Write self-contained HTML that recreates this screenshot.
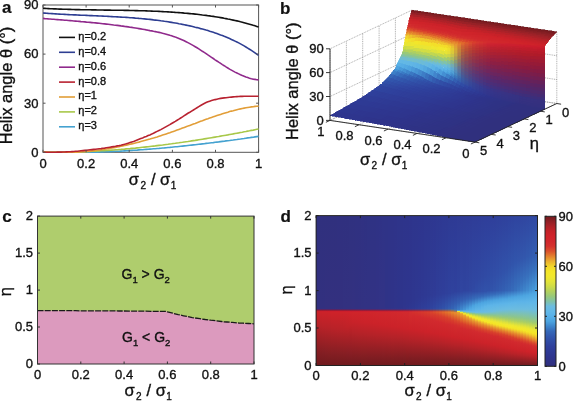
<!DOCTYPE html>
<html><head><meta charset="utf-8"><style>
html,body{margin:0;padding:0;background:#fff;}
svg{display:block;will-change:transform;}
text{font-family:"Liberation Sans", sans-serif;fill:#111;stroke:#111;stroke-width:0.35px;}
.pl{stroke-width:0.2px;}
.t{font-size:13px;}
.lg{font-size:11px;}
.lb{font-size:16.5px;}
.sb{font-size:10px;}
.sb2{font-size:9.5px;}
.g{font-size:14px;}
.pl{font-size:17px;font-weight:bold;}
</style></head><body>
<svg width="573" height="401" viewBox="0 0 573 401">
<defs><linearGradient id="d0" x1="0" y1="0" x2="0" y2="1"><stop offset="0.0000" stop-color="#30307e"/><stop offset="0.6185" stop-color="#32307f"/><stop offset="0.6210" stop-color="#35307f"/><stop offset="0.6260" stop-color="#592362"/><stop offset="0.6310" stop-color="#8c1a3b"/><stop offset="0.6335" stop-color="#a21b2f"/><stop offset="0.6360" stop-color="#b51b2a"/><stop offset="0.6385" stop-color="#c71c2b"/><stop offset="0.6410" stop-color="#cb2229"/><stop offset="0.7312" stop-color="#b82228"/><stop offset="0.9062" stop-color="#841e23"/><stop offset="1.0000" stop-color="#701a1e"/></linearGradient><linearGradient id="d1" x1="0" y1="0" x2="0" y2="1"><stop offset="0.0000" stop-color="#30307e"/><stop offset="0.6186" stop-color="#32307f"/><stop offset="0.6211" stop-color="#35307f"/><stop offset="0.6261" stop-color="#592363"/><stop offset="0.6311" stop-color="#8c1a3b"/><stop offset="0.6336" stop-color="#a21b2f"/><stop offset="0.6361" stop-color="#b61b2a"/><stop offset="0.6386" stop-color="#c81c2b"/><stop offset="0.6411" stop-color="#cc2229"/><stop offset="0.7375" stop-color="#b72228"/><stop offset="0.9187" stop-color="#821d22"/><stop offset="1.0000" stop-color="#701a1e"/></linearGradient><linearGradient id="d2" x1="0" y1="0" x2="0" y2="1"><stop offset="0.0000" stop-color="#30307e"/><stop offset="0.6187" stop-color="#32307f"/><stop offset="0.6212" stop-color="#35307f"/><stop offset="0.6262" stop-color="#592363"/><stop offset="0.6312" stop-color="#8d1a3b"/><stop offset="0.6337" stop-color="#a31b2f"/><stop offset="0.6362" stop-color="#b71b2a"/><stop offset="0.6387" stop-color="#c91c2c"/><stop offset="0.6412" stop-color="#cd2229"/><stop offset="0.7375" stop-color="#b92228"/><stop offset="0.9125" stop-color="#841e23"/><stop offset="1.0000" stop-color="#701a1e"/></linearGradient><linearGradient id="d3" x1="0" y1="0" x2="0" y2="1"><stop offset="0.0000" stop-color="#30307e"/><stop offset="0.6187" stop-color="#33307f"/><stop offset="0.6212" stop-color="#35307f"/><stop offset="0.6262" stop-color="#5a2363"/><stop offset="0.6312" stop-color="#8d1a3b"/><stop offset="0.6337" stop-color="#a31b2f"/><stop offset="0.6362" stop-color="#b71b2a"/><stop offset="0.6387" stop-color="#c91c2c"/><stop offset="0.6412" stop-color="#cd2229"/><stop offset="0.7437" stop-color="#b82228"/><stop offset="0.9187" stop-color="#841e23"/><stop offset="1.0000" stop-color="#701a1e"/></linearGradient><linearGradient id="d4" x1="0" y1="0" x2="0" y2="1"><stop offset="0.0000" stop-color="#30307e"/><stop offset="0.6188" stop-color="#33307f"/><stop offset="0.6213" stop-color="#35307f"/><stop offset="0.6263" stop-color="#5a2363"/><stop offset="0.6313" stop-color="#8e1a3b"/><stop offset="0.6338" stop-color="#a41b2f"/><stop offset="0.6363" stop-color="#b81b2a"/><stop offset="0.6388" stop-color="#ca1c2c"/><stop offset="0.6413" stop-color="#ce2229"/><stop offset="0.7500" stop-color="#b72228"/><stop offset="0.9250" stop-color="#831e22"/><stop offset="1.0000" stop-color="#701a1e"/></linearGradient><linearGradient id="d5" x1="0" y1="0" x2="0" y2="1"><stop offset="0.0000" stop-color="#30307e"/><stop offset="0.6189" stop-color="#33307f"/><stop offset="0.6214" stop-color="#353080"/><stop offset="0.6264" stop-color="#5a2363"/><stop offset="0.6314" stop-color="#8e1a3c"/><stop offset="0.6339" stop-color="#a41b2f"/><stop offset="0.6364" stop-color="#b81b2a"/><stop offset="0.6389" stop-color="#cb1c2c"/><stop offset="0.6414" stop-color="#cf2229"/><stop offset="0.7500" stop-color="#b92228"/><stop offset="0.9187" stop-color="#851e23"/><stop offset="1.0000" stop-color="#701a1e"/></linearGradient><linearGradient id="d6" x1="0" y1="0" x2="0" y2="1"><stop offset="0.0000" stop-color="#30307e"/><stop offset="0.6189" stop-color="#33307f"/><stop offset="0.6214" stop-color="#353180"/><stop offset="0.6264" stop-color="#5a2363"/><stop offset="0.6314" stop-color="#8e1a3c"/><stop offset="0.6339" stop-color="#a41b2f"/><stop offset="0.6364" stop-color="#b91b2a"/><stop offset="0.6389" stop-color="#cb1c2c"/><stop offset="0.6414" stop-color="#cf2229"/><stop offset="0.7500" stop-color="#ba2228"/><stop offset="0.9187" stop-color="#851e23"/><stop offset="1.0000" stop-color="#701a1e"/></linearGradient><linearGradient id="d7" x1="0" y1="0" x2="0" y2="1"><stop offset="0.0000" stop-color="#30307f"/><stop offset="0.6190" stop-color="#33307f"/><stop offset="0.6215" stop-color="#353180"/><stop offset="0.6265" stop-color="#5a2463"/><stop offset="0.6315" stop-color="#8e1b3c"/><stop offset="0.6340" stop-color="#a41b30"/><stop offset="0.6365" stop-color="#b91b2a"/><stop offset="0.6390" stop-color="#cb1c2c"/><stop offset="0.6415" stop-color="#cf2229"/><stop offset="0.7562" stop-color="#b92228"/><stop offset="0.9250" stop-color="#841e23"/><stop offset="1.0000" stop-color="#701a1e"/></linearGradient><linearGradient id="d8" x1="0" y1="0" x2="0" y2="1"><stop offset="0.0000" stop-color="#30307f"/><stop offset="0.6191" stop-color="#33307f"/><stop offset="0.6216" stop-color="#353180"/><stop offset="0.6266" stop-color="#5a2463"/><stop offset="0.6316" stop-color="#8e1b3c"/><stop offset="0.6341" stop-color="#a41b30"/><stop offset="0.6366" stop-color="#b91c2a"/><stop offset="0.6391" stop-color="#cb1c2c"/><stop offset="0.6416" stop-color="#cf2329"/><stop offset="0.7562" stop-color="#ba2228"/><stop offset="0.9187" stop-color="#861e23"/><stop offset="1.0000" stop-color="#701a1e"/></linearGradient><linearGradient id="d9" x1="0" y1="0" x2="0" y2="1"><stop offset="0.0000" stop-color="#30307f"/><stop offset="0.6191" stop-color="#333180"/><stop offset="0.6216" stop-color="#353180"/><stop offset="0.6266" stop-color="#5a2464"/><stop offset="0.6316" stop-color="#8e1b3c"/><stop offset="0.6341" stop-color="#a41b30"/><stop offset="0.6366" stop-color="#b91c2b"/><stop offset="0.6391" stop-color="#cb1c2c"/><stop offset="0.6416" stop-color="#cf232a"/><stop offset="0.7500" stop-color="#bd2228"/><stop offset="0.9187" stop-color="#871e23"/><stop offset="1.0000" stop-color="#701a1e"/></linearGradient><linearGradient id="d10" x1="0" y1="0" x2="0" y2="1"><stop offset="0.0000" stop-color="#30307f"/><stop offset="0.6192" stop-color="#333180"/><stop offset="0.6217" stop-color="#353181"/><stop offset="0.6267" stop-color="#5a2464"/><stop offset="0.6317" stop-color="#8e1b3c"/><stop offset="0.6342" stop-color="#a51c30"/><stop offset="0.6367" stop-color="#b91c2b"/><stop offset="0.6392" stop-color="#cb1d2d"/><stop offset="0.6438" stop-color="#cf232a"/><stop offset="0.7437" stop-color="#c02228"/><stop offset="0.9187" stop-color="#871e24"/><stop offset="1.0000" stop-color="#701a1e"/></linearGradient><linearGradient id="d11" x1="0" y1="0" x2="0" y2="1"><stop offset="0.0000" stop-color="#303180"/><stop offset="0.6193" stop-color="#333180"/><stop offset="0.6218" stop-color="#353181"/><stop offset="0.6268" stop-color="#5a2464"/><stop offset="0.6318" stop-color="#8e1b3d"/><stop offset="0.6343" stop-color="#a51c30"/><stop offset="0.6368" stop-color="#b91c2b"/><stop offset="0.6393" stop-color="#cb1d2d"/><stop offset="0.6438" stop-color="#d0232a"/><stop offset="0.7250" stop-color="#c42228"/><stop offset="0.9187" stop-color="#881e24"/><stop offset="1.0000" stop-color="#701a1e"/></linearGradient><linearGradient id="d12" x1="0" y1="0" x2="0" y2="1"><stop offset="0.0000" stop-color="#303180"/><stop offset="0.6193" stop-color="#333181"/><stop offset="0.6218" stop-color="#353181"/><stop offset="0.6268" stop-color="#5a2465"/><stop offset="0.6318" stop-color="#8f1b3d"/><stop offset="0.6343" stop-color="#a51c31"/><stop offset="0.6368" stop-color="#b91d2b"/><stop offset="0.6393" stop-color="#cb1d2d"/><stop offset="0.6438" stop-color="#d0242a"/><stop offset="0.7063" stop-color="#c92229"/><stop offset="0.7812" stop-color="#b52228"/><stop offset="0.9375" stop-color="#821d22"/><stop offset="1.0000" stop-color="#701a1e"/></linearGradient><linearGradient id="d13" x1="0" y1="0" x2="0" y2="1"><stop offset="0.0000" stop-color="#303181"/><stop offset="0.6194" stop-color="#323181"/><stop offset="0.6219" stop-color="#353182"/><stop offset="0.6269" stop-color="#5a2565"/><stop offset="0.6319" stop-color="#8f1c3d"/><stop offset="0.6344" stop-color="#a51c31"/><stop offset="0.6369" stop-color="#b91d2b"/><stop offset="0.6394" stop-color="#cb1d2d"/><stop offset="0.6438" stop-color="#d0242a"/><stop offset="0.7125" stop-color="#c82229"/><stop offset="0.7875" stop-color="#b42228"/><stop offset="0.9437" stop-color="#801d22"/><stop offset="1.0000" stop-color="#701a1e"/></linearGradient><linearGradient id="d14" x1="0" y1="0" x2="0" y2="1"><stop offset="0.0000" stop-color="#303181"/><stop offset="0.6195" stop-color="#323182"/><stop offset="0.6220" stop-color="#353282"/><stop offset="0.6270" stop-color="#5a2565"/><stop offset="0.6320" stop-color="#8f1c3e"/><stop offset="0.6345" stop-color="#a51d31"/><stop offset="0.6370" stop-color="#b91d2c"/><stop offset="0.6395" stop-color="#cc1e2d"/><stop offset="0.6438" stop-color="#d0242a"/><stop offset="0.7125" stop-color="#c92229"/><stop offset="0.7875" stop-color="#b52228"/><stop offset="0.9437" stop-color="#811d22"/><stop offset="1.0000" stop-color="#701a1e"/></linearGradient><linearGradient id="d15" x1="0" y1="0" x2="0" y2="1"><stop offset="0.0000" stop-color="#303182"/><stop offset="0.6195" stop-color="#323282"/><stop offset="0.6220" stop-color="#353283"/><stop offset="0.6270" stop-color="#5a2566"/><stop offset="0.6320" stop-color="#8f1c3e"/><stop offset="0.6345" stop-color="#a51d31"/><stop offset="0.6370" stop-color="#b91d2c"/><stop offset="0.6395" stop-color="#cc1e2e"/><stop offset="0.6438" stop-color="#d0242b"/><stop offset="0.7125" stop-color="#ca2229"/><stop offset="0.7875" stop-color="#b52228"/><stop offset="0.9375" stop-color="#831e22"/><stop offset="1.0000" stop-color="#701a1e"/></linearGradient><linearGradient id="d16" x1="0" y1="0" x2="0" y2="1"><stop offset="0.0000" stop-color="#2f3182"/><stop offset="0.6196" stop-color="#323283"/><stop offset="0.6221" stop-color="#353283"/><stop offset="0.6271" stop-color="#5a2566"/><stop offset="0.6321" stop-color="#8f1c3e"/><stop offset="0.6346" stop-color="#a51d32"/><stop offset="0.6371" stop-color="#b91e2c"/><stop offset="0.6396" stop-color="#cc1e2e"/><stop offset="0.6438" stop-color="#d0252b"/><stop offset="0.7125" stop-color="#cb2229"/><stop offset="0.7875" stop-color="#b62228"/><stop offset="0.9375" stop-color="#831e22"/><stop offset="1.0000" stop-color="#701a1e"/></linearGradient><linearGradient id="d17" x1="0" y1="0" x2="0" y2="1"><stop offset="0.0000" stop-color="#2f3283"/><stop offset="0.6197" stop-color="#323283"/><stop offset="0.6222" stop-color="#353284"/><stop offset="0.6272" stop-color="#5a2566"/><stop offset="0.6322" stop-color="#8f1d3f"/><stop offset="0.6347" stop-color="#a51d32"/><stop offset="0.6372" stop-color="#b91e2c"/><stop offset="0.6397" stop-color="#cc1f2e"/><stop offset="0.6438" stop-color="#d0252b"/><stop offset="0.7125" stop-color="#cb2229"/><stop offset="0.7937" stop-color="#b52228"/><stop offset="0.9437" stop-color="#811d22"/><stop offset="1.0000" stop-color="#701a1e"/></linearGradient><linearGradient id="d18" x1="0" y1="0" x2="0" y2="1"><stop offset="0.0000" stop-color="#2f3284"/><stop offset="0.6198" stop-color="#323284"/><stop offset="0.6222" stop-color="#353284"/><stop offset="0.6272" stop-color="#5a2667"/><stop offset="0.6322" stop-color="#8f1d3f"/><stop offset="0.6347" stop-color="#a51e32"/><stop offset="0.6372" stop-color="#b91e2d"/><stop offset="0.6398" stop-color="#cc1f2e"/><stop offset="0.6438" stop-color="#d0252b"/><stop offset="0.7188" stop-color="#cb2229"/><stop offset="0.7937" stop-color="#b52228"/><stop offset="0.9437" stop-color="#811d22"/><stop offset="1.0000" stop-color="#701a1e"/></linearGradient><linearGradient id="d19" x1="0" y1="0" x2="0" y2="1"><stop offset="0.0000" stop-color="#2f3284"/><stop offset="0.6198" stop-color="#323284"/><stop offset="0.6223" stop-color="#353385"/><stop offset="0.6273" stop-color="#5b2667"/><stop offset="0.6323" stop-color="#8f1d3f"/><stop offset="0.6348" stop-color="#a51e33"/><stop offset="0.6373" stop-color="#b91e2d"/><stop offset="0.6398" stop-color="#cc1f2e"/><stop offset="0.6438" stop-color="#d0262b"/><stop offset="0.7188" stop-color="#cc2229"/><stop offset="0.7937" stop-color="#b62228"/><stop offset="0.9437" stop-color="#811d22"/><stop offset="1.0000" stop-color="#701a1e"/></linearGradient><linearGradient id="d20" x1="0" y1="0" x2="0" y2="1"><stop offset="0.0000" stop-color="#2f3285"/><stop offset="0.6199" stop-color="#323285"/><stop offset="0.6224" stop-color="#353385"/><stop offset="0.6274" stop-color="#5b2668"/><stop offset="0.6324" stop-color="#8f1d40"/><stop offset="0.6349" stop-color="#a51e33"/><stop offset="0.6374" stop-color="#ba1f2d"/><stop offset="0.6399" stop-color="#cc1f2f"/><stop offset="0.6438" stop-color="#d1262c"/><stop offset="0.7250" stop-color="#cb2229"/><stop offset="0.8000" stop-color="#b52228"/><stop offset="0.9437" stop-color="#811d22"/><stop offset="1.0000" stop-color="#701a1e"/></linearGradient><linearGradient id="d21" x1="0" y1="0" x2="0" y2="1"><stop offset="0.0000" stop-color="#2f3286"/><stop offset="0.6200" stop-color="#323386"/><stop offset="0.6225" stop-color="#353386"/><stop offset="0.6275" stop-color="#5b2668"/><stop offset="0.6325" stop-color="#8f1e40"/><stop offset="0.6350" stop-color="#a51e33"/><stop offset="0.6375" stop-color="#ba1f2e"/><stop offset="0.6400" stop-color="#cc202f"/><stop offset="0.6438" stop-color="#d1262c"/><stop offset="0.7250" stop-color="#cc2229"/><stop offset="0.8000" stop-color="#b52228"/><stop offset="0.9437" stop-color="#811d22"/><stop offset="1.0000" stop-color="#701a1e"/></linearGradient><linearGradient id="d22" x1="0" y1="0" x2="0" y2="1"><stop offset="0.0000" stop-color="#2f3387"/><stop offset="0.6200" stop-color="#323386"/><stop offset="0.6225" stop-color="#353386"/><stop offset="0.6275" stop-color="#5b2769"/><stop offset="0.6325" stop-color="#8f1e40"/><stop offset="0.6350" stop-color="#a51f34"/><stop offset="0.6375" stop-color="#ba1f2e"/><stop offset="0.6400" stop-color="#cc202f"/><stop offset="0.6438" stop-color="#d1272c"/><stop offset="0.7312" stop-color="#cb2229"/><stop offset="0.8000" stop-color="#b62228"/><stop offset="0.9375" stop-color="#841e23"/><stop offset="1.0000" stop-color="#701a1e"/></linearGradient><linearGradient id="d23" x1="0" y1="0" x2="0" y2="1"><stop offset="0.0000" stop-color="#2f3387"/><stop offset="0.6176" stop-color="#2f3387"/><stop offset="0.6226" stop-color="#353487"/><stop offset="0.6276" stop-color="#5b2769"/><stop offset="0.6326" stop-color="#8f1e41"/><stop offset="0.6351" stop-color="#a51f34"/><stop offset="0.6376" stop-color="#ba202e"/><stop offset="0.6401" stop-color="#cc202f"/><stop offset="0.6438" stop-color="#d1272c"/><stop offset="0.7312" stop-color="#cc2229"/><stop offset="0.8063" stop-color="#b42228"/><stop offset="0.9437" stop-color="#821d22"/><stop offset="1.0000" stop-color="#701a1e"/></linearGradient><linearGradient id="d24" x1="0" y1="0" x2="0" y2="1"><stop offset="0.0000" stop-color="#2f3388"/><stop offset="0.6176" stop-color="#2f3388"/><stop offset="0.6226" stop-color="#353488"/><stop offset="0.6276" stop-color="#5a276a"/><stop offset="0.6326" stop-color="#8f1f41"/><stop offset="0.6351" stop-color="#a51f34"/><stop offset="0.6376" stop-color="#ba202f"/><stop offset="0.6401" stop-color="#cd2130"/><stop offset="0.6438" stop-color="#d1272c"/><stop offset="0.7375" stop-color="#cb2229"/><stop offset="0.8063" stop-color="#b52228"/><stop offset="0.9500" stop-color="#801d22"/><stop offset="1.0000" stop-color="#701a1e"/></linearGradient><linearGradient id="d25" x1="0" y1="0" x2="0" y2="1"><stop offset="0.0000" stop-color="#2f3388"/><stop offset="0.6177" stop-color="#2f3389"/><stop offset="0.6227" stop-color="#353489"/><stop offset="0.6277" stop-color="#5a286b"/><stop offset="0.6327" stop-color="#8f1f42"/><stop offset="0.6352" stop-color="#a52035"/><stop offset="0.6377" stop-color="#ba202f"/><stop offset="0.6402" stop-color="#cd2130"/><stop offset="0.6438" stop-color="#d1282d"/><stop offset="0.7375" stop-color="#cc2229"/><stop offset="0.8125" stop-color="#b42228"/><stop offset="0.9563" stop-color="#7e1d21"/><stop offset="1.0000" stop-color="#701a1e"/></linearGradient><linearGradient id="d26" x1="0" y1="0" x2="0" y2="1"><stop offset="0.0000" stop-color="#2f3389"/><stop offset="0.6177" stop-color="#2f348a"/><stop offset="0.6227" stop-color="#353589"/><stop offset="0.6277" stop-color="#5a286b"/><stop offset="0.6327" stop-color="#8f1f42"/><stop offset="0.6352" stop-color="#a62035"/><stop offset="0.6377" stop-color="#ba212f"/><stop offset="0.6402" stop-color="#cd2230"/><stop offset="0.6438" stop-color="#d1282d"/><stop offset="0.7437" stop-color="#cb2229"/><stop offset="0.8125" stop-color="#b42228"/><stop offset="0.9500" stop-color="#801d22"/><stop offset="1.0000" stop-color="#701a1e"/></linearGradient><linearGradient id="d27" x1="0" y1="0" x2="0" y2="1"><stop offset="0.0000" stop-color="#2f348a"/><stop offset="0.6178" stop-color="#2e348b"/><stop offset="0.6228" stop-color="#35358a"/><stop offset="0.6278" stop-color="#5a286c"/><stop offset="0.6328" stop-color="#8f2043"/><stop offset="0.6353" stop-color="#a62136"/><stop offset="0.6378" stop-color="#ba2130"/><stop offset="0.6403" stop-color="#cd2231"/><stop offset="0.6438" stop-color="#d2292d"/><stop offset="0.7437" stop-color="#cc2229"/><stop offset="0.8125" stop-color="#b52228"/><stop offset="0.9437" stop-color="#821d22"/><stop offset="1.0000" stop-color="#701a1e"/></linearGradient><linearGradient id="d28" x1="0" y1="0" x2="0" y2="1"><stop offset="0.0000" stop-color="#2e348a"/><stop offset="0.6178" stop-color="#2e348c"/><stop offset="0.6228" stop-color="#35358b"/><stop offset="0.6278" stop-color="#5a296d"/><stop offset="0.6328" stop-color="#8f2044"/><stop offset="0.6353" stop-color="#a62137"/><stop offset="0.6378" stop-color="#ba2230"/><stop offset="0.6403" stop-color="#cd2231"/><stop offset="0.6438" stop-color="#d2292d"/><stop offset="0.7500" stop-color="#cb2229"/><stop offset="0.8187" stop-color="#b32228"/><stop offset="0.9500" stop-color="#801d22"/><stop offset="1.0000" stop-color="#701a1e"/></linearGradient><linearGradient id="d29" x1="0" y1="0" x2="0" y2="1"><stop offset="0.0000" stop-color="#2e348b"/><stop offset="0.5938" stop-color="#2e358d"/><stop offset="0.6203" stop-color="#31358d"/><stop offset="0.6228" stop-color="#34368d"/><stop offset="0.6278" stop-color="#5a296e"/><stop offset="0.6328" stop-color="#8f2145"/><stop offset="0.6353" stop-color="#a62137"/><stop offset="0.6378" stop-color="#ba2231"/><stop offset="0.6403" stop-color="#cd2332"/><stop offset="0.6438" stop-color="#d22a2e"/><stop offset="0.7500" stop-color="#cc2229"/><stop offset="0.8125" stop-color="#b72228"/><stop offset="0.9437" stop-color="#821e22"/><stop offset="1.0000" stop-color="#701a1e"/></linearGradient><linearGradient id="d30" x1="0" y1="0" x2="0" y2="1"><stop offset="0.0000" stop-color="#2e348b"/><stop offset="0.5750" stop-color="#2e358e"/><stop offset="0.6179" stop-color="#2e368f"/><stop offset="0.6229" stop-color="#35378e"/><stop offset="0.6279" stop-color="#5b2a6f"/><stop offset="0.6329" stop-color="#8f2245"/><stop offset="0.6354" stop-color="#a62238"/><stop offset="0.6379" stop-color="#bb2331"/><stop offset="0.6404" stop-color="#cd2432"/><stop offset="0.6438" stop-color="#d22a2e"/><stop offset="0.7562" stop-color="#cb2229"/><stop offset="0.8250" stop-color="#b32228"/><stop offset="0.9688" stop-color="#7a1c20"/><stop offset="1.0000" stop-color="#701a1e"/></linearGradient><linearGradient id="d31" x1="0" y1="0" x2="0" y2="1"><stop offset="0.0000" stop-color="#2e348c"/><stop offset="0.5625" stop-color="#2e358e"/><stop offset="0.6179" stop-color="#2e3791"/><stop offset="0.6229" stop-color="#35388f"/><stop offset="0.6279" stop-color="#5b2c70"/><stop offset="0.6329" stop-color="#902446"/><stop offset="0.6354" stop-color="#a62538"/><stop offset="0.6379" stop-color="#bb2531"/><stop offset="0.6404" stop-color="#ce2632"/><stop offset="0.6438" stop-color="#d32d2e"/><stop offset="0.7562" stop-color="#cc2229"/><stop offset="0.8187" stop-color="#b72228"/><stop offset="0.9500" stop-color="#801d22"/><stop offset="1.0000" stop-color="#701a1e"/></linearGradient><linearGradient id="d32" x1="0" y1="0" x2="0" y2="1"><stop offset="0.0000" stop-color="#2e358d"/><stop offset="0.5562" stop-color="#2e368f"/><stop offset="0.6179" stop-color="#2e3892"/><stop offset="0.6229" stop-color="#353a90"/><stop offset="0.6279" stop-color="#5b2e71"/><stop offset="0.6329" stop-color="#902646"/><stop offset="0.6354" stop-color="#a72738"/><stop offset="0.6379" stop-color="#bc2832"/><stop offset="0.6404" stop-color="#cf2932"/><stop offset="0.6438" stop-color="#d4302d"/><stop offset="0.6750" stop-color="#d1282d"/><stop offset="0.7625" stop-color="#cb2229"/><stop offset="0.8250" stop-color="#b52228"/><stop offset="0.9500" stop-color="#811d22"/><stop offset="1.0000" stop-color="#701a1e"/></linearGradient><linearGradient id="d33" x1="0" y1="0" x2="0" y2="1"><stop offset="0.0000" stop-color="#2e358d"/><stop offset="0.5500" stop-color="#2e3790"/><stop offset="0.6180" stop-color="#2e3a94"/><stop offset="0.6230" stop-color="#353c92"/><stop offset="0.6280" stop-color="#5c3072"/><stop offset="0.6330" stop-color="#912847"/><stop offset="0.6355" stop-color="#a82939"/><stop offset="0.6380" stop-color="#bc2a32"/><stop offset="0.6405" stop-color="#cf2c32"/><stop offset="0.6438" stop-color="#d4322d"/><stop offset="0.6750" stop-color="#d2292d"/><stop offset="0.7625" stop-color="#cc2229"/><stop offset="0.8250" stop-color="#b62228"/><stop offset="0.9500" stop-color="#811d22"/><stop offset="1.0000" stop-color="#701a1e"/></linearGradient><linearGradient id="d34" x1="0" y1="0" x2="0" y2="1"><stop offset="0.0000" stop-color="#2e358e"/><stop offset="0.5437" stop-color="#2e3791"/><stop offset="0.6180" stop-color="#2f3b96"/><stop offset="0.6230" stop-color="#363d93"/><stop offset="0.6280" stop-color="#5c3273"/><stop offset="0.6330" stop-color="#912a47"/><stop offset="0.6355" stop-color="#a82c39"/><stop offset="0.6380" stop-color="#bd2d32"/><stop offset="0.6405" stop-color="#d02e32"/><stop offset="0.6438" stop-color="#d5352d"/><stop offset="0.6750" stop-color="#d2292e"/><stop offset="0.7688" stop-color="#cb2229"/><stop offset="0.8250" stop-color="#b72228"/><stop offset="0.9500" stop-color="#811d22"/><stop offset="1.0000" stop-color="#701a1e"/></linearGradient><linearGradient id="d35" x1="0" y1="0" x2="0" y2="1"><stop offset="0.0000" stop-color="#2e358e"/><stop offset="0.5375" stop-color="#2e3892"/><stop offset="0.6181" stop-color="#2f3d98"/><stop offset="0.6231" stop-color="#363f95"/><stop offset="0.6281" stop-color="#5c3474"/><stop offset="0.6331" stop-color="#922d48"/><stop offset="0.6356" stop-color="#a92e39"/><stop offset="0.6381" stop-color="#be3032"/><stop offset="0.6406" stop-color="#d13132"/><stop offset="0.6438" stop-color="#d6382d"/><stop offset="0.6812" stop-color="#d2292e"/><stop offset="0.7688" stop-color="#cc2229"/><stop offset="0.8313" stop-color="#b52228"/><stop offset="0.9563" stop-color="#7f1d22"/><stop offset="1.0000" stop-color="#701a1e"/></linearGradient><linearGradient id="d36" x1="0" y1="0" x2="0" y2="1"><stop offset="0.0000" stop-color="#2e368f"/><stop offset="0.5375" stop-color="#2e3993"/><stop offset="0.6181" stop-color="#2f3e9a"/><stop offset="0.6231" stop-color="#364196"/><stop offset="0.6281" stop-color="#5d3675"/><stop offset="0.6331" stop-color="#922f48"/><stop offset="0.6356" stop-color="#a9313a"/><stop offset="0.6381" stop-color="#be3232"/><stop offset="0.6406" stop-color="#d23432"/><stop offset="0.6438" stop-color="#d73b2c"/><stop offset="0.6875" stop-color="#d2292d"/><stop offset="0.7750" stop-color="#cc2229"/><stop offset="0.8313" stop-color="#b72228"/><stop offset="0.9500" stop-color="#821d22"/><stop offset="1.0000" stop-color="#701a1e"/></linearGradient><linearGradient id="d37" x1="0" y1="0" x2="0" y2="1"><stop offset="0.0000" stop-color="#2e368f"/><stop offset="0.5312" stop-color="#2e3a94"/><stop offset="0.6182" stop-color="#2f409c"/><stop offset="0.6232" stop-color="#364397"/><stop offset="0.6282" stop-color="#5d3876"/><stop offset="0.6332" stop-color="#933249"/><stop offset="0.6357" stop-color="#aa333a"/><stop offset="0.6382" stop-color="#bf3532"/><stop offset="0.6407" stop-color="#d23731"/><stop offset="0.6438" stop-color="#d83e2c"/><stop offset="0.6875" stop-color="#d22a2e"/><stop offset="0.7750" stop-color="#cd2229"/><stop offset="0.8375" stop-color="#b52228"/><stop offset="0.9500" stop-color="#821d22"/><stop offset="1.0000" stop-color="#701a1e"/></linearGradient><linearGradient id="d38" x1="0" y1="0" x2="0" y2="1"><stop offset="0.0000" stop-color="#2e3790"/><stop offset="0.5312" stop-color="#2f3b95"/><stop offset="0.6183" stop-color="#2f439e"/><stop offset="0.6233" stop-color="#374699"/><stop offset="0.6283" stop-color="#5e3c77"/><stop offset="0.6333" stop-color="#94364a"/><stop offset="0.6358" stop-color="#ab383b"/><stop offset="0.6383" stop-color="#c03a32"/><stop offset="0.6408" stop-color="#d43c31"/><stop offset="0.6438" stop-color="#d9442c"/><stop offset="0.6937" stop-color="#d22a2e"/><stop offset="0.7812" stop-color="#cc2229"/><stop offset="0.8375" stop-color="#b62228"/><stop offset="0.9563" stop-color="#801d22"/><stop offset="1.0000" stop-color="#701a1e"/></linearGradient><linearGradient id="d39" x1="0" y1="0" x2="0" y2="1"><stop offset="0.0000" stop-color="#2e3791"/><stop offset="0.5250" stop-color="#2f3b96"/><stop offset="0.6183" stop-color="#3046a1"/><stop offset="0.6233" stop-color="#374a9b"/><stop offset="0.6283" stop-color="#5f4178"/><stop offset="0.6333" stop-color="#953c4b"/><stop offset="0.6358" stop-color="#ac3f3b"/><stop offset="0.6383" stop-color="#c14133"/><stop offset="0.6408" stop-color="#d54431"/><stop offset="0.6438" stop-color="#da4c2b"/><stop offset="0.6625" stop-color="#d73b2c"/><stop offset="0.7000" stop-color="#d22a2e"/><stop offset="0.7875" stop-color="#cb2229"/><stop offset="0.8438" stop-color="#b52228"/><stop offset="0.9625" stop-color="#7d1d21"/><stop offset="1.0000" stop-color="#701a1e"/></linearGradient><linearGradient id="d40" x1="0" y1="0" x2="0" y2="1"><stop offset="0.0000" stop-color="#2e3891"/><stop offset="0.5250" stop-color="#2f3d98"/><stop offset="0.6185" stop-color="#304aa3"/><stop offset="0.6235" stop-color="#384f9e"/><stop offset="0.6285" stop-color="#60477a"/><stop offset="0.6335" stop-color="#96434c"/><stop offset="0.6360" stop-color="#ad463c"/><stop offset="0.6385" stop-color="#c34933"/><stop offset="0.6410" stop-color="#d64c31"/><stop offset="0.6438" stop-color="#dc542b"/><stop offset="0.6625" stop-color="#d83f2c"/><stop offset="0.7063" stop-color="#d2292e"/><stop offset="0.7875" stop-color="#cc2229"/><stop offset="0.8438" stop-color="#b62228"/><stop offset="0.9500" stop-color="#831e22"/><stop offset="1.0000" stop-color="#701a1e"/></linearGradient><linearGradient id="d41" x1="0" y1="0" x2="0" y2="1"><stop offset="0.0000" stop-color="#2e3892"/><stop offset="0.5250" stop-color="#2f3e99"/><stop offset="0.6186" stop-color="#304da6"/><stop offset="0.6236" stop-color="#3954a0"/><stop offset="0.6286" stop-color="#614d7b"/><stop offset="0.6336" stop-color="#974a4d"/><stop offset="0.6361" stop-color="#af4d3c"/><stop offset="0.6386" stop-color="#c45133"/><stop offset="0.6411" stop-color="#d85431"/><stop offset="0.6438" stop-color="#de5d2b"/><stop offset="0.6687" stop-color="#d83f2c"/><stop offset="0.7125" stop-color="#d2292e"/><stop offset="0.7937" stop-color="#cc2229"/><stop offset="0.8500" stop-color="#b42228"/><stop offset="0.9625" stop-color="#7e1d21"/><stop offset="1.0000" stop-color="#701a1e"/></linearGradient><linearGradient id="d42" x1="0" y1="0" x2="0" y2="1"><stop offset="0.0000" stop-color="#2e3993"/><stop offset="0.5188" stop-color="#2f3e9a"/><stop offset="0.6187" stop-color="#3151a9"/><stop offset="0.6237" stop-color="#3959a2"/><stop offset="0.6287" stop-color="#62537d"/><stop offset="0.6337" stop-color="#99514d"/><stop offset="0.6362" stop-color="#b0553d"/><stop offset="0.6387" stop-color="#c65933"/><stop offset="0.6412" stop-color="#da5d31"/><stop offset="0.6438" stop-color="#e0672a"/><stop offset="0.6750" stop-color="#d83f2c"/><stop offset="0.7188" stop-color="#d2292d"/><stop offset="0.7937" stop-color="#cd2229"/><stop offset="0.8500" stop-color="#b62228"/><stop offset="0.9625" stop-color="#7e1d21"/><stop offset="1.0000" stop-color="#701a1e"/></linearGradient><linearGradient id="d43" x1="0" y1="0" x2="0" y2="1"><stop offset="0.0000" stop-color="#2e3993"/><stop offset="0.5188" stop-color="#2f409b"/><stop offset="0.6189" stop-color="#3257ad"/><stop offset="0.6239" stop-color="#3b5fa5"/><stop offset="0.6289" stop-color="#635a80"/><stop offset="0.6339" stop-color="#9a594f"/><stop offset="0.6364" stop-color="#b25e3e"/><stop offset="0.6389" stop-color="#c76335"/><stop offset="0.6414" stop-color="#db6732"/><stop offset="0.6439" stop-color="#e1722b"/><stop offset="0.6812" stop-color="#d8402c"/><stop offset="0.7250" stop-color="#d2292d"/><stop offset="0.8000" stop-color="#cc2229"/><stop offset="0.8500" stop-color="#b82228"/><stop offset="0.9500" stop-color="#841e23"/><stop offset="1.0000" stop-color="#701a1e"/></linearGradient><linearGradient id="d44" x1="0" y1="0" x2="0" y2="1"><stop offset="0.0000" stop-color="#2e3a94"/><stop offset="0.5188" stop-color="#2f419d"/><stop offset="0.6190" stop-color="#335db1"/><stop offset="0.6240" stop-color="#3c66a8"/><stop offset="0.6290" stop-color="#646282"/><stop offset="0.6340" stop-color="#9b6252"/><stop offset="0.6365" stop-color="#b36740"/><stop offset="0.6390" stop-color="#c96c36"/><stop offset="0.6415" stop-color="#dd7134"/><stop offset="0.6440" stop-color="#e37c2c"/><stop offset="0.6875" stop-color="#d8412c"/><stop offset="0.7250" stop-color="#d22a2e"/><stop offset="0.8063" stop-color="#cb2229"/><stop offset="0.8562" stop-color="#b62228"/><stop offset="0.9563" stop-color="#821d22"/><stop offset="1.0000" stop-color="#701a1e"/></linearGradient><linearGradient id="d45" x1="0" y1="0" x2="0" y2="1"><stop offset="0.0000" stop-color="#2e3a94"/><stop offset="0.5125" stop-color="#2f429d"/><stop offset="0.6205" stop-color="#3463b5"/><stop offset="0.6255" stop-color="#3d6eac"/><stop offset="0.6305" stop-color="#656a85"/><stop offset="0.6355" stop-color="#9d6b54"/><stop offset="0.6380" stop-color="#b47043"/><stop offset="0.6405" stop-color="#ca7638"/><stop offset="0.6430" stop-color="#de7b35"/><stop offset="0.6455" stop-color="#e4872d"/><stop offset="0.7000" stop-color="#d73d2c"/><stop offset="0.7312" stop-color="#d22a2e"/><stop offset="0.8063" stop-color="#cd2229"/><stop offset="0.8562" stop-color="#b82228"/><stop offset="0.9625" stop-color="#7f1d22"/><stop offset="1.0000" stop-color="#701a1e"/></linearGradient><linearGradient id="d46" x1="0" y1="0" x2="0" y2="1"><stop offset="0.0000" stop-color="#2e3a95"/><stop offset="0.5062" stop-color="#2f419d"/><stop offset="0.5875" stop-color="#335db1"/><stop offset="0.6234" stop-color="#376dbc"/><stop offset="0.6284" stop-color="#3f77b2"/><stop offset="0.6334" stop-color="#67748a"/><stop offset="0.6384" stop-color="#9e7557"/><stop offset="0.6409" stop-color="#b67a45"/><stop offset="0.6434" stop-color="#cc7f3a"/><stop offset="0.6459" stop-color="#e08537"/><stop offset="0.6484" stop-color="#e6902e"/><stop offset="0.7000" stop-color="#d9462c"/><stop offset="0.7312" stop-color="#d32c2e"/><stop offset="0.8125" stop-color="#cc2229"/><stop offset="0.8625" stop-color="#b62228"/><stop offset="0.9563" stop-color="#831e22"/><stop offset="1.0000" stop-color="#701a1e"/></linearGradient><linearGradient id="d47" x1="0" y1="0" x2="0" y2="1"><stop offset="0.0000" stop-color="#2f3b95"/><stop offset="0.5062" stop-color="#2f439e"/><stop offset="0.5813" stop-color="#3460b3"/><stop offset="0.6302" stop-color="#3c7ec7"/><stop offset="0.6312" stop-color="#3e86cc"/><stop offset="0.6336" stop-color="#56aee7"/><stop offset="0.6352" stop-color="#6cbce0"/><stop offset="0.6369" stop-color="#a3cc6b"/><stop offset="0.6375" stop-color="#bdd454"/><stop offset="0.6386" stop-color="#e2e339"/><stop offset="0.6402" stop-color="#f4e628"/><stop offset="0.6419" stop-color="#eec02c"/><stop offset="0.6438" stop-color="#e9a52f"/><stop offset="0.7063" stop-color="#d9472c"/><stop offset="0.7312" stop-color="#d4302d"/><stop offset="0.7562" stop-color="#d1282d"/><stop offset="0.8187" stop-color="#cb2229"/><stop offset="0.8625" stop-color="#b72228"/><stop offset="0.9563" stop-color="#831e23"/><stop offset="1.0000" stop-color="#701a1e"/></linearGradient><linearGradient id="d48" x1="0" y1="0" x2="0" y2="1"><stop offset="0.0000" stop-color="#2f3b96"/><stop offset="0.5062" stop-color="#3045a0"/><stop offset="0.5687" stop-color="#335fb2"/><stop offset="0.6291" stop-color="#408bcf"/><stop offset="0.6312" stop-color="#4493d5"/><stop offset="0.6355" stop-color="#5ab2e8"/><stop offset="0.6375" stop-color="#67bae4"/><stop offset="0.6386" stop-color="#72bed0"/><stop offset="0.6418" stop-color="#a8ce66"/><stop offset="0.6438" stop-color="#d2dd45"/><stop offset="0.6450" stop-color="#e4e438"/><stop offset="0.6481" stop-color="#f4e628"/><stop offset="0.6513" stop-color="#eec12b"/><stop offset="0.6545" stop-color="#e9a52f"/><stop offset="0.7063" stop-color="#dc542b"/><stop offset="0.7188" stop-color="#d83f2c"/><stop offset="0.7500" stop-color="#d2292e"/><stop offset="0.8187" stop-color="#cd2229"/><stop offset="0.8688" stop-color="#b52228"/><stop offset="0.9625" stop-color="#811d22"/><stop offset="1.0000" stop-color="#701a1e"/></linearGradient><linearGradient id="d49" x1="0" y1="0" x2="0" y2="1"><stop offset="0.0000" stop-color="#2f3c96"/><stop offset="0.5000" stop-color="#2f449f"/><stop offset="0.5625" stop-color="#3460b3"/><stop offset="0.5875" stop-color="#3974c0"/><stop offset="0.6278" stop-color="#4697d7"/><stop offset="0.6326" stop-color="#4ea6e1"/><stop offset="0.6375" stop-color="#5eb5e8"/><stop offset="0.6423" stop-color="#78bfbf"/><stop offset="0.6438" stop-color="#86c397"/><stop offset="0.6471" stop-color="#aecf61"/><stop offset="0.6500" stop-color="#d4de43"/><stop offset="0.6519" stop-color="#e6e537"/><stop offset="0.6568" stop-color="#f4e627"/><stop offset="0.6625" stop-color="#ecb82d"/><stop offset="0.6664" stop-color="#e9a330"/><stop offset="0.7063" stop-color="#de622a"/><stop offset="0.7250" stop-color="#d83f2c"/><stop offset="0.7562" stop-color="#d2292e"/><stop offset="0.8250" stop-color="#cc2229"/><stop offset="0.8688" stop-color="#b82228"/><stop offset="0.9563" stop-color="#851e23"/><stop offset="1.0000" stop-color="#701a1e"/></linearGradient><linearGradient id="d50" x1="0" y1="0" x2="0" y2="1"><stop offset="0.0000" stop-color="#2f3c97"/><stop offset="0.5000" stop-color="#3045a0"/><stop offset="0.5562" stop-color="#3461b4"/><stop offset="0.5813" stop-color="#3a77c2"/><stop offset="0.6187" stop-color="#489cda"/><stop offset="0.6324" stop-color="#52aae4"/><stop offset="0.6390" stop-color="#61b7e8"/><stop offset="0.6438" stop-color="#72bed0"/><stop offset="0.6456" stop-color="#7dc1b0"/><stop offset="0.6500" stop-color="#9fcb70"/><stop offset="0.6562" stop-color="#d9e03f"/><stop offset="0.6587" stop-color="#e7e536"/><stop offset="0.6625" stop-color="#f2e72c"/><stop offset="0.6653" stop-color="#f4e627"/><stop offset="0.6719" stop-color="#eec02c"/><stop offset="0.6750" stop-color="#eaac2e"/><stop offset="0.6812" stop-color="#e79c30"/><stop offset="0.7188" stop-color="#dc572b"/><stop offset="0.7312" stop-color="#d83f2c"/><stop offset="0.7625" stop-color="#d2292e"/><stop offset="0.8250" stop-color="#cd2229"/><stop offset="0.8750" stop-color="#b62228"/><stop offset="0.9625" stop-color="#821d22"/><stop offset="1.0000" stop-color="#701a1e"/></linearGradient><linearGradient id="d51" x1="0" y1="0" x2="0" y2="1"><stop offset="0.0000" stop-color="#2f3c97"/><stop offset="0.5000" stop-color="#3047a1"/><stop offset="0.5562" stop-color="#3565b6"/><stop offset="0.6125" stop-color="#4ba2df"/><stop offset="0.6331" stop-color="#57afe7"/><stop offset="0.6412" stop-color="#65b9e6"/><stop offset="0.6438" stop-color="#6abbe1"/><stop offset="0.6500" stop-color="#87c495"/><stop offset="0.6573" stop-color="#b7d358"/><stop offset="0.6625" stop-color="#dce13d"/><stop offset="0.6653" stop-color="#e9e635"/><stop offset="0.6687" stop-color="#f1e72d"/><stop offset="0.6734" stop-color="#f5e627"/><stop offset="0.6750" stop-color="#f4e127"/><stop offset="0.6875" stop-color="#e9a330"/><stop offset="0.7312" stop-color="#da4c2b"/><stop offset="0.7375" stop-color="#d8402c"/><stop offset="0.7625" stop-color="#d22a2e"/><stop offset="0.8313" stop-color="#cc2229"/><stop offset="0.8750" stop-color="#b82228"/><stop offset="0.9625" stop-color="#831e22"/><stop offset="1.0000" stop-color="#701a1e"/></linearGradient><linearGradient id="d52" x1="0" y1="0" x2="0" y2="1"><stop offset="0.0000" stop-color="#2f3d98"/><stop offset="0.4812" stop-color="#3048a2"/><stop offset="0.5062" stop-color="#304ba5"/><stop offset="0.5562" stop-color="#366cba"/><stop offset="0.6000" stop-color="#4ba2df"/><stop offset="0.6341" stop-color="#5bb3e8"/><stop offset="0.6438" stop-color="#69bbe3"/><stop offset="0.6500" stop-color="#7dc1b1"/><stop offset="0.6529" stop-color="#89c490"/><stop offset="0.6562" stop-color="#9ac978"/><stop offset="0.6625" stop-color="#bed553"/><stop offset="0.6687" stop-color="#dfe23b"/><stop offset="0.6750" stop-color="#f1e82e"/><stop offset="0.6812" stop-color="#f5e627"/><stop offset="0.6905" stop-color="#eebf2c"/><stop offset="0.6937" stop-color="#ebaf2e"/><stop offset="0.7063" stop-color="#e58f2e"/><stop offset="0.7437" stop-color="#d83f2c"/><stop offset="0.7688" stop-color="#d22a2e"/><stop offset="0.8375" stop-color="#cb2229"/><stop offset="0.8812" stop-color="#b62228"/><stop offset="0.9625" stop-color="#831e23"/><stop offset="1.0000" stop-color="#701a1e"/></linearGradient><linearGradient id="d53" x1="0" y1="0" x2="0" y2="1"><stop offset="0.0000" stop-color="#2f3d98"/><stop offset="0.4313" stop-color="#3047a2"/><stop offset="0.5062" stop-color="#304da6"/><stop offset="0.5500" stop-color="#366cba"/><stop offset="0.5938" stop-color="#4da5e0"/><stop offset="0.6375" stop-color="#62b8e8"/><stop offset="0.6463" stop-color="#6cbcdf"/><stop offset="0.6568" stop-color="#90c686"/><stop offset="0.6625" stop-color="#aace65"/><stop offset="0.6687" stop-color="#cada4a"/><stop offset="0.6777" stop-color="#ece732"/><stop offset="0.6882" stop-color="#f5e627"/><stop offset="0.6987" stop-color="#eebf2c"/><stop offset="0.7092" stop-color="#e7982f"/><stop offset="0.7437" stop-color="#da4b2b"/><stop offset="0.7500" stop-color="#d83f2c"/><stop offset="0.7750" stop-color="#d22a2e"/><stop offset="0.8375" stop-color="#cd2229"/><stop offset="0.8812" stop-color="#b82228"/><stop offset="0.9625" stop-color="#841e23"/><stop offset="1.0000" stop-color="#701a1e"/></linearGradient><linearGradient id="d54" x1="0" y1="0" x2="0" y2="1"><stop offset="0.0000" stop-color="#2f3d99"/><stop offset="0.4187" stop-color="#3048a2"/><stop offset="0.5062" stop-color="#314fa7"/><stop offset="0.5437" stop-color="#366aba"/><stop offset="0.5875" stop-color="#4da5e1"/><stop offset="0.6270" stop-color="#5eb4e8"/><stop offset="0.6438" stop-color="#69bbe2"/><stop offset="0.6500" stop-color="#76bfc5"/><stop offset="0.6562" stop-color="#87c495"/><stop offset="0.6625" stop-color="#9dca73"/><stop offset="0.6750" stop-color="#d4de43"/><stop offset="0.6835" stop-color="#eee731"/><stop offset="0.6948" stop-color="#f5e627"/><stop offset="0.7000" stop-color="#f2d728"/><stop offset="0.7125" stop-color="#e9a42f"/><stop offset="0.7500" stop-color="#da4a2c"/><stop offset="0.7625" stop-color="#d6382d"/><stop offset="0.7812" stop-color="#d22a2e"/><stop offset="0.8438" stop-color="#cc2229"/><stop offset="0.8875" stop-color="#b62228"/><stop offset="0.9688" stop-color="#811d22"/><stop offset="1.0000" stop-color="#701a1e"/></linearGradient><linearGradient id="d55" x1="0" y1="0" x2="0" y2="1"><stop offset="0.0000" stop-color="#2f3e99"/><stop offset="0.4125" stop-color="#3049a3"/><stop offset="0.5062" stop-color="#3150a9"/><stop offset="0.5375" stop-color="#3568b8"/><stop offset="0.5813" stop-color="#4da5e1"/><stop offset="0.6125" stop-color="#5cb3e8"/><stop offset="0.6411" stop-color="#68bbe3"/><stop offset="0.6438" stop-color="#6abbe1"/><stop offset="0.6500" stop-color="#75bfc7"/><stop offset="0.6562" stop-color="#83c39f"/><stop offset="0.6652" stop-color="#9dca72"/><stop offset="0.6772" stop-color="#ccdb49"/><stop offset="0.6892" stop-color="#efe830"/><stop offset="0.7012" stop-color="#f5e626"/><stop offset="0.7132" stop-color="#edbc2c"/><stop offset="0.7252" stop-color="#e6922e"/><stop offset="0.7562" stop-color="#da492c"/><stop offset="0.7688" stop-color="#d6372d"/><stop offset="0.7875" stop-color="#d2292e"/><stop offset="0.8500" stop-color="#cb2229"/><stop offset="0.8938" stop-color="#b42228"/><stop offset="0.9688" stop-color="#821d22"/><stop offset="1.0000" stop-color="#701a1e"/></linearGradient><linearGradient id="d56" x1="0" y1="0" x2="0" y2="1"><stop offset="0.0000" stop-color="#2f3e9a"/><stop offset="0.4062" stop-color="#304aa4"/><stop offset="0.5062" stop-color="#3152aa"/><stop offset="0.5375" stop-color="#376ebc"/><stop offset="0.5750" stop-color="#4ca4e0"/><stop offset="0.6062" stop-color="#5db4e8"/><stop offset="0.6438" stop-color="#6cbce0"/><stop offset="0.6500" stop-color="#76bfc5"/><stop offset="0.6625" stop-color="#90c686"/><stop offset="0.6750" stop-color="#b7d259"/><stop offset="0.6875" stop-color="#dfe23b"/><stop offset="0.6946" stop-color="#f0e830"/><stop offset="0.7073" stop-color="#f5e626"/><stop offset="0.7199" stop-color="#edba2c"/><stop offset="0.7325" stop-color="#e58f2e"/><stop offset="0.7625" stop-color="#d9462c"/><stop offset="0.7875" stop-color="#d22a2e"/><stop offset="0.8500" stop-color="#cd2229"/><stop offset="0.8938" stop-color="#b62228"/><stop offset="0.9688" stop-color="#831e22"/><stop offset="1.0000" stop-color="#701a1e"/></linearGradient><linearGradient id="d57" x1="0" y1="0" x2="0" y2="1"><stop offset="0.0000" stop-color="#2f3e9a"/><stop offset="0.4000" stop-color="#304ba5"/><stop offset="0.5000" stop-color="#3151a9"/><stop offset="0.5312" stop-color="#366aba"/><stop offset="0.5687" stop-color="#4ba2df"/><stop offset="0.6000" stop-color="#5db4e8"/><stop offset="0.6375" stop-color="#6abbe2"/><stop offset="0.6438" stop-color="#6ebcdb"/><stop offset="0.6562" stop-color="#80c2a8"/><stop offset="0.6625" stop-color="#8cc58c"/><stop offset="0.6812" stop-color="#c0d651"/><stop offset="0.6937" stop-color="#e3e438"/><stop offset="0.7000" stop-color="#f0e830"/><stop offset="0.7130" stop-color="#f5e626"/><stop offset="0.7262" stop-color="#edb92d"/><stop offset="0.7394" stop-color="#e58c2e"/><stop offset="0.7688" stop-color="#d9432c"/><stop offset="0.7937" stop-color="#d22a2e"/><stop offset="0.8562" stop-color="#cc2229"/><stop offset="0.9000" stop-color="#b42228"/><stop offset="0.9688" stop-color="#831e23"/><stop offset="1.0000" stop-color="#701a1e"/></linearGradient><linearGradient id="d58" x1="0" y1="0" x2="0" y2="1"><stop offset="0.0000" stop-color="#2f3f9b"/><stop offset="0.4000" stop-color="#304da6"/><stop offset="0.5000" stop-color="#3153aa"/><stop offset="0.5312" stop-color="#3770bd"/><stop offset="0.5687" stop-color="#4da5e1"/><stop offset="0.6000" stop-color="#5eb5e8"/><stop offset="0.6375" stop-color="#6bbce1"/><stop offset="0.6438" stop-color="#70bdd6"/><stop offset="0.6562" stop-color="#7fc2aa"/><stop offset="0.6637" stop-color="#8cc58d"/><stop offset="0.6812" stop-color="#b6d25a"/><stop offset="0.6937" stop-color="#dae13e"/><stop offset="0.7063" stop-color="#f1e82e"/><stop offset="0.7188" stop-color="#f5e426"/><stop offset="0.7322" stop-color="#ecb82d"/><stop offset="0.7459" stop-color="#e5892d"/><stop offset="0.7750" stop-color="#d8402c"/><stop offset="0.8000" stop-color="#d22a2e"/><stop offset="0.8625" stop-color="#cb2229"/><stop offset="0.9000" stop-color="#b72228"/><stop offset="0.9688" stop-color="#841e23"/><stop offset="1.0000" stop-color="#701a1e"/></linearGradient><linearGradient id="d59" x1="0" y1="0" x2="0" y2="1"><stop offset="0.0000" stop-color="#2f3f9b"/><stop offset="0.3937" stop-color="#314ea7"/><stop offset="0.5000" stop-color="#3256ac"/><stop offset="0.5250" stop-color="#366bba"/><stop offset="0.5625" stop-color="#4ba3df"/><stop offset="0.5938" stop-color="#5db4e8"/><stop offset="0.6312" stop-color="#6abbe1"/><stop offset="0.6385" stop-color="#6ebddb"/><stop offset="0.6527" stop-color="#7bc0b7"/><stop offset="0.6669" stop-color="#8fc687"/><stop offset="0.6812" stop-color="#aecf61"/><stop offset="0.7000" stop-color="#dfe23c"/><stop offset="0.7094" stop-color="#f0e82f"/><stop offset="0.7236" stop-color="#f5e526"/><stop offset="0.7312" stop-color="#f1d029"/><stop offset="0.7437" stop-color="#e8a130"/><stop offset="0.7625" stop-color="#e06d2a"/><stop offset="0.7812" stop-color="#d83f2c"/><stop offset="0.8063" stop-color="#d2292e"/><stop offset="0.8625" stop-color="#cd2229"/><stop offset="0.9062" stop-color="#b42228"/><stop offset="0.9750" stop-color="#811d22"/><stop offset="1.0000" stop-color="#701a1e"/></linearGradient><linearGradient id="d60" x1="0" y1="0" x2="0" y2="1"><stop offset="0.0000" stop-color="#2f409b"/><stop offset="0.3875" stop-color="#314fa8"/><stop offset="0.5000" stop-color="#3259ae"/><stop offset="0.5250" stop-color="#3871be"/><stop offset="0.5625" stop-color="#4da5e1"/><stop offset="0.5938" stop-color="#5eb5e8"/><stop offset="0.6312" stop-color="#6bbce0"/><stop offset="0.6500" stop-color="#79c0bc"/><stop offset="0.6700" stop-color="#92c783"/><stop offset="0.6875" stop-color="#b6d259"/><stop offset="0.7063" stop-color="#e3e439"/><stop offset="0.7138" stop-color="#f0e82f"/><stop offset="0.7285" stop-color="#f5e526"/><stop offset="0.7375" stop-color="#f0cd2a"/><stop offset="0.7500" stop-color="#e89d30"/><stop offset="0.7750" stop-color="#dd592b"/><stop offset="0.7875" stop-color="#d73d2c"/><stop offset="0.8063" stop-color="#d22b2e"/><stop offset="0.8688" stop-color="#cc2229"/><stop offset="0.9062" stop-color="#b72228"/><stop offset="0.9688" stop-color="#861e23"/><stop offset="1.0000" stop-color="#701a1e"/></linearGradient><linearGradient id="d61" x1="0" y1="0" x2="0" y2="1"><stop offset="0.0000" stop-color="#2f409c"/><stop offset="0.3875" stop-color="#3151a9"/><stop offset="0.5000" stop-color="#335cb0"/><stop offset="0.5188" stop-color="#366dbb"/><stop offset="0.5562" stop-color="#4ba2df"/><stop offset="0.5875" stop-color="#5cb3e8"/><stop offset="0.6312" stop-color="#6dbcdf"/><stop offset="0.6562" stop-color="#7fc1ab"/><stop offset="0.6812" stop-color="#a1cb6d"/><stop offset="0.7063" stop-color="#dce13e"/><stop offset="0.7188" stop-color="#f0e82f"/><stop offset="0.7332" stop-color="#f5e526"/><stop offset="0.7437" stop-color="#efc82b"/><stop offset="0.7625" stop-color="#e4862d"/><stop offset="0.7875" stop-color="#d9462c"/><stop offset="0.8063" stop-color="#d4302d"/><stop offset="0.8187" stop-color="#d2292d"/><stop offset="0.8750" stop-color="#cb2229"/><stop offset="0.9062" stop-color="#ba2228"/><stop offset="0.9688" stop-color="#871e23"/><stop offset="1.0000" stop-color="#701a1e"/></linearGradient><linearGradient id="d62" x1="0" y1="0" x2="0" y2="1"><stop offset="0.0000" stop-color="#2f419c"/><stop offset="0.3750" stop-color="#3152aa"/><stop offset="0.5000" stop-color="#335fb2"/><stop offset="0.5188" stop-color="#3872bf"/><stop offset="0.5562" stop-color="#4da5e1"/><stop offset="0.5875" stop-color="#5db4e8"/><stop offset="0.6250" stop-color="#6bbbe1"/><stop offset="0.6312" stop-color="#6dbcdc"/><stop offset="0.6605" stop-color="#82c2a2"/><stop offset="0.6812" stop-color="#9cca73"/><stop offset="0.7125" stop-color="#dfe23b"/><stop offset="0.7250" stop-color="#f1e82e"/><stop offset="0.7378" stop-color="#f5e526"/><stop offset="0.7533" stop-color="#ecb62d"/><stop offset="0.7688" stop-color="#e4832d"/><stop offset="0.7937" stop-color="#d9442c"/><stop offset="0.8187" stop-color="#d22a2e"/><stop offset="0.8750" stop-color="#cd2229"/><stop offset="0.9125" stop-color="#b72228"/><stop offset="0.9750" stop-color="#831e22"/><stop offset="1.0000" stop-color="#701a1e"/></linearGradient><linearGradient id="d63" x1="0" y1="0" x2="0" y2="1"><stop offset="0.0000" stop-color="#2f419d"/><stop offset="0.3562" stop-color="#3152aa"/><stop offset="0.5000" stop-color="#3463b5"/><stop offset="0.5312" stop-color="#3f88ce"/><stop offset="0.5562" stop-color="#4ea6e2"/><stop offset="0.5875" stop-color="#5eb5e8"/><stop offset="0.6250" stop-color="#6bbce1"/><stop offset="0.6438" stop-color="#76bfc4"/><stop offset="0.6750" stop-color="#90c685"/><stop offset="0.6947" stop-color="#b0d060"/><stop offset="0.7125" stop-color="#d9e040"/><stop offset="0.7263" stop-color="#f0e830"/><stop offset="0.7422" stop-color="#f5e626"/><stop offset="0.7562" stop-color="#edbd2c"/><stop offset="0.7750" stop-color="#e3802c"/><stop offset="0.8000" stop-color="#d8412c"/><stop offset="0.8250" stop-color="#d22a2e"/><stop offset="0.8812" stop-color="#cc2229"/><stop offset="0.9125" stop-color="#ba2228"/><stop offset="0.9688" stop-color="#891f24"/><stop offset="1.0000" stop-color="#701a1e"/></linearGradient><linearGradient id="d64" x1="0" y1="0" x2="0" y2="1"><stop offset="0.0000" stop-color="#2f429e"/><stop offset="0.3375" stop-color="#3153aa"/><stop offset="0.5000" stop-color="#3566b7"/><stop offset="0.5500" stop-color="#4da5e0"/><stop offset="0.5875" stop-color="#5fb6e8"/><stop offset="0.6250" stop-color="#6cbce0"/><stop offset="0.6625" stop-color="#83c2a1"/><stop offset="0.6875" stop-color="#9eca72"/><stop offset="0.7063" stop-color="#c1d650"/><stop offset="0.7250" stop-color="#e7e536"/><stop offset="0.7312" stop-color="#f0e82f"/><stop offset="0.7463" stop-color="#f5e626"/><stop offset="0.7562" stop-color="#f0ce2a"/><stop offset="0.7688" stop-color="#e8a230"/><stop offset="0.7875" stop-color="#e16e2a"/><stop offset="0.8063" stop-color="#d8402c"/><stop offset="0.8313" stop-color="#d2292e"/><stop offset="0.8875" stop-color="#cb2229"/><stop offset="0.9187" stop-color="#b72228"/><stop offset="0.9750" stop-color="#851e23"/><stop offset="1.0000" stop-color="#701a1e"/></linearGradient><linearGradient id="d65" x1="0" y1="0" x2="0" y2="1"><stop offset="0.0000" stop-color="#2f439e"/><stop offset="0.3250" stop-color="#3154ab"/><stop offset="0.5000" stop-color="#366bba"/><stop offset="0.5437" stop-color="#4ba2df"/><stop offset="0.5813" stop-color="#5db4e8"/><stop offset="0.6250" stop-color="#6cbce0"/><stop offset="0.6750" stop-color="#8cc58c"/><stop offset="0.7004" stop-color="#aed061"/><stop offset="0.7250" stop-color="#e1e33a"/><stop offset="0.7335" stop-color="#efe831"/><stop offset="0.7500" stop-color="#f5e627"/><stop offset="0.7625" stop-color="#f0ca2a"/><stop offset="0.7750" stop-color="#e89e30"/><stop offset="0.8063" stop-color="#da4d2b"/><stop offset="0.8125" stop-color="#d83f2c"/><stop offset="0.8375" stop-color="#d2292e"/><stop offset="0.8875" stop-color="#cd2229"/><stop offset="0.9187" stop-color="#ba2228"/><stop offset="0.9750" stop-color="#851e23"/><stop offset="1.0000" stop-color="#701a1e"/></linearGradient><linearGradient id="d66" x1="0" y1="0" x2="0" y2="1"><stop offset="0.0000" stop-color="#2f449f"/><stop offset="0.3125" stop-color="#3155ac"/><stop offset="0.4938" stop-color="#3770bd"/><stop offset="0.5000" stop-color="#3871be"/><stop offset="0.5437" stop-color="#4da5e1"/><stop offset="0.5813" stop-color="#5eb5e8"/><stop offset="0.6250" stop-color="#6cbcdf"/><stop offset="0.6812" stop-color="#90c685"/><stop offset="0.7029" stop-color="#adcf62"/><stop offset="0.7312" stop-color="#e5e437"/><stop offset="0.7375" stop-color="#efe830"/><stop offset="0.7562" stop-color="#f5e426"/><stop offset="0.7703" stop-color="#eebf2c"/><stop offset="0.7875" stop-color="#e58a2e"/><stop offset="0.8187" stop-color="#d83f2c"/><stop offset="0.8438" stop-color="#d2292e"/><stop offset="0.8938" stop-color="#cc2229"/><stop offset="0.9250" stop-color="#b72228"/><stop offset="0.9750" stop-color="#861e23"/><stop offset="1.0000" stop-color="#701a1e"/></linearGradient><linearGradient id="d67" x1="0" y1="0" x2="0" y2="1"><stop offset="0.0000" stop-color="#2f449f"/><stop offset="0.3000" stop-color="#3255ac"/><stop offset="0.4688" stop-color="#3770bd"/><stop offset="0.5000" stop-color="#3a78c3"/><stop offset="0.5375" stop-color="#4ca3df"/><stop offset="0.5750" stop-color="#5cb3e8"/><stop offset="0.6250" stop-color="#6cbcdf"/><stop offset="0.6812" stop-color="#8ec689"/><stop offset="0.7063" stop-color="#aecf61"/><stop offset="0.7312" stop-color="#dfe23b"/><stop offset="0.7437" stop-color="#f0e82f"/><stop offset="0.7566" stop-color="#f4e628"/><stop offset="0.7625" stop-color="#f4e027"/><stop offset="0.7750" stop-color="#eec02c"/><stop offset="0.7937" stop-color="#e5892d"/><stop offset="0.8250" stop-color="#d73e2c"/><stop offset="0.8438" stop-color="#d22b2e"/><stop offset="0.9000" stop-color="#cb2229"/><stop offset="0.9250" stop-color="#ba2228"/><stop offset="0.9750" stop-color="#871e24"/><stop offset="1.0000" stop-color="#701a1e"/></linearGradient><linearGradient id="d68" x1="0" y1="0" x2="0" y2="1"><stop offset="0.0000" stop-color="#3045a0"/><stop offset="0.2875" stop-color="#3256ac"/><stop offset="0.4437" stop-color="#3770bd"/><stop offset="0.5000" stop-color="#3c7ec7"/><stop offset="0.5375" stop-color="#4da5e1"/><stop offset="0.5750" stop-color="#5db4e8"/><stop offset="0.6250" stop-color="#6cbcdf"/><stop offset="0.6812" stop-color="#8cc58c"/><stop offset="0.7073" stop-color="#aace65"/><stop offset="0.7375" stop-color="#e3e439"/><stop offset="0.7500" stop-color="#f1e82e"/><stop offset="0.7625" stop-color="#f4e627"/><stop offset="0.7770" stop-color="#f0cb2a"/><stop offset="0.7944" stop-color="#e7962f"/><stop offset="0.8250" stop-color="#da4a2c"/><stop offset="0.8375" stop-color="#d6372d"/><stop offset="0.8500" stop-color="#d22a2e"/><stop offset="0.9000" stop-color="#cd2229"/><stop offset="0.9313" stop-color="#b62228"/><stop offset="0.9812" stop-color="#821d22"/><stop offset="1.0000" stop-color="#701a1e"/></linearGradient><linearGradient id="d69" x1="0" y1="0" x2="0" y2="1"><stop offset="0.0000" stop-color="#3046a0"/><stop offset="0.2812" stop-color="#3257ad"/><stop offset="0.4250" stop-color="#3871be"/><stop offset="0.5000" stop-color="#3e85cb"/><stop offset="0.5312" stop-color="#4ca4e0"/><stop offset="0.5750" stop-color="#5db4e8"/><stop offset="0.6250" stop-color="#6cbce0"/><stop offset="0.6875" stop-color="#8ec688"/><stop offset="0.7125" stop-color="#adcf62"/><stop offset="0.7375" stop-color="#dde23d"/><stop offset="0.7500" stop-color="#efe830"/><stop offset="0.7688" stop-color="#f5e626"/><stop offset="0.7812" stop-color="#f0cd2a"/><stop offset="0.8000" stop-color="#e7982f"/><stop offset="0.8313" stop-color="#da4a2c"/><stop offset="0.8438" stop-color="#d5372d"/><stop offset="0.8562" stop-color="#d22a2e"/><stop offset="0.9062" stop-color="#cb2229"/><stop offset="0.9313" stop-color="#b92228"/><stop offset="0.9812" stop-color="#831e23"/><stop offset="1.0000" stop-color="#701a1e"/></linearGradient><linearGradient id="d70" x1="0" y1="0" x2="0" y2="1"><stop offset="0.0000" stop-color="#3046a1"/><stop offset="0.2750" stop-color="#3259ae"/><stop offset="0.4062" stop-color="#3871be"/><stop offset="0.5000" stop-color="#418cd0"/><stop offset="0.5312" stop-color="#4ea6e2"/><stop offset="0.5750" stop-color="#5eb5e8"/><stop offset="0.6250" stop-color="#6cbce0"/><stop offset="0.6875" stop-color="#8cc58c"/><stop offset="0.7125" stop-color="#a8cd67"/><stop offset="0.7437" stop-color="#e0e33b"/><stop offset="0.7562" stop-color="#f0e82f"/><stop offset="0.7750" stop-color="#f5e526"/><stop offset="0.7875" stop-color="#f0cc2a"/><stop offset="0.8063" stop-color="#e7992f"/><stop offset="0.8375" stop-color="#da492c"/><stop offset="0.8500" stop-color="#d5362d"/><stop offset="0.8625" stop-color="#d22a2e"/><stop offset="0.9062" stop-color="#ce2229"/><stop offset="0.9313" stop-color="#bc2228"/><stop offset="0.9750" stop-color="#8b1f24"/><stop offset="1.0000" stop-color="#701a1e"/></linearGradient><linearGradient id="d71" x1="0" y1="0" x2="0" y2="1"><stop offset="0.0000" stop-color="#3047a2"/><stop offset="0.2687" stop-color="#325aaf"/><stop offset="0.3875" stop-color="#3872be"/><stop offset="0.5000" stop-color="#4493d4"/><stop offset="0.5250" stop-color="#4ea6e1"/><stop offset="0.5813" stop-color="#60b7e8"/><stop offset="0.6250" stop-color="#6bbce0"/><stop offset="0.6764" stop-color="#83c2a1"/><stop offset="0.7063" stop-color="#9bca76"/><stop offset="0.7312" stop-color="#c2d750"/><stop offset="0.7500" stop-color="#e3e439"/><stop offset="0.7625" stop-color="#f1e82e"/><stop offset="0.7812" stop-color="#f4e326"/><stop offset="0.7937" stop-color="#f0cb2a"/><stop offset="0.8187" stop-color="#e58a2e"/><stop offset="0.8438" stop-color="#da492c"/><stop offset="0.8562" stop-color="#d5352d"/><stop offset="0.8688" stop-color="#d2292e"/><stop offset="0.9125" stop-color="#cc2229"/><stop offset="0.9375" stop-color="#b82228"/><stop offset="0.9812" stop-color="#851e23"/><stop offset="1.0000" stop-color="#701a1e"/></linearGradient><linearGradient id="d72" x1="0" y1="0" x2="0" y2="1"><stop offset="0.0000" stop-color="#3048a2"/><stop offset="0.2687" stop-color="#335db1"/><stop offset="0.3687" stop-color="#3872be"/><stop offset="0.5000" stop-color="#4799d9"/><stop offset="0.5188" stop-color="#4ea6e1"/><stop offset="0.5750" stop-color="#5fb6e8"/><stop offset="0.6312" stop-color="#6dbcdd"/><stop offset="0.6812" stop-color="#84c39e"/><stop offset="0.7144" stop-color="#a1cb6d"/><stop offset="0.7512" stop-color="#dfe23c"/><stop offset="0.7625" stop-color="#eee731"/><stop offset="0.7812" stop-color="#f4e628"/><stop offset="0.7881" stop-color="#f4e127"/><stop offset="0.8000" stop-color="#f0cc2a"/><stop offset="0.8250" stop-color="#e58c2e"/><stop offset="0.8500" stop-color="#d9482c"/><stop offset="0.8688" stop-color="#d32d2e"/><stop offset="0.9125" stop-color="#ce2229"/><stop offset="0.9375" stop-color="#bb2228"/><stop offset="0.9812" stop-color="#861e23"/><stop offset="1.0000" stop-color="#701a1e"/></linearGradient><linearGradient id="d73" x1="0" y1="0" x2="0" y2="1"><stop offset="0.0000" stop-color="#3049a3"/><stop offset="0.2687" stop-color="#335fb2"/><stop offset="0.3562" stop-color="#3873bf"/><stop offset="0.5125" stop-color="#4ea6e2"/><stop offset="0.5687" stop-color="#5eb5e8"/><stop offset="0.6312" stop-color="#6dbcde"/><stop offset="0.6812" stop-color="#83c2a1"/><stop offset="0.7157" stop-color="#9fcb6f"/><stop offset="0.7562" stop-color="#dfe23b"/><stop offset="0.7716" stop-color="#f1e82f"/><stop offset="0.7903" stop-color="#f5e627"/><stop offset="0.8089" stop-color="#efc72b"/><stop offset="0.8313" stop-color="#e58d2e"/><stop offset="0.8562" stop-color="#d9462c"/><stop offset="0.8750" stop-color="#d22b2e"/><stop offset="0.9187" stop-color="#cc2229"/><stop offset="0.9437" stop-color="#b62228"/><stop offset="0.9875" stop-color="#7f1d22"/><stop offset="1.0000" stop-color="#701a1e"/></linearGradient><linearGradient id="cb" x1="0" y1="0" x2="0" y2="1"><stop offset="0.0000" stop-color="#701a1e"/><stop offset="0.0333" stop-color="#902026"/><stop offset="0.0667" stop-color="#ad2228"/><stop offset="0.1000" stop-color="#c52228"/><stop offset="0.1333" stop-color="#d0232a"/><stop offset="0.1667" stop-color="#d1272c"/><stop offset="0.2000" stop-color="#d4312d"/><stop offset="0.2333" stop-color="#db512b"/><stop offset="0.2667" stop-color="#e3812d"/><stop offset="0.3000" stop-color="#ebaf2e"/><stop offset="0.3333" stop-color="#f2d529"/><stop offset="0.3667" stop-color="#f4e628"/><stop offset="0.4000" stop-color="#f1e82e"/><stop offset="0.4333" stop-color="#e4e438"/><stop offset="0.4667" stop-color="#cfdc47"/><stop offset="0.5000" stop-color="#b3d15d"/><stop offset="0.5333" stop-color="#98c97a"/><stop offset="0.5667" stop-color="#81c2a6"/><stop offset="0.6000" stop-color="#6cbce0"/><stop offset="0.6333" stop-color="#62b8e8"/><stop offset="0.6667" stop-color="#58b0e8"/><stop offset="0.7000" stop-color="#4ca4e0"/><stop offset="0.7333" stop-color="#3e86cc"/><stop offset="0.7667" stop-color="#3568b8"/><stop offset="0.8000" stop-color="#3258ae"/><stop offset="0.8333" stop-color="#304ba4"/><stop offset="0.8667" stop-color="#2f409c"/><stop offset="0.9000" stop-color="#2e3a95"/><stop offset="0.9333" stop-color="#2e358e"/><stop offset="0.9667" stop-color="#2f3286"/><stop offset="1.0000" stop-color="#30307e"/></linearGradient></defs><rect x="43.0" y="5.0" width="215.60000000000002" height="147.3" fill="#fff" stroke="#555" stroke-width="1"/>
<polyline points="43.0,152.1 44.8,152.2 46.6,152.2 48.4,152.3 50.2,152.3 52.1,152.3 53.9,152.3 55.7,152.3 57.5,152.3 59.3,152.3 61.1,152.3 62.9,152.3 64.7,152.3 66.6,152.3 68.4,152.3 70.2,152.3 72.0,152.3 73.8,152.3 75.6,152.3 77.4,152.3 79.2,152.3 81.0,152.3 82.9,152.3 84.7,152.3 86.5,152.3 88.3,152.3 90.1,152.3 91.9,152.2 93.7,152.2 95.5,152.1 97.4,152.1 99.2,152.0 101.0,151.9 102.8,151.9 104.6,151.8 106.4,151.7 108.2,151.7 110.0,151.6 111.8,151.5 113.7,151.4 115.5,151.3 117.3,151.3 119.1,151.2 120.9,151.1 122.7,151.0 124.5,150.9 126.3,150.8 128.2,150.6 130.0,150.5 131.8,150.4 133.6,150.3 135.4,150.2 137.2,150.1 139.0,149.9 140.8,149.8 142.6,149.7 144.5,149.5 146.3,149.4 148.1,149.3 149.9,149.1 151.7,149.0 153.5,148.8 155.3,148.7 157.1,148.5 159.0,148.4 160.8,148.2 162.6,148.0 164.4,147.9 166.2,147.7 168.0,147.5 169.8,147.4 171.6,147.2 173.4,147.0 175.3,146.8 177.1,146.7 178.9,146.5 180.7,146.3 182.5,146.1 184.3,145.9 186.1,145.7 187.9,145.5 189.8,145.3 191.6,145.1 193.4,144.9 195.2,144.7 197.0,144.5 198.8,144.3 200.6,144.1 202.4,143.9 204.2,143.7 206.1,143.4 207.9,143.2 209.7,143.0 211.5,142.8 213.3,142.6 215.1,142.3 216.9,142.1 218.7,141.9 220.6,141.6 222.4,141.4 224.2,141.2 226.0,140.9 227.8,140.7 229.6,140.5 231.4,140.2 233.2,140.0 235.0,139.7 236.9,139.5 238.7,139.2 240.5,139.0 242.3,138.7 244.1,138.5 245.9,138.2 247.7,137.9 249.5,137.7 251.4,137.4 253.2,137.2 255.0,136.9 256.8,136.6 258.6,136.4" fill="none" stroke="#45a2d0" stroke-width="1.6"/>
<polyline points="43.0,152.3 44.8,152.3 46.6,152.3 48.4,152.3 50.2,152.3 52.1,152.3 53.9,152.3 55.7,152.3 57.5,152.3 59.3,152.3 61.1,152.3 62.9,152.3 64.7,152.2 66.6,152.2 68.4,152.2 70.2,152.1 72.0,152.1 73.8,152.0 75.6,152.0 77.4,151.9 79.2,151.9 81.0,151.8 82.9,151.7 84.7,151.7 86.5,151.6 88.3,151.5 90.1,151.4 91.9,151.3 93.7,151.2 95.5,151.1 97.4,151.0 99.2,150.9 101.0,150.8 102.8,150.7 104.6,150.6 106.4,150.5 108.2,150.4 110.0,150.2 111.8,150.1 113.7,150.0 115.5,149.8 117.3,149.7 119.1,149.5 120.9,149.4 122.7,149.2 124.5,149.1 126.3,148.9 128.2,148.7 130.0,148.6 131.8,148.4 133.6,148.2 135.4,148.1 137.2,147.9 139.0,147.7 140.8,147.5 142.6,147.3 144.5,147.1 146.3,146.9 148.1,146.7 149.9,146.5 151.7,146.3 153.5,146.1 155.3,145.9 157.1,145.6 159.0,145.4 160.8,145.2 162.6,145.0 164.4,144.7 166.2,144.5 168.0,144.3 169.8,144.0 171.6,143.8 173.4,143.5 175.3,143.3 177.1,143.0 178.9,142.8 180.7,142.5 182.5,142.3 184.3,142.0 186.1,141.7 187.9,141.5 189.8,141.2 191.6,140.9 193.4,140.6 195.2,140.4 197.0,140.1 198.8,139.8 200.6,139.5 202.4,139.2 204.2,138.9 206.1,138.6 207.9,138.3 209.7,138.0 211.5,137.7 213.3,137.4 215.1,137.1 216.9,136.8 218.7,136.5 220.6,136.1 222.4,135.8 224.2,135.5 226.0,135.2 227.8,134.9 229.6,134.5 231.4,134.2 233.2,133.9 235.0,133.5 236.9,133.2 238.7,132.9 240.5,132.5 242.3,132.2 244.1,131.8 245.9,131.5 247.7,131.1 249.5,130.8 251.4,130.4 253.2,130.1 255.0,129.7 256.8,129.3 258.6,129.0" fill="none" stroke="#a8c84a" stroke-width="1.6"/>
<polyline points="43.0,151.9 44.8,152.0 46.6,152.1 48.4,152.2 50.2,152.3 52.1,152.3 53.9,152.3 55.7,152.3 57.5,152.3 59.3,152.3 61.1,152.3 62.9,152.3 64.7,152.3 66.6,152.3 68.4,152.3 70.2,152.3 72.0,152.3 73.8,152.3 75.6,152.2 77.4,152.1 79.2,152.0 81.0,151.9 82.9,151.7 84.7,151.6 86.5,151.4 88.3,151.3 90.1,151.1 91.9,150.9 93.7,150.7 95.5,150.5 97.4,150.3 99.2,150.0 101.0,149.8 102.8,149.5 104.6,149.2 106.4,149.0 108.2,148.7 110.0,148.4 111.8,148.0 113.7,147.7 115.5,147.4 117.3,147.0 119.1,146.7 120.9,146.3 122.7,145.9 124.5,145.5 126.3,145.1 128.2,144.7 130.0,144.3 131.8,143.9 133.6,143.5 135.4,143.0 137.2,142.5 139.0,142.1 140.8,141.6 142.6,141.1 144.5,140.6 146.3,140.1 148.1,139.6 149.9,139.1 151.7,138.5 153.5,138.0 155.3,137.4 157.1,136.9 159.0,136.3 160.8,135.7 162.6,135.1 164.4,134.5 166.2,133.9 168.0,133.3 169.8,132.7 171.6,132.0 173.4,131.4 175.3,130.8 177.1,130.1 178.9,129.4 180.7,128.8 182.5,128.1 184.3,127.4 186.1,126.7 187.9,126.1 189.8,125.4 191.6,124.7 193.4,124.0 195.2,123.4 197.0,122.7 198.8,122.0 200.6,121.3 202.4,120.7 204.2,120.0 206.1,119.3 207.9,118.7 209.7,118.0 211.5,117.4 213.3,116.8 215.1,116.2 216.9,115.6 218.7,115.0 220.6,114.4 222.4,113.8 224.2,113.2 226.0,112.7 227.8,112.2 229.6,111.6 231.4,111.1 233.2,110.7 235.0,110.2 236.9,109.7 238.7,109.3 240.5,108.9 242.3,108.5 244.1,108.1 245.9,107.8 247.7,107.5 249.5,107.2 251.4,106.9 253.2,106.7 255.0,106.4 256.8,106.2 258.6,106.1" fill="none" stroke="#e29e38" stroke-width="1.6"/>
<polyline points="43.0,152.3 44.8,152.3 46.6,152.3 48.4,152.3 50.2,152.3 52.1,152.2 53.9,152.2 55.7,152.2 57.5,152.1 59.3,152.1 61.1,152.1 62.9,152.0 64.7,152.0 66.6,151.9 68.4,151.8 70.2,151.7 72.0,151.6 73.8,151.5 75.6,151.3 77.4,151.2 79.2,151.0 81.0,150.8 82.9,150.6 84.7,150.4 86.5,150.2 88.3,150.0 90.1,149.8 91.9,149.6 93.7,149.4 95.5,149.2 97.4,149.0 99.2,148.8 101.0,148.6 102.8,148.3 104.6,148.1 106.4,147.8 108.2,147.5 110.0,147.2 111.8,146.9 113.7,146.6 115.5,146.3 117.3,145.9 119.1,145.6 120.9,145.2 122.7,144.7 124.5,144.3 126.3,143.8 128.2,143.2 130.0,142.6 131.8,142.0 133.6,141.4 135.4,140.7 137.2,140.0 139.0,139.3 140.8,138.6 142.6,137.9 144.5,137.1 146.3,136.4 148.1,135.6 149.9,134.9 151.7,134.1 153.5,133.2 155.3,132.3 157.1,131.4 159.0,130.5 160.8,129.6 162.6,128.6 164.4,127.6 166.2,126.6 168.0,125.6 169.8,124.6 171.6,123.5 173.4,122.5 175.3,121.4 177.1,120.3 178.9,119.2 180.7,118.0 182.5,116.9 184.3,115.7 186.1,114.5 187.9,113.3 189.8,112.2 191.6,111.1 193.4,110.0 195.2,108.8 197.0,107.7 198.8,106.6 200.6,105.5 202.4,104.5 204.2,103.5 206.1,102.6 207.9,101.8 209.7,101.2 211.5,100.6 213.3,100.1 215.1,99.6 216.9,99.2 218.7,98.8 220.6,98.4 222.4,98.1 224.2,97.9 226.0,97.7 227.8,97.5 229.6,97.3 231.4,97.1 233.2,96.9 235.0,96.8 236.9,96.6 238.7,96.5 240.5,96.4 242.3,96.4 244.1,96.3 245.9,96.3 247.7,96.3 249.5,96.3 251.4,96.3 253.2,96.3 255.0,96.3 256.8,96.3 258.6,96.3" fill="none" stroke="#b82230" stroke-width="1.6"/>
<polyline points="43.0,18.4 44.8,18.6 46.6,18.7 48.4,18.9 50.2,19.0 52.1,19.2 53.9,19.3 55.7,19.5 57.5,19.6 59.3,19.8 61.1,19.9 62.9,20.0 64.7,20.2 66.6,20.3 68.4,20.5 70.2,20.6 72.0,20.8 73.8,21.0 75.6,21.1 77.4,21.3 79.2,21.4 81.0,21.6 82.9,21.7 84.7,21.9 86.5,22.1 88.3,22.2 90.1,22.4 91.9,22.6 93.7,22.8 95.5,22.9 97.4,23.1 99.2,23.3 101.0,23.5 102.8,23.7 104.6,23.9 106.4,24.1 108.2,24.3 110.0,24.5 111.8,24.7 113.7,25.0 115.5,25.2 117.3,25.4 119.1,25.6 120.9,25.9 122.7,26.1 124.5,26.4 126.3,26.6 128.2,26.9 130.0,27.2 131.8,27.4 133.6,27.7 135.4,28.0 137.2,28.3 139.0,28.6 140.8,28.9 142.6,29.2 144.5,29.5 146.3,29.9 148.1,30.2 149.9,30.6 151.7,30.9 153.5,31.3 155.3,31.6 157.1,32.0 159.0,32.4 160.8,32.8 162.6,33.3 164.4,33.7 166.2,34.2 168.0,34.7 169.8,35.3 171.6,35.8 173.4,36.4 175.3,37.1 177.1,37.7 178.9,38.4 180.7,39.2 182.5,40.0 184.3,40.8 186.1,41.7 187.9,42.6 189.8,43.6 191.6,44.6 193.4,45.6 195.2,46.7 197.0,47.8 198.8,48.9 200.6,50.1 202.4,51.3 204.2,52.4 206.1,53.6 207.9,54.9 209.7,56.1 211.5,57.3 213.3,58.5 215.1,59.8 216.9,61.0 218.7,62.2 220.6,63.4 222.4,64.6 224.2,65.7 226.0,66.9 227.8,68.0 229.6,69.1 231.4,70.1 233.2,71.1 235.0,72.1 236.9,73.0 238.7,73.9 240.5,74.8 242.3,75.6 244.1,76.3 245.9,77.0 247.7,77.6 249.5,78.2 251.4,78.7 253.2,79.1 255.0,79.4 256.8,79.7 258.6,79.9" fill="none" stroke="#902a8c" stroke-width="1.6"/>
<polyline points="43.0,13.0 44.8,13.1 46.6,13.2 48.4,13.4 50.2,13.5 52.1,13.6 53.9,13.8 55.7,13.9 57.5,14.0 59.3,14.1 61.1,14.2 62.9,14.3 64.7,14.4 66.6,14.5 68.4,14.6 70.2,14.7 72.0,14.8 73.8,14.9 75.6,14.9 77.4,15.0 79.2,15.1 81.0,15.2 82.9,15.3 84.7,15.3 86.5,15.4 88.3,15.5 90.1,15.6 91.9,15.6 93.7,15.7 95.5,15.8 97.4,15.9 99.2,16.0 101.0,16.0 102.8,16.1 104.6,16.2 106.4,16.3 108.2,16.4 110.0,16.5 111.8,16.6 113.7,16.7 115.5,16.8 117.3,16.9 119.1,17.0 120.9,17.1 122.7,17.2 124.5,17.3 126.3,17.4 128.2,17.5 130.0,17.7 131.8,17.8 133.6,17.9 135.4,18.1 137.2,18.2 139.0,18.4 140.8,18.5 142.6,18.7 144.5,18.9 146.3,19.1 148.1,19.3 149.9,19.4 151.7,19.6 153.5,19.9 155.3,20.1 157.1,20.3 159.0,20.5 160.8,20.8 162.6,21.0 164.4,21.3 166.2,21.5 168.0,21.8 169.8,22.1 171.6,22.4 173.4,22.7 175.3,23.0 177.1,23.3 178.9,23.7 180.7,24.0 182.5,24.4 184.3,24.7 186.1,25.1 187.9,25.5 189.8,25.9 191.6,26.3 193.4,26.7 195.2,27.2 197.0,27.6 198.8,28.1 200.6,28.6 202.4,29.0 204.2,29.5 206.1,30.1 207.9,30.6 209.7,31.2 211.5,31.7 213.3,32.3 215.1,32.9 216.9,33.5 218.7,34.2 220.6,34.9 222.4,35.5 224.2,36.3 226.0,37.0 227.8,37.8 229.6,38.6 231.4,39.4 233.2,40.2 235.0,41.1 236.9,42.0 238.7,42.9 240.5,43.9 242.3,44.9 244.1,45.9 245.9,47.0 247.7,48.1 249.5,49.2 251.4,50.4 253.2,51.6 255.0,52.8 256.8,54.1 258.6,55.4" fill="none" stroke="#2e3e92" stroke-width="1.6"/>
<polyline points="43.0,8.3 44.8,8.4 46.6,8.5 48.4,8.6 50.2,8.7 52.1,8.8 53.9,8.9 55.7,8.9 57.5,9.0 59.3,9.1 61.1,9.1 62.9,9.2 64.7,9.3 66.6,9.3 68.4,9.4 70.2,9.4 72.0,9.5 73.8,9.5 75.6,9.6 77.4,9.6 79.2,9.6 81.0,9.7 82.9,9.7 84.7,9.8 86.5,9.8 88.3,9.8 90.1,9.8 91.9,9.9 93.7,9.9 95.5,9.9 97.4,10.0 99.2,10.0 101.0,10.0 102.8,10.0 104.6,10.1 106.4,10.1 108.2,10.1 110.0,10.1 111.8,10.2 113.7,10.2 115.5,10.2 117.3,10.2 119.1,10.3 120.9,10.3 122.7,10.3 124.5,10.4 126.3,10.4 128.2,10.4 130.0,10.5 131.8,10.5 133.6,10.5 135.4,10.6 137.2,10.6 139.0,10.7 140.8,10.7 142.6,10.8 144.5,10.8 146.3,10.9 148.1,11.0 149.9,11.0 151.7,11.1 153.5,11.2 155.3,11.2 157.1,11.3 159.0,11.4 160.8,11.5 162.6,11.6 164.4,11.7 166.2,11.8 168.0,11.9 169.8,12.0 171.6,12.1 173.4,12.2 175.3,12.4 177.1,12.5 178.9,12.6 180.7,12.8 182.5,12.9 184.3,13.1 186.1,13.2 187.9,13.4 189.8,13.6 191.6,13.8 193.4,13.9 195.2,14.1 197.0,14.3 198.8,14.5 200.6,14.7 202.4,15.0 204.2,15.2 206.1,15.4 207.9,15.7 209.7,15.9 211.5,16.2 213.3,16.4 215.1,16.7 216.9,17.0 218.7,17.3 220.6,17.6 222.4,17.9 224.2,18.3 226.0,18.6 227.8,19.0 229.6,19.3 231.4,19.7 233.2,20.1 235.0,20.5 236.9,20.9 238.7,21.3 240.5,21.8 242.3,22.2 244.1,22.7 245.9,23.2 247.7,23.7 249.5,24.2 251.4,24.7 253.2,25.3 255.0,25.8 256.8,26.4 258.6,27.0" fill="none" stroke="#111111" stroke-width="1.6"/>
<line x1="43.0" y1="152.3" x2="43.0" y2="149.8" stroke="#555"/>
<line x1="43.0" y1="5.0" x2="43.0" y2="7.5" stroke="#555"/>
<text x="43.0" y="167.5" text-anchor="middle" class="t">0</text>
<line x1="86.1" y1="152.3" x2="86.1" y2="149.8" stroke="#555"/>
<line x1="86.1" y1="5.0" x2="86.1" y2="7.5" stroke="#555"/>
<text x="86.1" y="167.5" text-anchor="middle" class="t">0.2</text>
<line x1="129.2" y1="152.3" x2="129.2" y2="149.8" stroke="#555"/>
<line x1="129.2" y1="5.0" x2="129.2" y2="7.5" stroke="#555"/>
<text x="129.2" y="167.5" text-anchor="middle" class="t">0.4</text>
<line x1="172.4" y1="152.3" x2="172.4" y2="149.8" stroke="#555"/>
<line x1="172.4" y1="5.0" x2="172.4" y2="7.5" stroke="#555"/>
<text x="172.4" y="167.5" text-anchor="middle" class="t">0.6</text>
<line x1="215.5" y1="152.3" x2="215.5" y2="149.8" stroke="#555"/>
<line x1="215.5" y1="5.0" x2="215.5" y2="7.5" stroke="#555"/>
<text x="215.5" y="167.5" text-anchor="middle" class="t">0.8</text>
<line x1="258.6" y1="152.3" x2="258.6" y2="149.8" stroke="#555"/>
<line x1="258.6" y1="5.0" x2="258.6" y2="7.5" stroke="#555"/>
<text x="258.6" y="167.5" text-anchor="middle" class="t">1</text>
<line x1="43.0" y1="152.3" x2="45.5" y2="152.3" stroke="#555"/>
<line x1="258.6" y1="152.3" x2="256.1" y2="152.3" stroke="#555"/>
<text x="38.5" y="156.6" text-anchor="end" class="t">0</text>
<line x1="43.0" y1="103.2" x2="45.5" y2="103.2" stroke="#555"/>
<line x1="258.6" y1="103.2" x2="256.1" y2="103.2" stroke="#555"/>
<text x="38.5" y="107.5" text-anchor="end" class="t">30</text>
<line x1="43.0" y1="54.1" x2="45.5" y2="54.1" stroke="#555"/>
<line x1="258.6" y1="54.1" x2="256.1" y2="54.1" stroke="#555"/>
<text x="38.5" y="58.4" text-anchor="end" class="t">60</text>
<line x1="43.0" y1="5.0" x2="45.5" y2="5.0" stroke="#555"/>
<line x1="258.6" y1="5.0" x2="256.1" y2="5.0" stroke="#555"/>
<text x="38.5" y="9.3" text-anchor="end" class="t">90</text>
<line x1="59" y1="37.4" x2="75" y2="37.4" stroke="#111111" stroke-width="1.6"/>
<text x="78.3" y="39.8" class="lg">η=0.2</text>
<line x1="59" y1="52.3" x2="75" y2="52.3" stroke="#2e3e92" stroke-width="1.6"/>
<text x="78.3" y="54.7" class="lg">η=0.4</text>
<line x1="59" y1="67.2" x2="75" y2="67.2" stroke="#902a8c" stroke-width="1.6"/>
<text x="78.3" y="69.6" class="lg">η=0.6</text>
<line x1="59" y1="82.1" x2="75" y2="82.1" stroke="#b82230" stroke-width="1.6"/>
<text x="78.3" y="84.5" class="lg">η=0.8</text>
<line x1="59" y1="97.0" x2="75" y2="97.0" stroke="#e29e38" stroke-width="1.6"/>
<text x="78.3" y="99.4" class="lg">η=1</text>
<line x1="59" y1="111.9" x2="75" y2="111.9" stroke="#a8c84a" stroke-width="1.6"/>
<text x="78.3" y="114.3" class="lg">η=2</text>
<line x1="59" y1="126.8" x2="75" y2="126.8" stroke="#45a2d0" stroke-width="1.6"/>
<text x="78.3" y="129.2" class="lg">η=3</text>
<text x="2" y="12.6" class="pl">a</text>
<text transform="translate(11.8,85.5) rotate(-90)" text-anchor="middle" class="lb">Helix angle θ (°)</text>
<text x="128.8" y="184.9" class="lb">σ</text><text x="140.4" y="188.5" class="sb">2</text><text x="151.0" y="184.9" class="lb">/</text><text x="160.1" y="184.9" class="lb">σ</text><text x="170.7" y="188.5" class="sb">1</text>
<rect x="37.5" y="216.1" width="216.5" height="147.9" fill="#afcd6d"/>
<polygon points="37.5,310.6 42.9,310.6 48.3,310.6 53.7,310.7 59.2,310.7 64.6,310.7 70.0,310.7 75.4,310.7 80.8,310.8 86.2,310.8 91.6,310.8 97.0,310.8 102.5,310.8 102.5,310.8 107.9,310.9 113.3,310.9 118.7,311.0 124.1,311.0 129.5,311.1 134.9,311.1 140.3,311.2 145.8,311.2 151.2,311.3 156.6,311.3 162.0,311.4 166.1,311.4 167.4,311.8 172.8,313.2 178.2,314.6 183.6,315.8 189.1,316.9 192.3,317.6 194.5,317.9 199.9,318.7 205.3,319.5 208.5,319.9 210.7,320.2 216.1,320.8 221.5,321.5 223.9,321.8 226.9,322.0 232.3,322.4 237.8,322.9 238.8,323.0 243.2,323.2 248.6,323.5 254.0,323.8 254.0,364.0 37.5,364.0" fill="#dc9abe"/>
<polyline points="37.5,310.6 42.9,310.6 48.3,310.6 53.7,310.7 59.2,310.7 64.6,310.7 70.0,310.7 75.4,310.7 80.8,310.8 86.2,310.8 91.6,310.8 97.0,310.8 102.5,310.8 102.5,310.8 107.9,310.9 113.3,310.9 118.7,311.0 124.1,311.0 129.5,311.1 134.9,311.1 140.3,311.2 145.8,311.2 151.2,311.3 156.6,311.3 162.0,311.4 166.1,311.4 167.4,311.8 172.8,313.2 178.2,314.6 183.6,315.8 189.1,316.9 192.3,317.6 194.5,317.9 199.9,318.7 205.3,319.5 208.5,319.9 210.7,320.2 216.1,320.8 221.5,321.5 223.9,321.8 226.9,322.0 232.3,322.4 237.8,322.9 238.8,323.0 243.2,323.2 248.6,323.5 254.0,323.8" fill="none" stroke="#1a1a1a" stroke-width="1.3" stroke-dasharray="6,1.2"/>
<rect x="37.5" y="216.1" width="216.5" height="147.9" fill="none" stroke="#333" stroke-width="1"/>
<line x1="37.5" y1="364.0" x2="37.5" y2="361.5" stroke="#333"/>
<line x1="37.5" y1="216.1" x2="37.5" y2="218.6" stroke="#333"/>
<text x="37.5" y="378.6" text-anchor="middle" class="t">0</text>
<line x1="80.8" y1="364.0" x2="80.8" y2="361.5" stroke="#333"/>
<line x1="80.8" y1="216.1" x2="80.8" y2="218.6" stroke="#333"/>
<text x="80.8" y="378.6" text-anchor="middle" class="t">0.2</text>
<line x1="124.1" y1="364.0" x2="124.1" y2="361.5" stroke="#333"/>
<line x1="124.1" y1="216.1" x2="124.1" y2="218.6" stroke="#333"/>
<text x="124.1" y="378.6" text-anchor="middle" class="t">0.4</text>
<line x1="167.4" y1="364.0" x2="167.4" y2="361.5" stroke="#333"/>
<line x1="167.4" y1="216.1" x2="167.4" y2="218.6" stroke="#333"/>
<text x="167.4" y="378.6" text-anchor="middle" class="t">0.6</text>
<line x1="210.7" y1="364.0" x2="210.7" y2="361.5" stroke="#333"/>
<line x1="210.7" y1="216.1" x2="210.7" y2="218.6" stroke="#333"/>
<text x="210.7" y="378.6" text-anchor="middle" class="t">0.8</text>
<line x1="254.0" y1="364.0" x2="254.0" y2="361.5" stroke="#333"/>
<line x1="254.0" y1="216.1" x2="254.0" y2="218.6" stroke="#333"/>
<text x="254.0" y="378.6" text-anchor="middle" class="t">1</text>
<line x1="37.5" y1="364.0" x2="40.0" y2="364.0" stroke="#333"/>
<text x="33.0" y="368.3" text-anchor="end" class="t">0</text>
<line x1="37.5" y1="327.0" x2="40.0" y2="327.0" stroke="#333"/>
<text x="33.0" y="331.3" text-anchor="end" class="t">0.5</text>
<line x1="37.5" y1="290.1" x2="40.0" y2="290.1" stroke="#333"/>
<text x="33.0" y="294.4" text-anchor="end" class="t">1</text>
<line x1="37.5" y1="253.1" x2="40.0" y2="253.1" stroke="#333"/>
<text x="33.0" y="257.4" text-anchor="end" class="t">1.5</text>
<line x1="37.5" y1="216.1" x2="40.0" y2="216.1" stroke="#333"/>
<text x="33.0" y="220.4" text-anchor="end" class="t">2</text>
<text x="2.2" y="221.8" class="pl">c</text>
<text transform="translate(10.8,291.6) rotate(-90)" text-anchor="middle" class="lb">η</text>
<text x="124.4" y="396.3" class="lb">σ</text><text x="136.0" y="399.9" class="sb">2</text><text x="146.6" y="396.3" class="lb">/</text><text x="155.7" y="396.3" class="lb">σ</text><text x="166.3" y="399.9" class="sb">1</text>
<text x="121.5" y="279" class="g">G<tspan class="sb2" dy="3.5">1</tspan><tspan dy="-3.5"> &gt; G</tspan><tspan class="sb2" dy="3.5">2</tspan></text>
<text x="122" y="342" class="g">G<tspan class="sb2" dy="3.5">1</tspan><tspan dy="-3.5"> &lt; G</tspan><tspan class="sb2" dy="3.5">2</tspan></text>
<rect x="316.10" y="215.6" width="2.99" height="149.9" fill="url(#d0)" shape-rendering="crispEdges"/><rect x="319.09" y="215.6" width="2.99" height="149.9" fill="url(#d1)" shape-rendering="crispEdges"/><rect x="322.08" y="215.6" width="2.99" height="149.9" fill="url(#d2)" shape-rendering="crispEdges"/><rect x="325.08" y="215.6" width="2.99" height="149.9" fill="url(#d3)" shape-rendering="crispEdges"/><rect x="328.07" y="215.6" width="2.99" height="149.9" fill="url(#d4)" shape-rendering="crispEdges"/><rect x="331.06" y="215.6" width="2.99" height="149.9" fill="url(#d5)" shape-rendering="crispEdges"/><rect x="334.05" y="215.6" width="2.99" height="149.9" fill="url(#d6)" shape-rendering="crispEdges"/><rect x="337.04" y="215.6" width="2.99" height="149.9" fill="url(#d7)" shape-rendering="crispEdges"/><rect x="340.04" y="215.6" width="2.99" height="149.9" fill="url(#d8)" shape-rendering="crispEdges"/><rect x="343.03" y="215.6" width="2.99" height="149.9" fill="url(#d9)" shape-rendering="crispEdges"/><rect x="346.02" y="215.6" width="2.99" height="149.9" fill="url(#d10)" shape-rendering="crispEdges"/><rect x="349.01" y="215.6" width="2.99" height="149.9" fill="url(#d11)" shape-rendering="crispEdges"/><rect x="352.00" y="215.6" width="2.99" height="149.9" fill="url(#d12)" shape-rendering="crispEdges"/><rect x="354.99" y="215.6" width="2.99" height="149.9" fill="url(#d13)" shape-rendering="crispEdges"/><rect x="357.99" y="215.6" width="2.99" height="149.9" fill="url(#d14)" shape-rendering="crispEdges"/><rect x="360.98" y="215.6" width="2.99" height="149.9" fill="url(#d15)" shape-rendering="crispEdges"/><rect x="363.97" y="215.6" width="2.99" height="149.9" fill="url(#d16)" shape-rendering="crispEdges"/><rect x="366.96" y="215.6" width="2.99" height="149.9" fill="url(#d17)" shape-rendering="crispEdges"/><rect x="369.95" y="215.6" width="2.99" height="149.9" fill="url(#d18)" shape-rendering="crispEdges"/><rect x="372.95" y="215.6" width="2.99" height="149.9" fill="url(#d19)" shape-rendering="crispEdges"/><rect x="375.94" y="215.6" width="2.99" height="149.9" fill="url(#d20)" shape-rendering="crispEdges"/><rect x="378.93" y="215.6" width="2.99" height="149.9" fill="url(#d21)" shape-rendering="crispEdges"/><rect x="381.92" y="215.6" width="2.99" height="149.9" fill="url(#d22)" shape-rendering="crispEdges"/><rect x="384.91" y="215.6" width="2.99" height="149.9" fill="url(#d23)" shape-rendering="crispEdges"/><rect x="387.91" y="215.6" width="2.99" height="149.9" fill="url(#d24)" shape-rendering="crispEdges"/><rect x="390.90" y="215.6" width="2.99" height="149.9" fill="url(#d25)" shape-rendering="crispEdges"/><rect x="393.89" y="215.6" width="2.99" height="149.9" fill="url(#d26)" shape-rendering="crispEdges"/><rect x="396.88" y="215.6" width="2.99" height="149.9" fill="url(#d27)" shape-rendering="crispEdges"/><rect x="399.87" y="215.6" width="2.99" height="149.9" fill="url(#d28)" shape-rendering="crispEdges"/><rect x="402.86" y="215.6" width="2.99" height="149.9" fill="url(#d29)" shape-rendering="crispEdges"/><rect x="405.86" y="215.6" width="2.99" height="149.9" fill="url(#d30)" shape-rendering="crispEdges"/><rect x="408.85" y="215.6" width="2.99" height="149.9" fill="url(#d31)" shape-rendering="crispEdges"/><rect x="411.84" y="215.6" width="2.99" height="149.9" fill="url(#d32)" shape-rendering="crispEdges"/><rect x="414.83" y="215.6" width="2.99" height="149.9" fill="url(#d33)" shape-rendering="crispEdges"/><rect x="417.82" y="215.6" width="2.99" height="149.9" fill="url(#d34)" shape-rendering="crispEdges"/><rect x="420.82" y="215.6" width="2.99" height="149.9" fill="url(#d35)" shape-rendering="crispEdges"/><rect x="423.81" y="215.6" width="2.99" height="149.9" fill="url(#d36)" shape-rendering="crispEdges"/><rect x="426.80" y="215.6" width="2.99" height="149.9" fill="url(#d37)" shape-rendering="crispEdges"/><rect x="429.79" y="215.6" width="2.99" height="149.9" fill="url(#d38)" shape-rendering="crispEdges"/><rect x="432.78" y="215.6" width="2.99" height="149.9" fill="url(#d39)" shape-rendering="crispEdges"/><rect x="435.78" y="215.6" width="2.99" height="149.9" fill="url(#d40)" shape-rendering="crispEdges"/><rect x="438.77" y="215.6" width="2.99" height="149.9" fill="url(#d41)" shape-rendering="crispEdges"/><rect x="441.76" y="215.6" width="2.99" height="149.9" fill="url(#d42)" shape-rendering="crispEdges"/><rect x="444.75" y="215.6" width="2.99" height="149.9" fill="url(#d43)" shape-rendering="crispEdges"/><rect x="447.74" y="215.6" width="2.99" height="149.9" fill="url(#d44)" shape-rendering="crispEdges"/><rect x="450.74" y="215.6" width="2.99" height="149.9" fill="url(#d45)" shape-rendering="crispEdges"/><rect x="453.73" y="215.6" width="2.99" height="149.9" fill="url(#d46)" shape-rendering="crispEdges"/><rect x="456.72" y="215.6" width="2.99" height="149.9" fill="url(#d47)" shape-rendering="crispEdges"/><rect x="459.71" y="215.6" width="2.99" height="149.9" fill="url(#d48)" shape-rendering="crispEdges"/><rect x="462.70" y="215.6" width="2.99" height="149.9" fill="url(#d49)" shape-rendering="crispEdges"/><rect x="465.69" y="215.6" width="2.99" height="149.9" fill="url(#d50)" shape-rendering="crispEdges"/><rect x="468.69" y="215.6" width="2.99" height="149.9" fill="url(#d51)" shape-rendering="crispEdges"/><rect x="471.68" y="215.6" width="2.99" height="149.9" fill="url(#d52)" shape-rendering="crispEdges"/><rect x="474.67" y="215.6" width="2.99" height="149.9" fill="url(#d53)" shape-rendering="crispEdges"/><rect x="477.66" y="215.6" width="2.99" height="149.9" fill="url(#d54)" shape-rendering="crispEdges"/><rect x="480.65" y="215.6" width="2.99" height="149.9" fill="url(#d55)" shape-rendering="crispEdges"/><rect x="483.65" y="215.6" width="2.99" height="149.9" fill="url(#d56)" shape-rendering="crispEdges"/><rect x="486.64" y="215.6" width="2.99" height="149.9" fill="url(#d57)" shape-rendering="crispEdges"/><rect x="489.63" y="215.6" width="2.99" height="149.9" fill="url(#d58)" shape-rendering="crispEdges"/><rect x="492.62" y="215.6" width="2.99" height="149.9" fill="url(#d59)" shape-rendering="crispEdges"/><rect x="495.61" y="215.6" width="2.99" height="149.9" fill="url(#d60)" shape-rendering="crispEdges"/><rect x="498.61" y="215.6" width="2.99" height="149.9" fill="url(#d61)" shape-rendering="crispEdges"/><rect x="501.60" y="215.6" width="2.99" height="149.9" fill="url(#d62)" shape-rendering="crispEdges"/><rect x="504.59" y="215.6" width="2.99" height="149.9" fill="url(#d63)" shape-rendering="crispEdges"/><rect x="507.58" y="215.6" width="2.99" height="149.9" fill="url(#d64)" shape-rendering="crispEdges"/><rect x="510.57" y="215.6" width="2.99" height="149.9" fill="url(#d65)" shape-rendering="crispEdges"/><rect x="513.56" y="215.6" width="2.99" height="149.9" fill="url(#d66)" shape-rendering="crispEdges"/><rect x="516.56" y="215.6" width="2.99" height="149.9" fill="url(#d67)" shape-rendering="crispEdges"/><rect x="519.55" y="215.6" width="2.99" height="149.9" fill="url(#d68)" shape-rendering="crispEdges"/><rect x="522.54" y="215.6" width="2.99" height="149.9" fill="url(#d69)" shape-rendering="crispEdges"/><rect x="525.53" y="215.6" width="2.99" height="149.9" fill="url(#d70)" shape-rendering="crispEdges"/><rect x="528.52" y="215.6" width="2.99" height="149.9" fill="url(#d71)" shape-rendering="crispEdges"/><rect x="531.52" y="215.6" width="2.99" height="149.9" fill="url(#d72)" shape-rendering="crispEdges"/><rect x="534.51" y="215.6" width="2.99" height="149.9" fill="url(#d73)" shape-rendering="crispEdges"/>
<rect x="316.1" y="215.6" width="221.39999999999998" height="149.9" fill="none" stroke="#222" stroke-width="1"/>
<line x1="316.1" y1="365.5" x2="316.1" y2="363.0" stroke="#222"/>
<line x1="316.1" y1="215.6" x2="316.1" y2="218.1" stroke="#222"/>
<text x="316.1" y="380.1" text-anchor="middle" class="t">0</text>
<line x1="360.4" y1="365.5" x2="360.4" y2="363.0" stroke="#222"/>
<line x1="360.4" y1="215.6" x2="360.4" y2="218.1" stroke="#222"/>
<text x="360.4" y="380.1" text-anchor="middle" class="t">0.2</text>
<line x1="404.7" y1="365.5" x2="404.7" y2="363.0" stroke="#222"/>
<line x1="404.7" y1="215.6" x2="404.7" y2="218.1" stroke="#222"/>
<text x="404.7" y="380.1" text-anchor="middle" class="t">0.4</text>
<line x1="448.9" y1="365.5" x2="448.9" y2="363.0" stroke="#222"/>
<line x1="448.9" y1="215.6" x2="448.9" y2="218.1" stroke="#222"/>
<text x="448.9" y="380.1" text-anchor="middle" class="t">0.6</text>
<line x1="493.2" y1="365.5" x2="493.2" y2="363.0" stroke="#222"/>
<line x1="493.2" y1="215.6" x2="493.2" y2="218.1" stroke="#222"/>
<text x="493.2" y="380.1" text-anchor="middle" class="t">0.8</text>
<line x1="537.5" y1="365.5" x2="537.5" y2="363.0" stroke="#222"/>
<line x1="537.5" y1="215.6" x2="537.5" y2="218.1" stroke="#222"/>
<text x="537.5" y="380.1" text-anchor="middle" class="t">1</text>
<line x1="316.1" y1="365.5" x2="318.6" y2="365.5" stroke="#222"/>
<line x1="537.5" y1="365.5" x2="535.0" y2="365.5" stroke="#222"/>
<text x="311.6" y="369.8" text-anchor="end" class="t">0</text>
<line x1="316.1" y1="328.0" x2="318.6" y2="328.0" stroke="#222"/>
<line x1="537.5" y1="328.0" x2="535.0" y2="328.0" stroke="#222"/>
<text x="311.6" y="332.3" text-anchor="end" class="t">0.5</text>
<line x1="316.1" y1="290.6" x2="318.6" y2="290.6" stroke="#222"/>
<line x1="537.5" y1="290.6" x2="535.0" y2="290.6" stroke="#222"/>
<text x="311.6" y="294.9" text-anchor="end" class="t">1</text>
<line x1="316.1" y1="253.1" x2="318.6" y2="253.1" stroke="#222"/>
<line x1="537.5" y1="253.1" x2="535.0" y2="253.1" stroke="#222"/>
<text x="311.6" y="257.4" text-anchor="end" class="t">1.5</text>
<line x1="316.1" y1="215.6" x2="318.6" y2="215.6" stroke="#222"/>
<line x1="537.5" y1="215.6" x2="535.0" y2="215.6" stroke="#222"/>
<text x="311.6" y="219.9" text-anchor="end" class="t">2</text>
<text x="280.4" y="222.4" class="pl">d</text>
<text transform="translate(291.5,290) rotate(-90)" text-anchor="middle" class="lb">η</text>
<text x="404.4" y="396.3" class="lb">σ</text><text x="416.0" y="399.9" class="sb">2</text><text x="426.6" y="396.3" class="lb">/</text><text x="435.7" y="396.3" class="lb">σ</text><text x="446.3" y="399.9" class="sb">1</text>
<rect x="545.0" y="216.3" width="11.0" height="150.0" fill="url(#cb)" stroke="#222" stroke-width="1"/>
<line x1="545.0" y1="366.3" x2="547.0" y2="366.3" stroke="#222"/>
<line x1="556.0" y1="366.3" x2="554.0" y2="366.3" stroke="#222"/>
<text x="558.5" y="370.8" class="t">0</text>
<line x1="545.0" y1="316.3" x2="547.0" y2="316.3" stroke="#222"/>
<line x1="556.0" y1="316.3" x2="554.0" y2="316.3" stroke="#222"/>
<text x="558.5" y="320.8" class="t">30</text>
<line x1="545.0" y1="266.3" x2="547.0" y2="266.3" stroke="#222"/>
<line x1="556.0" y1="266.3" x2="554.0" y2="266.3" stroke="#222"/>
<text x="558.5" y="270.8" class="t">60</text>
<line x1="545.0" y1="216.3" x2="547.0" y2="216.3" stroke="#222"/>
<line x1="556.0" y1="216.3" x2="554.0" y2="216.3" stroke="#222"/>
<text x="558.5" y="220.8" class="t">90</text>
<line x1="411.8" y1="81.8" x2="411.8" y2="10.2" stroke="#8c8c8c" stroke-width="0.7" stroke-dasharray="1,0.8"/><line x1="395.4" y1="89.5" x2="395.4" y2="17.9" stroke="#8c8c8c" stroke-width="0.7" stroke-dasharray="1,0.8"/><line x1="379.1" y1="97.2" x2="379.1" y2="25.6" stroke="#8c8c8c" stroke-width="0.7" stroke-dasharray="1,0.8"/><line x1="362.7" y1="105.0" x2="362.7" y2="33.3" stroke="#8c8c8c" stroke-width="0.7" stroke-dasharray="1,0.8"/><line x1="346.4" y1="112.7" x2="346.4" y2="41.0" stroke="#8c8c8c" stroke-width="0.7" stroke-dasharray="1,0.8"/><line x1="330.0" y1="120.4" x2="330.0" y2="48.8" stroke="#8c8c8c" stroke-width="0.7" stroke-dasharray="1,0.8"/><line x1="411.8" y1="81.8" x2="330.0" y2="120.4" stroke="#8c8c8c" stroke-width="0.7" stroke-dasharray="1,0.8"/><line x1="411.8" y1="57.9" x2="330.0" y2="96.5" stroke="#8c8c8c" stroke-width="0.7" stroke-dasharray="1,0.8"/><line x1="411.8" y1="34.0" x2="330.0" y2="72.6" stroke="#8c8c8c" stroke-width="0.7" stroke-dasharray="1,0.8"/><line x1="411.8" y1="10.2" x2="330.0" y2="48.8" stroke="#8c8c8c" stroke-width="0.7" stroke-dasharray="1,0.8"/><line x1="556.8" y1="103.5" x2="556.8" y2="31.9" stroke="#8c8c8c" stroke-width="0.7" stroke-dasharray="1,0.8"/><line x1="527.8" y1="99.2" x2="527.8" y2="27.5" stroke="#8c8c8c" stroke-width="0.7" stroke-dasharray="1,0.8"/><line x1="498.8" y1="94.8" x2="498.8" y2="23.2" stroke="#8c8c8c" stroke-width="0.7" stroke-dasharray="1,0.8"/><line x1="469.8" y1="90.5" x2="469.8" y2="18.8" stroke="#8c8c8c" stroke-width="0.7" stroke-dasharray="1,0.8"/><line x1="440.8" y1="86.1" x2="440.8" y2="14.5" stroke="#8c8c8c" stroke-width="0.7" stroke-dasharray="1,0.8"/><line x1="411.8" y1="81.8" x2="411.8" y2="10.2" stroke="#8c8c8c" stroke-width="0.7" stroke-dasharray="1,0.8"/><line x1="556.8" y1="103.5" x2="411.8" y2="81.8" stroke="#8c8c8c" stroke-width="0.7" stroke-dasharray="1,0.8"/><line x1="556.8" y1="79.6" x2="411.8" y2="57.9" stroke="#8c8c8c" stroke-width="0.7" stroke-dasharray="1,0.8"/><line x1="556.8" y1="55.7" x2="411.8" y2="34.0" stroke="#8c8c8c" stroke-width="0.7" stroke-dasharray="1,0.8"/><line x1="556.8" y1="31.9" x2="411.8" y2="10.2" stroke="#8c8c8c" stroke-width="0.7" stroke-dasharray="1,0.8"/><line x1="556.8" y1="103.5" x2="475.0" y2="142.1" stroke="#8c8c8c" stroke-width="0.7" stroke-dasharray="1,0.8"/><line x1="527.8" y1="99.2" x2="446.0" y2="137.8" stroke="#8c8c8c" stroke-width="0.7" stroke-dasharray="1,0.8"/><line x1="498.8" y1="94.8" x2="417.0" y2="133.4" stroke="#8c8c8c" stroke-width="0.7" stroke-dasharray="1,0.8"/><line x1="469.8" y1="90.5" x2="388.0" y2="129.1" stroke="#8c8c8c" stroke-width="0.7" stroke-dasharray="1,0.8"/><line x1="440.8" y1="86.1" x2="359.0" y2="124.7" stroke="#8c8c8c" stroke-width="0.7" stroke-dasharray="1,0.8"/><line x1="411.8" y1="81.8" x2="330.0" y2="120.4" stroke="#8c8c8c" stroke-width="0.7" stroke-dasharray="1,0.8"/><line x1="556.8" y1="103.5" x2="411.8" y2="81.8" stroke="#8c8c8c" stroke-width="0.7" stroke-dasharray="1,0.8"/><line x1="540.4" y1="111.2" x2="395.4" y2="89.5" stroke="#8c8c8c" stroke-width="0.7" stroke-dasharray="1,0.8"/><line x1="524.1" y1="118.9" x2="379.1" y2="97.2" stroke="#8c8c8c" stroke-width="0.7" stroke-dasharray="1,0.8"/><line x1="507.7" y1="126.7" x2="362.7" y2="105.0" stroke="#8c8c8c" stroke-width="0.7" stroke-dasharray="1,0.8"/><line x1="491.4" y1="134.4" x2="346.4" y2="112.7" stroke="#8c8c8c" stroke-width="0.7" stroke-dasharray="1,0.8"/><line x1="475.0" y1="142.1" x2="330.0" y2="120.4" stroke="#8c8c8c" stroke-width="0.7" stroke-dasharray="1,0.8"/>
<g shape-rendering="crispEdges" stroke-width="0.6"><polygon points="415.4,10.7 411.8,10.2 411.2,12.2 414.8,12.7" fill="#7b1c21" stroke="#7b1c21"/><polygon points="414.8,12.7 411.2,12.2 410.6,14.5 414.2,14.8" fill="#932026" stroke="#932026"/><polygon points="419.0,11.2 415.4,10.7 414.8,12.7 418.4,13.2" fill="#7b1c21" stroke="#7b1c21"/><polygon points="414.2,14.8 410.6,14.5 409.9,16.8 413.5,17.0" fill="#ab2228" stroke="#ab2228"/><polygon points="418.4,13.2 414.8,12.7 414.2,14.8 417.7,15.2" fill="#912026" stroke="#912026"/><polygon points="413.5,17.0 409.9,16.8 409.3,19.2 412.9,19.3" fill="#bf2228" stroke="#bf2228"/><polygon points="422.7,11.8 419.0,11.2 418.4,13.2 422.0,13.6" fill="#7a1c20" stroke="#7a1c20"/><polygon points="417.7,15.2 414.2,14.8 413.5,17.0 417.1,17.3" fill="#a82228" stroke="#a82228"/><polygon points="412.9,19.3 409.3,19.2 408.7,21.7 412.2,21.7" fill="#cc2329" stroke="#cc2329"/><polygon points="422.0,13.6 418.4,13.2 417.7,15.2 421.3,15.6" fill="#902025" stroke="#902025"/><polygon points="417.1,17.3 413.5,17.0 412.9,19.3 416.4,19.5" fill="#bc2228" stroke="#bc2228"/><polygon points="412.2,21.7 408.7,21.7 408.1,24.4 411.6,24.3" fill="#d0262b" stroke="#d0262b"/><polygon points="426.3,12.3 422.7,11.8 422.0,13.6 425.6,14.1" fill="#7a1c20" stroke="#7a1c20"/><polygon points="421.3,15.6 417.7,15.2 417.1,17.3 420.7,17.6" fill="#a52228" stroke="#a52228"/><polygon points="416.4,19.5 412.9,19.3 412.2,21.7 415.8,21.9" fill="#ca2229" stroke="#ca2229"/><polygon points="411.6,24.3 408.1,24.4 407.4,27.3 411.0,27.0" fill="#d32e2d" stroke="#d32e2d"/><polygon points="425.6,14.1 422.0,13.6 421.3,15.6 424.9,16.0" fill="#8e2025" stroke="#8e2025"/><polygon points="411.0,27.0 407.4,27.3 407.1,28.8 410.7,28.4" fill="#d73c2d" stroke="#d73c2d"/><polygon points="420.7,17.6 417.1,17.3 416.4,19.5 420.0,19.8" fill="#ba2228" stroke="#ba2228"/><polygon points="415.8,21.9 412.2,21.7 411.6,24.3 415.1,24.3" fill="#d0252b" stroke="#d0252b"/><polygon points="410.7,28.4 407.1,28.8 406.8,30.3 410.3,29.8" fill="#db502b" stroke="#db502b"/><polygon points="429.9,12.9 426.3,12.3 425.6,14.1 429.2,14.6" fill="#791c20" stroke="#791c20"/><polygon points="424.9,16.0 421.3,15.6 420.7,17.6 424.2,18.0" fill="#a32228" stroke="#a32228"/><polygon points="410.3,29.8 406.8,30.3 406.5,31.8 410.0,31.3" fill="#e06a2b" stroke="#e06a2b"/><polygon points="420.0,19.8 416.4,19.5 415.8,21.9 419.3,22.0" fill="#c92229" stroke="#c92229"/><polygon points="415.1,24.3 411.6,24.3 411.0,27.0 414.5,26.9" fill="#d22a2d" stroke="#d22a2d"/><polygon points="410.0,31.3 406.5,31.8 406.2,33.3 409.7,32.7" fill="#e4842d" stroke="#e4842d"/><polygon points="429.2,14.6 425.6,14.1 424.9,16.0 428.5,16.4" fill="#8d1f25" stroke="#8d1f25"/><polygon points="409.7,32.7 406.2,33.3 405.9,34.8 409.4,34.2" fill="#e89e2e" stroke="#e89e2e"/><polygon points="414.5,26.9 411.0,27.0 410.7,28.4 414.2,28.2" fill="#d4332d" stroke="#d4332d"/><polygon points="424.2,18.0 420.7,17.6 420.0,19.8 423.5,20.1" fill="#b72228" stroke="#b72228"/><polygon points="419.3,22.0 415.8,21.9 415.1,24.3 418.6,24.4" fill="#d0242a" stroke="#d0242a"/><polygon points="433.5,13.4 429.9,12.9 429.2,14.6 432.8,15.1" fill="#791c20" stroke="#791c20"/><polygon points="409.4,34.2 405.9,34.8 405.6,36.3 409.1,35.6" fill="#ecb62d" stroke="#ecb62d"/><polygon points="414.2,28.2 410.7,28.4 410.3,29.8 413.8,29.6" fill="#d8402c" stroke="#d8402c"/><polygon points="428.5,16.4 424.9,16.0 424.2,18.0 427.8,18.4" fill="#a12228" stroke="#a12228"/><polygon points="413.8,29.6 410.3,29.8 410.0,31.3 413.5,31.0" fill="#dc552b" stroke="#dc552b"/><polygon points="423.5,20.1 420.0,19.8 419.3,22.0 422.8,22.3" fill="#c72228" stroke="#c72228"/><polygon points="409.1,35.6 405.6,36.3 405.0,39.4 408.5,38.8" fill="#f1d229" stroke="#f1d229"/><polygon points="418.6,24.4 415.1,24.3 414.5,26.9 418.0,26.9" fill="#d1282c" stroke="#d1282c"/><polygon points="413.5,31.0 410.0,31.3 409.7,32.7 413.2,32.4" fill="#e16f2b" stroke="#e16f2b"/><polygon points="432.8,15.1 429.2,14.6 428.5,16.4 432.1,16.9" fill="#8c1f25" stroke="#8c1f25"/><polygon points="427.8,18.4 424.2,18.0 423.5,20.1 427.0,20.4" fill="#b52228" stroke="#b52228"/><polygon points="418.0,26.9 414.5,26.9 414.2,28.2 417.6,28.2" fill="#d32d2d" stroke="#d32d2d"/><polygon points="413.2,32.4 409.7,32.7 409.4,34.2 412.8,33.8" fill="#e5892d" stroke="#e5892d"/><polygon points="408.5,38.8 405.0,39.4 404.4,42.9 407.9,42.5" fill="#f2e52b" stroke="#f2e52b"/><polygon points="422.8,22.3 419.3,22.0 418.6,24.4 422.1,24.6" fill="#cf232a" stroke="#cf232a"/><polygon points="437.2,14.0 433.5,13.4 432.8,15.1 436.4,15.6" fill="#791c20" stroke="#791c20"/><polygon points="412.8,33.8 409.4,34.2 409.1,35.6 412.5,35.3" fill="#e8a12e" stroke="#e8a12e"/><polygon points="417.6,28.2 414.2,28.2 413.8,29.6 417.3,29.5" fill="#d5372d" stroke="#d5372d"/><polygon points="432.1,16.9 428.5,16.4 427.8,18.4 431.3,18.8" fill="#9f2227" stroke="#9f2227"/><polygon points="417.3,29.5 413.8,29.6 413.5,31.0 417.0,30.8" fill="#d9472c" stroke="#d9472c"/><polygon points="427.0,20.4 423.5,20.1 422.8,22.3 426.3,22.6" fill="#c52228" stroke="#c52228"/><polygon points="407.9,42.5 404.4,42.9 403.7,46.4 407.3,46.2" fill="#e7e536" stroke="#e7e536"/><polygon points="412.5,35.3 409.1,35.6 408.5,38.8 411.9,38.4" fill="#eec32b" stroke="#eec32b"/><polygon points="422.1,24.6 418.6,24.4 418.0,26.9 421.4,27.0" fill="#d1272c" stroke="#d1272c"/><polygon points="436.4,15.6 432.8,15.1 432.1,16.9 435.6,17.4" fill="#8b1f24" stroke="#8b1f24"/><polygon points="417.0,30.8 413.5,31.0 413.2,32.4 416.6,32.2" fill="#de5e2b" stroke="#de5e2b"/><polygon points="431.3,18.8 427.8,18.4 427.0,20.4 430.6,20.8" fill="#b32228" stroke="#b32228"/><polygon points="421.4,27.0 418.0,26.9 417.6,28.2 421.1,28.2" fill="#d22a2d" stroke="#d22a2d"/><polygon points="407.3,46.2 403.7,46.4 403.1,49.5 406.7,49.6" fill="#cddb48" stroke="#cddb48"/><polygon points="416.6,32.2 413.2,32.4 412.8,33.8 416.3,33.7" fill="#e2772c" stroke="#e2772c"/><polygon points="440.8,14.5 437.2,14.0 436.4,15.6 440.0,16.1" fill="#781c20" stroke="#781c20"/><polygon points="411.9,38.4 408.5,38.8 407.9,42.5 411.3,42.2" fill="#f2e02a" stroke="#f2e02a"/><polygon points="426.3,22.6 422.8,22.3 422.1,24.6 425.6,24.8" fill="#ce232a" stroke="#ce232a"/><polygon points="421.1,28.2 417.6,28.2 417.3,29.5 420.7,29.5" fill="#d4312d" stroke="#d4312d"/><polygon points="416.3,33.7 412.8,33.8 412.5,35.3 415.9,35.1" fill="#e6902e" stroke="#e6902e"/><polygon points="435.6,17.4 432.1,16.9 431.3,18.8 434.8,19.3" fill="#9e2127" stroke="#9e2127"/><polygon points="406.7,49.6 403.1,49.5 402.5,52.1 406.1,52.4" fill="#aed061" stroke="#aed061"/><polygon points="430.6,20.8 427.0,20.4 426.3,22.6 429.8,23.0" fill="#c32228" stroke="#c32228"/><polygon points="411.3,42.2 407.9,42.5 407.3,46.2 410.8,46.1" fill="#eae532" stroke="#eae532"/><polygon points="420.7,29.5 417.3,29.5 417.0,30.8 420.4,30.9" fill="#d73d2c" stroke="#d73d2c"/><polygon points="425.6,24.8 422.1,24.6 421.4,27.0 424.9,27.2" fill="#d0262b" stroke="#d0262b"/><polygon points="415.9,35.1 412.5,35.3 411.9,38.4 415.4,38.2" fill="#ecb62c" stroke="#ecb62c"/><polygon points="440.0,16.1 436.4,15.6 435.6,17.4 439.2,17.9" fill="#8a1f24" stroke="#8a1f24"/><polygon points="420.4,30.9 417.0,30.8 416.6,32.2 420.0,32.3" fill="#db502b" stroke="#db502b"/><polygon points="434.8,19.3 431.3,18.8 430.6,20.8 434.0,21.3" fill="#b12228" stroke="#b12228"/><polygon points="444.4,15.0 440.8,14.5 440.0,16.1 443.6,16.6" fill="#781c20" stroke="#781c20"/><polygon points="406.1,52.4 402.5,52.1 401.9,54.1 405.5,54.6" fill="#97c87c" stroke="#97c87c"/><polygon points="410.8,46.1 407.3,46.2 406.7,49.6 410.2,49.6" fill="#d2dd44" stroke="#d2dd44"/><polygon points="424.9,27.2 421.4,27.0 421.1,28.2 424.5,28.4" fill="#d1292d" stroke="#d1292d"/><polygon points="420.0,32.3 416.6,32.2 416.3,33.7 419.7,33.7" fill="#e06a2b" stroke="#e06a2b"/><polygon points="429.8,23.0 426.3,22.6 425.6,24.8 429.1,25.2" fill="#cd2329" stroke="#cd2329"/><polygon points="415.4,38.2 411.9,38.4 411.3,42.2 414.8,42.1" fill="#f2db2a" stroke="#f2db2a"/><polygon points="439.2,17.9 435.6,17.4 434.8,19.3 438.3,19.8" fill="#9c2127" stroke="#9c2127"/><polygon points="424.5,28.4 421.1,28.2 420.7,29.5 424.2,29.7" fill="#d32e2d" stroke="#d32e2d"/><polygon points="419.7,33.7 416.3,33.7 415.9,35.1 419.3,35.2" fill="#e4842d" stroke="#e4842d"/><polygon points="405.5,54.6 401.9,54.1 401.3,55.7 404.9,56.2" fill="#88c497" stroke="#88c497"/><polygon points="410.2,49.6 406.7,49.6 406.1,52.4 409.6,52.6" fill="#b3d25d" stroke="#b3d25d"/><polygon points="434.0,21.3 430.6,20.8 429.8,23.0 433.3,23.4" fill="#c22228" stroke="#c22228"/><polygon points="414.8,42.1 411.3,42.2 410.8,46.1 414.2,46.0" fill="#ede630" stroke="#ede630"/><polygon points="424.2,29.7 420.7,29.5 420.4,30.9 423.8,31.1" fill="#d6372d" stroke="#d6372d"/><polygon points="443.6,16.6 440.0,16.1 439.2,17.9 442.7,18.4" fill="#891f24" stroke="#891f24"/><polygon points="429.1,25.2 425.6,24.8 424.9,27.2 428.3,27.5" fill="#d0252b" stroke="#d0252b"/><polygon points="419.3,35.2 415.9,35.1 415.4,37.8 418.9,37.9" fill="#eaa72d" stroke="#eaa72d"/><polygon points="448.0,15.6 444.4,15.0 443.6,16.6 447.2,17.2" fill="#781b20" stroke="#781b20"/><polygon points="423.8,31.1 420.4,30.9 420.0,32.3 423.4,32.5" fill="#d9472c" stroke="#d9472c"/><polygon points="404.9,56.2 401.3,55.7 400.7,57.0 404.3,57.4" fill="#7dc1b0" stroke="#7dc1b0"/><polygon points="438.3,19.8 434.8,19.3 434.0,21.3 437.5,21.8" fill="#af2228" stroke="#af2228"/><polygon points="409.6,52.6 406.1,52.4 405.5,54.6 409.0,54.9" fill="#9ac978" stroke="#9ac978"/><polygon points="414.2,46.0 410.8,46.1 410.2,49.6 413.7,49.7" fill="#d8df40" stroke="#d8df40"/><polygon points="418.9,37.9 415.4,37.8 414.9,41.2 418.4,41.2" fill="#f1d129" stroke="#f1d129"/><polygon points="428.3,27.5 424.9,27.2 424.5,28.4 427.9,28.8" fill="#d1282d" stroke="#d1282d"/><polygon points="433.3,23.4 429.8,23.0 429.1,25.2 432.5,25.6" fill="#cc2329" stroke="#cc2329"/><polygon points="423.4,32.5 420.0,32.3 419.7,33.7 423.1,34.0" fill="#de602b" stroke="#de602b"/><polygon points="442.7,18.4 439.2,17.9 438.3,19.8 441.9,20.3" fill="#9b2127" stroke="#9b2127"/><polygon points="427.9,28.8 424.5,28.4 424.2,29.7 427.6,30.1" fill="#d22c2d" stroke="#d22c2d"/><polygon points="409.0,54.9 405.5,54.6 404.9,56.2 408.4,56.6" fill="#89c493" stroke="#89c493"/><polygon points="423.1,34.0 419.7,33.7 419.3,35.2 422.7,35.6" fill="#e27a2c" stroke="#e27a2c"/><polygon points="413.7,49.7 410.2,49.6 409.6,52.6 413.1,52.8" fill="#b8d359" stroke="#b8d359"/><polygon points="418.4,41.2 414.9,41.2 414.4,44.7 417.9,44.8" fill="#f3e62a" stroke="#f3e62a"/><polygon points="437.5,21.8 434.0,21.3 433.3,23.4 436.7,23.9" fill="#c02228" stroke="#c02228"/><polygon points="447.2,17.2 443.6,16.6 442.7,18.4 446.3,18.9" fill="#891f24" stroke="#891f24"/><polygon points="427.6,30.1 424.2,29.7 423.8,31.1 427.2,31.5" fill="#d5342d" stroke="#d5342d"/><polygon points="404.3,57.4 400.7,57.0 399.3,59.7 402.8,60.3" fill="#71bdcf" stroke="#71bdcf"/><polygon points="432.5,25.6 429.1,25.2 428.3,27.5 431.7,28.0" fill="#d0252b" stroke="#d0252b"/><polygon points="422.7,35.6 419.3,35.2 418.9,37.9 422.2,38.2" fill="#e89f2d" stroke="#e89f2d"/><polygon points="451.7,16.1 448.0,15.6 447.2,17.2 450.7,17.7" fill="#781b20" stroke="#781b20"/><polygon points="417.9,44.8 414.4,44.7 413.9,48.1 417.4,48.3" fill="#e7e536" stroke="#e7e536"/><polygon points="408.4,56.6 404.9,56.2 404.3,57.4 407.8,57.9" fill="#7ec1ad" stroke="#7ec1ad"/><polygon points="413.1,52.8 409.6,52.6 409.0,54.9 412.5,55.2" fill="#9dca74" stroke="#9dca74"/><polygon points="441.9,20.3 438.3,19.8 437.5,21.8 441.0,22.3" fill="#ae2228" stroke="#ae2228"/><polygon points="427.2,31.5 423.8,31.1 423.4,32.5 426.8,32.9" fill="#d8422c" stroke="#d8422c"/><polygon points="422.2,38.2 418.9,37.9 418.4,41.2 421.8,41.5" fill="#f0cb2a" stroke="#f0cb2a"/><polygon points="436.7,23.9 433.3,23.4 432.5,25.6 435.9,26.1" fill="#cb2229" stroke="#cb2229"/><polygon points="431.7,28.0 428.3,27.5 427.9,28.8 431.3,29.3" fill="#d1282c" stroke="#d1282c"/><polygon points="417.4,48.3 413.9,48.1 413.4,51.2 416.9,51.5" fill="#cddb48" stroke="#cddb48"/><polygon points="446.3,18.9 442.7,18.4 441.9,20.3 445.4,20.8" fill="#9b2127" stroke="#9b2127"/><polygon points="426.8,32.9 423.4,32.5 423.1,34.0 426.4,34.5" fill="#dd592b" stroke="#dd592b"/><polygon points="412.5,55.2 409.0,54.9 408.4,56.6 412.0,56.9" fill="#8bc58f" stroke="#8bc58f"/><polygon points="431.3,29.3 427.9,28.8 427.6,30.1 430.9,30.6" fill="#d22a2d" stroke="#d22a2d"/><polygon points="450.7,17.7 447.2,17.2 446.3,18.9 449.8,19.5" fill="#881f24" stroke="#881f24"/><polygon points="421.8,41.5 418.4,41.2 417.9,44.8 421.3,45.1" fill="#f3e42a" stroke="#f3e42a"/><polygon points="426.4,34.5 423.1,34.0 422.7,35.6 426.1,36.1" fill="#e2762b" stroke="#e2762b"/><polygon points="441.0,22.3 437.5,21.8 436.7,23.9 440.1,24.4" fill="#bf2228" stroke="#bf2228"/><polygon points="416.9,51.5 413.4,51.2 412.9,53.7 416.4,54.1" fill="#b0d05f" stroke="#b0d05f"/><polygon points="407.8,57.9 404.3,57.4 402.8,60.3 406.4,60.9" fill="#72bdce" stroke="#72bdce"/><polygon points="455.3,16.7 451.7,16.1 450.7,17.7 454.3,18.3" fill="#781b20" stroke="#781b20"/><polygon points="430.9,30.6 427.6,30.1 427.2,31.5 430.5,32.0" fill="#d4322d" stroke="#d4322d"/><polygon points="435.9,26.1 432.5,25.6 431.7,28.0 435.1,28.5" fill="#d0252b" stroke="#d0252b"/><polygon points="402.8,60.3 399.3,59.7 397.8,62.7 401.4,63.6" fill="#64b8e5" stroke="#64b8e5"/><polygon points="412.0,56.9 408.4,56.6 407.8,57.9 411.4,58.3" fill="#80c2a9" stroke="#80c2a9"/><polygon points="426.1,36.1 422.7,35.6 422.2,38.2 425.6,38.7" fill="#e79a2d" stroke="#e79a2d"/><polygon points="421.3,45.1 417.9,44.8 417.4,48.3 420.8,48.7" fill="#e8e534" stroke="#e8e534"/><polygon points="445.4,20.8 441.9,20.3 441.0,22.3 444.5,22.9" fill="#ad2228" stroke="#ad2228"/><polygon points="416.4,54.1 412.9,53.7 412.4,55.6 415.9,56.1" fill="#9ac978" stroke="#9ac978"/><polygon points="430.5,32.0 427.2,31.5 426.8,32.9 430.1,33.6" fill="#d8402c" stroke="#d8402c"/><polygon points="425.6,38.7 422.2,38.2 421.8,41.5 425.1,42.0" fill="#efc72b" stroke="#efc72b"/><polygon points="440.1,24.4 436.7,23.9 435.9,26.1 439.3,26.7" fill="#cb2229" stroke="#cb2229"/><polygon points="449.8,19.5 446.3,18.9 445.4,20.8 448.8,21.4" fill="#9a2127" stroke="#9a2127"/><polygon points="435.1,28.5 431.7,28.0 431.3,29.3 434.7,29.8" fill="#d1272c" stroke="#d1272c"/><polygon points="420.8,48.7 417.4,48.3 416.9,51.5 420.4,51.9" fill="#d0dc46" stroke="#d0dc46"/><polygon points="430.1,33.6 426.8,32.9 426.4,34.5 429.7,35.2" fill="#dc572b" stroke="#dc572b"/><polygon points="415.9,56.1 412.4,55.6 411.9,57.1 415.4,57.6" fill="#8bc590" stroke="#8bc590"/><polygon points="454.3,18.3 450.7,17.7 449.8,19.5 453.3,20.1" fill="#881f24" stroke="#881f24"/><polygon points="434.7,29.8 431.3,29.3 430.9,30.6 434.3,31.2" fill="#d22a2d" stroke="#d22a2d"/><polygon points="425.1,42.0 421.8,41.5 421.3,45.1 424.7,45.6" fill="#f3e22a" stroke="#f3e22a"/><polygon points="411.4,58.3 407.8,57.9 406.4,60.9 410.0,61.5" fill="#72becc" stroke="#72becc"/><polygon points="444.5,22.9 441.0,22.3 440.1,24.4 443.6,25.0" fill="#be2228" stroke="#be2228"/><polygon points="458.9,17.2 455.3,16.7 454.3,18.3 457.9,18.9" fill="#781b20" stroke="#781b20"/><polygon points="420.4,51.9 416.9,51.5 416.4,54.1 419.9,54.6" fill="#b3d15d" stroke="#b3d15d"/><polygon points="429.7,35.2 426.4,34.5 426.1,36.1 429.4,36.9" fill="#e2752c" stroke="#e2752c"/><polygon points="406.4,60.9 402.8,60.3 401.4,63.6 405.0,64.6" fill="#63b8e5" stroke="#63b8e5"/><polygon points="415.4,57.6 411.9,57.1 411.4,58.3 414.9,58.9" fill="#80c2a8" stroke="#80c2a8"/><polygon points="439.3,26.7 435.9,26.1 435.1,28.5 438.4,29.2" fill="#d0252b" stroke="#d0252b"/><polygon points="434.3,31.2 430.9,30.6 430.5,32.0 433.9,32.7" fill="#d4312d" stroke="#d4312d"/><polygon points="401.4,63.6 397.8,62.7 396.4,65.8 400.0,67.2" fill="#59b0e6" stroke="#59b0e6"/><polygon points="424.7,45.6 421.3,45.1 420.8,48.7 424.2,49.2" fill="#e9e533" stroke="#e9e533"/><polygon points="448.8,21.4 445.4,20.8 444.5,22.9 447.9,23.5" fill="#ad2228" stroke="#ad2228"/><polygon points="429.4,36.9 426.1,36.1 425.6,38.7 428.9,39.4" fill="#e79a2d" stroke="#e79a2d"/><polygon points="419.9,54.6 416.4,54.1 415.9,56.1 419.4,56.7" fill="#9bca77" stroke="#9bca77"/><polygon points="433.9,32.7 430.5,32.0 430.1,33.6 433.4,34.3" fill="#d83f2c" stroke="#d83f2c"/><polygon points="453.3,20.1 449.8,19.5 448.8,21.4 452.3,22.1" fill="#9a2127" stroke="#9a2127"/><polygon points="443.6,25.0 440.1,24.4 439.3,26.7 442.7,27.3" fill="#cb2229" stroke="#cb2229"/><polygon points="424.2,49.2 420.8,48.7 420.4,51.9 423.8,52.5" fill="#d2dd45" stroke="#d2dd45"/><polygon points="428.9,39.4 425.6,38.7 425.1,42.0 428.5,42.6" fill="#efc62b" stroke="#efc62b"/><polygon points="438.4,29.2 435.1,28.5 434.7,29.8 438.0,30.5" fill="#d1272c" stroke="#d1272c"/><polygon points="419.4,56.7 415.9,56.1 415.4,57.6 418.9,58.4" fill="#8bc590" stroke="#8bc590"/><polygon points="457.9,18.9 454.3,18.3 453.3,20.1 456.8,20.7" fill="#881f24" stroke="#881f24"/><polygon points="433.4,34.3 430.1,33.6 429.7,35.2 433.0,36.0" fill="#dc582b" stroke="#dc582b"/><polygon points="414.9,58.9 411.4,58.3 410.0,61.5 413.5,62.3" fill="#72becc" stroke="#72becc"/><polygon points="462.5,17.8 458.9,17.2 457.9,18.9 461.4,19.5" fill="#781b20" stroke="#781b20"/><polygon points="447.9,23.5 444.5,22.9 443.6,25.0 446.9,25.7" fill="#be2228" stroke="#be2228"/><polygon points="423.8,52.5 420.4,51.9 419.9,54.6 423.3,55.2" fill="#b4d25c" stroke="#b4d25c"/><polygon points="428.5,42.6 425.1,42.0 424.7,45.6 428.1,46.2" fill="#f3e22a" stroke="#f3e22a"/><polygon points="410.0,61.5 406.4,60.9 405.0,64.6 408.6,65.6" fill="#62b7e5" stroke="#62b7e5"/><polygon points="438.0,30.5 434.7,29.8 434.3,31.2 437.6,31.9" fill="#d22a2d" stroke="#d22a2d"/><polygon points="418.9,58.4 415.4,57.6 414.9,58.9 418.5,59.7" fill="#7fc2aa" stroke="#7fc2aa"/><polygon points="433.0,36.0 429.7,35.2 429.4,36.9 432.6,37.8" fill="#e2772c" stroke="#e2772c"/><polygon points="405.0,64.6 401.4,63.6 400.0,67.2 403.6,68.6" fill="#56ade5" stroke="#56ade5"/><polygon points="442.7,27.3 439.3,26.7 438.4,29.2 441.8,29.9" fill="#d0252b" stroke="#d0252b"/><polygon points="452.3,22.1 448.8,21.4 447.9,23.5 451.3,24.2" fill="#ad2228" stroke="#ad2228"/><polygon points="400.0,67.2 396.4,65.8 395.0,68.6 398.6,70.2" fill="#4da2df" stroke="#4da2df"/><polygon points="437.6,31.9 434.3,31.2 433.9,32.7 437.1,33.5" fill="#d4312d" stroke="#d4312d"/><polygon points="428.1,46.2 424.7,45.6 424.2,49.2 427.6,49.8" fill="#eae533" stroke="#eae533"/><polygon points="423.3,55.2 419.9,54.6 419.4,56.7 422.9,57.4" fill="#9bca77" stroke="#9bca77"/><polygon points="432.6,37.8 429.4,36.9 428.9,39.4 432.2,40.2" fill="#e89b2d" stroke="#e89b2d"/><polygon points="456.8,20.7 453.3,20.1 452.3,22.1 455.7,22.8" fill="#9a2127" stroke="#9a2127"/><polygon points="437.1,33.5 433.9,32.7 433.4,34.3 436.7,35.2" fill="#d8412c" stroke="#d8412c"/><polygon points="427.6,49.8 424.2,49.2 423.8,52.5 427.2,53.1" fill="#d2dd44" stroke="#d2dd44"/><polygon points="446.9,25.7 443.6,25.0 442.7,27.3 446.0,28.1" fill="#cb2229" stroke="#cb2229"/><polygon points="422.9,57.4 419.4,56.7 418.9,58.4 422.4,59.2" fill="#8ac593" stroke="#8ac593"/><polygon points="461.4,19.5 457.9,18.9 456.8,20.7 460.3,21.4" fill="#881f24" stroke="#881f24"/><polygon points="432.2,40.2 428.9,39.4 428.5,42.6 431.8,43.3" fill="#efc62b" stroke="#efc62b"/><polygon points="466.2,18.3 462.5,17.8 461.4,19.5 465.0,20.0" fill="#781b20" stroke="#781b20"/><polygon points="441.8,29.9 438.4,29.2 438.0,30.5 441.3,31.3" fill="#d1272c" stroke="#d1272c"/><polygon points="418.5,59.7 414.9,58.9 413.5,62.3 417.1,63.3" fill="#71bdcd" stroke="#71bdcd"/><polygon points="413.5,62.3 410.0,61.5 408.6,65.6 412.1,66.8" fill="#61b6e5" stroke="#61b6e5"/><polygon points="436.7,35.2 433.4,34.3 433.0,36.0 436.3,36.9" fill="#dd5a2b" stroke="#dd5a2b"/><polygon points="427.2,53.1 423.8,52.5 423.3,55.2 426.8,55.9" fill="#b4d25c" stroke="#b4d25c"/><polygon points="451.3,24.2 447.9,23.5 446.9,25.7 450.3,26.5" fill="#be2228" stroke="#be2228"/><polygon points="422.4,59.2 418.9,58.4 418.5,59.7 422.0,60.6" fill="#7ec1af" stroke="#7ec1af"/><polygon points="408.6,65.6 405.0,64.6 403.6,68.6 407.2,70.0" fill="#53a9e2" stroke="#53a9e2"/><polygon points="431.8,43.3 428.5,42.6 428.1,46.2 431.4,46.9" fill="#f3e22a" stroke="#f3e22a"/><polygon points="441.3,31.3 438.0,30.5 437.6,31.9 440.9,32.8" fill="#d22a2d" stroke="#d22a2d"/><polygon points="403.6,68.6 400.0,67.2 398.6,70.2 402.2,71.7" fill="#489ad9" stroke="#489ad9"/><polygon points="436.3,36.9 433.0,36.0 432.6,37.8 435.9,38.8" fill="#e27a2c" stroke="#e27a2c"/><polygon points="455.7,22.8 452.3,22.1 451.3,24.2 454.6,25.0" fill="#ae2228" stroke="#ae2228"/><polygon points="426.8,55.9 423.3,55.2 422.9,57.4 426.3,58.3" fill="#9ac978" stroke="#9ac978"/><polygon points="446.0,28.1 442.7,27.3 441.8,29.9 445.0,30.8" fill="#d0252b" stroke="#d0252b"/><polygon points="398.6,70.2 395.0,68.6 393.6,70.3 397.2,71.8" fill="#4493d4" stroke="#4493d4"/><polygon points="431.4,46.9 428.1,46.2 427.6,49.8 431.0,50.5" fill="#eae533" stroke="#eae533"/><polygon points="440.9,32.8 437.6,31.9 437.1,33.5 440.4,34.4" fill="#d4322d" stroke="#d4322d"/><polygon points="460.3,21.4 456.8,20.7 455.7,22.8 459.1,23.5" fill="#9b2127" stroke="#9b2127"/><polygon points="435.9,38.8 432.6,37.8 432.3,39.9 435.5,40.7" fill="#e89c2e" stroke="#e89c2e"/><polygon points="469.8,18.8 466.2,18.3 465.0,20.0 468.6,20.5" fill="#781b20" stroke="#781b20"/><polygon points="465.0,20.0 461.4,19.5 460.3,21.4 463.8,22.0" fill="#891f24" stroke="#891f24"/><polygon points="426.3,58.3 422.9,57.4 422.4,59.2 425.9,60.2" fill="#87c498" stroke="#87c498"/><polygon points="431.0,50.5 427.6,49.8 427.2,53.1 430.6,53.8" fill="#d2dd44" stroke="#d2dd44"/><polygon points="422.0,60.6 418.5,59.7 417.1,63.3 420.6,64.4" fill="#6fbcd1" stroke="#6fbcd1"/><polygon points="450.3,26.5 446.9,25.7 446.0,28.1 449.3,29.0" fill="#cb2329" stroke="#cb2329"/><polygon points="440.4,34.4 437.1,33.5 436.7,35.2 440.0,36.1" fill="#d8432c" stroke="#d8432c"/><polygon points="435.5,40.7 432.3,39.9 431.9,42.6 435.2,43.4" fill="#eec22b" stroke="#eec22b"/><polygon points="417.1,63.3 413.5,62.3 412.1,66.8 415.6,68.1" fill="#5fb4e5" stroke="#5fb4e5"/><polygon points="445.0,30.8 441.8,29.9 441.3,31.3 444.6,32.2" fill="#d1272c" stroke="#d1272c"/><polygon points="412.1,66.8 408.6,65.6 407.2,70.0 410.7,71.6" fill="#4fa3df" stroke="#4fa3df"/><polygon points="425.9,60.2 422.4,59.2 422.0,60.6 425.5,61.7" fill="#7ac0b8" stroke="#7ac0b8"/><polygon points="430.6,53.8 427.2,53.1 426.8,55.9 430.2,56.9" fill="#b3d15d" stroke="#b3d15d"/><polygon points="435.2,43.4 431.9,42.6 431.5,45.8 434.8,46.6" fill="#f3de29" stroke="#f3de29"/><polygon points="440.0,36.1 436.7,35.2 436.3,36.9 439.5,37.9" fill="#de5f2b" stroke="#de5f2b"/><polygon points="454.6,25.0 451.3,24.2 450.3,26.5 453.6,27.4" fill="#c02228" stroke="#c02228"/><polygon points="407.2,70.0 403.6,68.6 402.2,71.7 405.7,73.3" fill="#4390d2" stroke="#4390d2"/><polygon points="444.6,32.2 441.3,31.3 440.9,32.8 444.1,33.8" fill="#d22b2d" stroke="#d22b2d"/><polygon points="402.2,71.7 398.6,70.2 397.2,71.8 400.8,73.4" fill="#3f86cc" stroke="#3f86cc"/><polygon points="430.2,56.9 426.8,55.9 426.3,58.3 429.8,59.5" fill="#97c87c" stroke="#97c87c"/><polygon points="434.8,46.6 431.5,45.8 431.2,49.1 434.5,49.9" fill="#efe72e" stroke="#efe72e"/><polygon points="459.1,23.5 455.7,22.8 454.6,25.0 458.0,25.8" fill="#af2228" stroke="#af2228"/><polygon points="439.5,37.9 436.3,36.9 435.9,38.8 439.1,39.8" fill="#e37f2c" stroke="#e37f2c"/><polygon points="449.3,29.0 446.0,28.1 445.0,30.8 448.3,31.8" fill="#d0252b" stroke="#d0252b"/><polygon points="473.4,19.4 469.8,18.8 468.6,20.5 472.2,21.0" fill="#771b20" stroke="#771b20"/><polygon points="463.8,22.0 460.3,21.4 459.1,23.5 462.6,24.1" fill="#9b2127" stroke="#9b2127"/><polygon points="468.6,20.5 465.0,20.0 463.8,22.0 467.4,22.4" fill="#881f24" stroke="#881f24"/><polygon points="444.1,33.8 440.9,32.8 440.4,34.4 443.6,35.4" fill="#d5342d" stroke="#d5342d"/><polygon points="434.5,49.9 431.2,49.1 430.8,52.2 434.2,53.1" fill="#dfe23b" stroke="#dfe23b"/><polygon points="429.8,59.5 426.3,58.3 425.9,60.2 429.4,61.5" fill="#83c3a2" stroke="#83c3a2"/><polygon points="425.5,61.7 422.0,60.6 420.6,64.4 424.1,65.7" fill="#6cbbd7" stroke="#6cbbd7"/><polygon points="439.1,39.8 435.9,38.8 435.5,40.7 438.7,41.6" fill="#e8a02e" stroke="#e8a02e"/><polygon points="420.6,64.4 417.1,63.3 415.6,68.1 419.2,69.6" fill="#5cb2e5" stroke="#5cb2e5"/><polygon points="453.6,27.4 450.3,26.5 449.3,29.0 452.5,30.1" fill="#cc2329" stroke="#cc2329"/><polygon points="434.2,53.1 430.8,52.2 430.4,55.1 433.8,56.2" fill="#c2d751" stroke="#c2d751"/><polygon points="415.6,68.1 412.1,66.8 410.7,71.6 414.2,73.2" fill="#4b9bda" stroke="#4b9bda"/><polygon points="443.6,35.4 440.4,34.4 440.0,36.1 443.1,37.2" fill="#d9472c" stroke="#d9472c"/><polygon points="438.7,41.6 435.5,40.7 435.2,43.4 438.4,44.3" fill="#efc42b" stroke="#efc42b"/><polygon points="429.4,61.5 425.9,60.2 425.5,61.7 429.0,63.0" fill="#75bfc6" stroke="#75bfc6"/><polygon points="397.2,71.8 393.6,70.3 390.8,73.9 394.4,75.2" fill="#3c7fc7" stroke="#3c7fc7"/><polygon points="410.7,71.6 407.2,70.0 405.7,73.3 409.3,74.9" fill="#3e84ca" stroke="#3e84ca"/><polygon points="448.3,31.8 445.0,30.8 444.6,32.2 447.8,33.3" fill="#d1282d" stroke="#d1282d"/><polygon points="433.8,56.2 430.4,55.1 430.1,57.7 433.5,59.0" fill="#a4cc6d" stroke="#a4cc6d"/><polygon points="405.7,73.3 402.2,71.7 400.8,73.4 404.3,74.9" fill="#3a7ac4" stroke="#3a7ac4"/><polygon points="458.0,25.8 454.6,25.0 453.6,27.4 456.8,28.4" fill="#c12228" stroke="#c12228"/><polygon points="438.4,44.3 435.2,43.4 434.8,46.6 438.1,47.4" fill="#f3df29" stroke="#f3df29"/><polygon points="443.1,37.2 440.0,36.1 439.5,37.9 442.7,39.0" fill="#df642b" stroke="#df642b"/><polygon points="477.0,19.9 473.4,19.4 472.2,21.0 475.8,21.5" fill="#771b20" stroke="#771b20"/><polygon points="462.6,24.1 459.1,23.5 458.0,25.8 461.4,26.5" fill="#b02228" stroke="#b02228"/><polygon points="472.2,21.0 468.6,20.5 467.4,22.4 471.0,22.9" fill="#871e23" stroke="#871e23"/><polygon points="447.8,33.3 444.6,32.2 444.1,33.8 447.3,34.9" fill="#d32d2d" stroke="#d32d2d"/><polygon points="433.5,59.0 430.1,57.7 429.7,59.9 433.1,61.4" fill="#8bc591" stroke="#8bc591"/><polygon points="467.4,22.4 463.8,22.0 462.6,24.1 466.2,24.5" fill="#9a2127" stroke="#9a2127"/><polygon points="438.1,47.4 434.8,46.6 434.5,49.9 437.8,50.8" fill="#eee62f" stroke="#eee62f"/><polygon points="442.7,39.0 439.5,37.9 439.1,39.8 442.2,40.9" fill="#e4852d" stroke="#e4852d"/><polygon points="429.0,63.0 425.5,61.7 424.1,65.7 427.6,67.3" fill="#68b9df" stroke="#68b9df"/><polygon points="452.5,30.1 449.3,29.0 448.3,31.8 451.4,33.0" fill="#d0252b" stroke="#d0252b"/><polygon points="433.1,61.4 429.7,59.9 429.3,61.7 432.8,63.3" fill="#7ac0ba" stroke="#7ac0ba"/><polygon points="437.8,50.8 434.5,49.9 434.2,53.1 437.5,54.2" fill="#dce13d" stroke="#dce13d"/><polygon points="424.1,65.7 420.6,64.4 419.2,69.6 422.7,71.2" fill="#58aee4" stroke="#58aee4"/><polygon points="447.3,34.9 444.1,33.8 443.6,35.4 446.8,36.6" fill="#d6372d" stroke="#d6372d"/><polygon points="419.2,69.6 415.6,68.1 414.2,73.2 417.8,75.0" fill="#4692d4" stroke="#4692d4"/><polygon points="400.8,73.4 397.2,71.8 394.4,75.2 397.9,76.6" fill="#3974c0" stroke="#3974c0"/><polygon points="442.2,40.9 439.1,39.8 438.8,41.4 441.9,42.4" fill="#e9a22e" stroke="#e9a22e"/><polygon points="437.5,54.2 434.2,53.1 433.8,56.2 437.2,57.6" fill="#bdd555" stroke="#bdd555"/><polygon points="432.8,63.3 429.3,61.7 429.0,63.0 432.4,64.7" fill="#6ebdd8" stroke="#6ebdd8"/><polygon points="414.2,73.2 410.7,71.6 409.3,74.9 412.8,76.4" fill="#3a78c3" stroke="#3a78c3"/><polygon points="456.8,28.4 453.6,27.4 452.5,30.1 455.7,31.1" fill="#cc2329" stroke="#cc2329"/><polygon points="409.3,74.9 405.7,73.3 404.3,74.9 407.9,76.3" fill="#376fbc" stroke="#376fbc"/><polygon points="441.9,42.4 438.8,41.4 438.5,43.8 441.7,44.6" fill="#eec12b" stroke="#eec12b"/><polygon points="446.8,36.6 443.6,35.4 443.1,37.2 446.3,38.4" fill="#da4d2b" stroke="#da4d2b"/><polygon points="437.2,57.6 433.8,56.2 433.5,59.0 436.9,60.7" fill="#9cca77" stroke="#9cca77"/><polygon points="480.7,20.5 477.0,19.9 475.8,21.5 479.5,22.0" fill="#771b20" stroke="#771b20"/><polygon points="451.4,33.0 448.3,31.8 447.8,33.3 450.9,34.6" fill="#d1292d" stroke="#d1292d"/><polygon points="461.4,26.5 458.0,25.8 456.8,28.4 460.2,29.1" fill="#c22228" stroke="#c22228"/><polygon points="475.8,21.5 472.2,21.0 471.0,22.9 474.6,23.3" fill="#861e23" stroke="#861e23"/><polygon points="441.7,44.6 438.5,43.8 438.2,46.6 441.4,47.4" fill="#f3dd29" stroke="#f3dd29"/><polygon points="471.0,22.9 467.4,22.4 466.2,24.5 469.8,24.9" fill="#992127" stroke="#992127"/><polygon points="466.2,24.5 462.6,24.1 461.4,26.5 465.0,26.8" fill="#af2228" stroke="#af2228"/><polygon points="436.9,60.7 433.5,59.0 433.1,61.4 436.5,63.4" fill="#82c2a5" stroke="#82c2a5"/><polygon points="441.4,47.4 438.2,46.6 437.9,49.5 441.2,50.6" fill="#f2e72c" stroke="#f2e72c"/><polygon points="446.3,38.4 443.1,37.2 442.7,39.0 445.7,40.2" fill="#e06c2b" stroke="#e06c2b"/><polygon points="432.4,64.7 429.0,63.0 427.6,67.3 431.0,69.1" fill="#62b7e4" stroke="#62b7e4"/><polygon points="450.9,34.6 447.8,33.3 447.3,34.9 450.3,36.2" fill="#d32f2d" stroke="#d32f2d"/><polygon points="436.5,63.4 433.1,61.4 432.8,63.3 436.2,65.4" fill="#71bdd0" stroke="#71bdd0"/><polygon points="427.6,67.3 424.1,65.7 422.7,71.2 426.2,73.0" fill="#53a8e0" stroke="#53a8e0"/><polygon points="441.2,50.6 437.9,49.5 437.6,52.7 440.9,54.0" fill="#e4e438" stroke="#e4e438"/><polygon points="404.3,74.9 400.8,73.4 397.9,76.6 401.5,78.0" fill="#366bba" stroke="#366bba"/><polygon points="422.7,71.2 419.2,69.6 417.8,75.0 421.3,76.8" fill="#4288cd" stroke="#4288cd"/><polygon points="455.7,31.1 452.5,30.1 451.4,33.0 454.5,34.2" fill="#d1262c" stroke="#d1262c"/><polygon points="445.7,40.2 442.7,39.0 442.2,40.9 445.2,42.0" fill="#e58b2e" stroke="#e58b2e"/><polygon points="417.8,75.0 414.2,73.2 412.8,76.4 416.3,77.9" fill="#376dbc" stroke="#376dbc"/><polygon points="440.9,54.0 437.6,52.7 437.3,55.8 440.7,57.4" fill="#c7d94d" stroke="#c7d94d"/><polygon points="436.2,65.4 432.8,63.3 432.4,64.7 435.9,66.8" fill="#68bae3" stroke="#68bae3"/><polygon points="412.8,76.4 409.3,74.9 407.9,76.3 411.4,77.8" fill="#3565b6" stroke="#3565b6"/><polygon points="450.3,36.2 447.3,34.9 446.8,36.6 449.8,38.0" fill="#d73d2c" stroke="#d73d2c"/><polygon points="484.3,21.0 480.7,20.5 479.5,22.0 483.1,22.5" fill="#761b20" stroke="#761b20"/><polygon points="394.4,75.2 390.8,73.9 388.0,77.4 391.5,78.6" fill="#3668b8" stroke="#3668b8"/><polygon points="440.7,57.4 437.3,55.8 437.1,58.8 440.4,60.7" fill="#a4cd6e" stroke="#a4cd6e"/><polygon points="479.5,22.0 475.8,21.5 474.6,23.3 478.2,23.8" fill="#851e23" stroke="#851e23"/><polygon points="445.2,42.0 442.2,40.9 441.9,42.4 445.0,43.2" fill="#e9a72e" stroke="#e9a72e"/><polygon points="460.2,29.1 456.8,28.4 455.7,31.1 459.0,31.9" fill="#cd232a" stroke="#cd232a"/><polygon points="474.6,23.3 471.0,22.9 469.8,24.9 473.4,25.3" fill="#972127" stroke="#972127"/><polygon points="469.8,24.9 466.2,24.5 465.0,26.8 468.6,27.1" fill="#ac2228" stroke="#ac2228"/><polygon points="465.0,26.8 461.4,26.5 460.2,29.1 463.8,29.4" fill="#c12228" stroke="#c12228"/><polygon points="440.4,60.7 437.1,58.8 436.8,61.5 440.2,63.7" fill="#87c49c" stroke="#87c49c"/><polygon points="445.0,43.2 441.9,42.4 441.7,44.6 444.8,45.4" fill="#eec32b" stroke="#eec32b"/><polygon points="449.8,38.0 446.8,36.6 446.3,38.4 449.3,39.8" fill="#dc562b" stroke="#dc562b"/><polygon points="444.8,45.4 441.7,44.6 441.4,47.4 444.6,48.3" fill="#f3dd29" stroke="#f3dd29"/><polygon points="454.5,34.2 451.4,33.0 450.9,34.6 454.0,35.8" fill="#d22a2d" stroke="#d22a2d"/><polygon points="440.2,63.7 436.8,61.5 436.5,63.8 439.9,66.2" fill="#72becc" stroke="#72becc"/><polygon points="435.9,66.8 432.4,64.7 431.0,69.1 434.5,71.3" fill="#5cb3e5" stroke="#5cb3e5"/><polygon points="444.6,48.3 441.4,47.4 441.2,50.6 444.4,51.7" fill="#f1e72d" stroke="#f1e72d"/><polygon points="431.0,69.1 427.6,67.3 426.2,73.0 429.6,74.8" fill="#4d9edb" stroke="#4d9edb"/><polygon points="407.9,76.3 404.3,74.9 401.5,78.0 405.1,79.3" fill="#3463b5" stroke="#3463b5"/><polygon points="439.9,66.2 436.5,63.8 436.2,65.6 439.7,68.1" fill="#66b9e3" stroke="#66b9e3"/><polygon points="426.2,73.0 422.7,71.2 421.3,76.8 424.8,78.7" fill="#3d7dc6" stroke="#3d7dc6"/><polygon points="449.3,39.8 446.3,38.4 445.7,40.2 448.7,41.4" fill="#e1752c" stroke="#e1752c"/><polygon points="444.4,51.7 441.2,50.6 440.9,54.0 444.2,55.4" fill="#e0e23b" stroke="#e0e23b"/><polygon points="421.3,76.8 417.8,75.0 416.3,77.9 419.9,79.4" fill="#3463b5" stroke="#3463b5"/><polygon points="454.0,35.8 450.9,34.6 450.3,36.2 453.4,37.5" fill="#d4332d" stroke="#d4332d"/><polygon points="439.7,68.1 436.2,65.6 435.9,66.8 439.4,69.2" fill="#60b6e7" stroke="#60b6e7"/><polygon points="416.3,77.9 412.8,76.4 411.4,77.8 414.9,79.3" fill="#335fb2" stroke="#335fb2"/><polygon points="487.9,21.6 484.3,21.0 483.1,22.5 486.7,23.1" fill="#761b1f" stroke="#761b1f"/><polygon points="397.9,76.6 394.4,75.2 391.5,78.6 395.1,79.9" fill="#3461b4" stroke="#3461b4"/><polygon points="444.2,55.4 440.9,54.0 440.7,57.4 444.0,59.1" fill="#bed655" stroke="#bed655"/><polygon points="483.1,22.5 479.5,22.0 478.2,23.8 481.9,24.2" fill="#841e23" stroke="#841e23"/><polygon points="459.0,31.9 455.7,31.1 454.5,34.2 457.8,34.9" fill="#d1262c" stroke="#d1262c"/><polygon points="478.2,23.8 474.6,23.3 473.4,25.3 477.0,25.7" fill="#962126" stroke="#962126"/><polygon points="473.4,25.3 469.8,24.9 468.6,27.1 472.2,27.4" fill="#aa2228" stroke="#aa2228"/><polygon points="468.6,27.1 465.0,26.8 463.8,29.4 467.4,29.5" fill="#bf2228" stroke="#bf2228"/><polygon points="463.8,29.4 460.2,29.1 459.0,31.9 462.5,32.1" fill="#cc2329" stroke="#cc2329"/><polygon points="444.0,59.1 440.7,57.4 440.4,60.7 443.8,62.7" fill="#98c97f" stroke="#98c97f"/><polygon points="448.7,41.4 445.7,40.2 445.2,42.0 448.2,43.1" fill="#e6922e" stroke="#e6922e"/><polygon points="453.4,37.5 450.3,36.2 449.8,38.0 452.8,39.3" fill="#d9452c" stroke="#d9452c"/><polygon points="443.8,62.7 440.4,60.7 440.2,63.7 443.6,65.9" fill="#7bc0b7" stroke="#7bc0b7"/><polygon points="448.2,43.1 445.2,42.0 445.1,43.1 448.1,44.0" fill="#eaa82f" stroke="#eaa82f"/><polygon points="443.6,65.9 440.2,63.7 439.9,66.2 443.4,68.6" fill="#68badf" stroke="#68badf"/><polygon points="439.4,69.2 435.9,66.8 434.5,71.3 438.0,73.6" fill="#55aae3" stroke="#55aae3"/><polygon points="448.1,44.0 445.1,43.1 444.9,45.0 447.9,45.8" fill="#eec02c" stroke="#eec02c"/><polygon points="411.4,77.8 407.9,76.3 405.1,79.3 408.6,80.6" fill="#335db1" stroke="#335db1"/><polygon points="434.5,71.3 431.0,69.1 429.6,74.8 433.1,76.8" fill="#4793d5" stroke="#4793d5"/><polygon points="443.4,68.6 439.9,66.2 439.7,68.1 443.2,70.6" fill="#5eb4e7" stroke="#5eb4e7"/><polygon points="447.9,45.8 444.9,45.0 444.7,47.5 447.8,48.4" fill="#f3db28" stroke="#f3db28"/><polygon points="457.8,34.9 454.5,34.2 454.0,35.8 457.2,36.6" fill="#d22c2d" stroke="#d22c2d"/><polygon points="429.6,74.8 426.2,73.0 424.8,78.7 428.2,80.5" fill="#3971be" stroke="#3971be"/><polygon points="452.8,39.3 449.8,38.0 449.3,39.8 452.2,40.9" fill="#de5f2b" stroke="#de5f2b"/><polygon points="447.8,48.4 444.7,47.5 444.5,50.5 447.7,51.5" fill="#f3e72b" stroke="#f3e72b"/><polygon points="424.8,78.7 421.3,76.8 419.9,79.4 423.4,80.9" fill="#335bb0" stroke="#335bb0"/><polygon points="491.5,22.1 487.9,21.6 486.7,23.1 490.3,23.6" fill="#761b1f" stroke="#761b1f"/><polygon points="443.2,70.6 439.7,68.1 439.4,69.2 443.0,71.6" fill="#58afe6" stroke="#58afe6"/><polygon points="486.7,23.1 483.1,22.5 481.9,24.2 485.5,24.7" fill="#841e23" stroke="#841e23"/><polygon points="401.5,78.0 397.9,76.6 395.1,79.9 398.7,81.1" fill="#335bb0" stroke="#335bb0"/><polygon points="419.9,79.4 416.3,77.9 414.9,79.3 418.4,80.7" fill="#3258ae" stroke="#3258ae"/><polygon points="481.9,24.2 478.2,23.8 477.0,25.7 480.7,26.1" fill="#942126" stroke="#942126"/><polygon points="447.7,51.5 444.5,50.5 444.3,53.8 447.6,55.0" fill="#e6e436" stroke="#e6e436"/><polygon points="477.0,25.7 473.4,25.3 472.2,27.4 475.8,27.7" fill="#a72228" stroke="#a72228"/><polygon points="472.2,27.4 468.6,27.1 467.4,29.5 471.0,29.8" fill="#bc2228" stroke="#bc2228"/><polygon points="447.6,55.0 444.3,53.8 444.1,57.2 447.5,58.7" fill="#c8d94c" stroke="#c8d94c"/><polygon points="467.4,29.5 463.8,29.4 462.5,32.1 466.2,32.2" fill="#cb2329" stroke="#cb2329"/><polygon points="462.5,32.1 459.0,31.9 457.8,34.9 461.3,35.0" fill="#d1262c" stroke="#d1262c"/><polygon points="457.2,36.6 454.0,35.8 453.4,37.5 456.6,38.2" fill="#d5352d" stroke="#d5352d"/><polygon points="447.5,58.7 444.1,57.2 444.0,60.6 447.3,62.3" fill="#a2cc71" stroke="#a2cc71"/><polygon points="452.2,40.9 449.3,39.8 448.7,41.4 451.7,42.5" fill="#e37c2c" stroke="#e37c2c"/><polygon points="391.5,78.6 388.0,77.4 385.1,80.2 388.7,81.3" fill="#3259af" stroke="#3259af"/><polygon points="447.3,62.3 444.0,60.6 443.8,63.8 447.2,65.7" fill="#80c2ac" stroke="#80c2ac"/><polygon points="447.2,65.7 443.8,63.8 443.6,66.7 447.1,68.8" fill="#6abbdb" stroke="#6abbdb"/><polygon points="443.0,71.6 439.4,69.2 438.0,73.6 441.6,75.7" fill="#4c9edc" stroke="#4c9edc"/><polygon points="447.1,68.8 443.6,66.7 443.4,69.0 447.0,71.3" fill="#5eb4e7" stroke="#5eb4e7"/><polygon points="414.9,79.3 411.4,77.8 408.6,80.6 412.1,82.0" fill="#3257ad" stroke="#3257ad"/><polygon points="456.6,38.2 453.4,37.5 452.8,39.3 456.0,39.9" fill="#d9482c" stroke="#d9482c"/><polygon points="451.7,42.5 448.7,41.4 448.2,43.1 451.1,44.1" fill="#e7962f" stroke="#e7962f"/><polygon points="438.0,73.6 434.5,71.3 433.1,76.8 436.6,78.8" fill="#4185cc" stroke="#4185cc"/><polygon points="447.0,71.3 443.4,69.0 443.2,70.7 446.8,73.0" fill="#55ace5" stroke="#55ace5"/><polygon points="433.1,76.8 429.6,74.8 428.2,80.5 431.7,82.3" fill="#3666b7" stroke="#3666b7"/><polygon points="495.2,22.6 491.5,22.1 490.3,23.6 494.0,24.1" fill="#761b1f" stroke="#761b1f"/><polygon points="490.3,23.6 486.7,23.1 485.5,24.7 489.1,25.2" fill="#831e23" stroke="#831e23"/><polygon points="446.8,73.0 443.2,70.7 443.0,71.6 446.7,73.8" fill="#4fa5e1" stroke="#4fa5e1"/><polygon points="461.3,35.0 457.8,34.9 457.2,36.6 460.7,36.6" fill="#d22a2d" stroke="#d22a2d"/><polygon points="428.2,80.5 424.8,78.7 423.4,80.9 426.8,82.2" fill="#3154ab" stroke="#3154ab"/><polygon points="485.5,24.7 481.9,24.2 480.7,26.1 484.3,26.5" fill="#932126" stroke="#932126"/><polygon points="405.1,79.3 401.5,78.0 398.7,81.1 402.3,82.3" fill="#3257ad" stroke="#3257ad"/><polygon points="451.1,44.1 448.2,43.1 448.1,43.9 451.0,44.8" fill="#e9a92f" stroke="#e9a92f"/><polygon points="480.7,26.1 477.0,25.7 475.8,27.7 479.4,28.1" fill="#a52228" stroke="#a52228"/><polygon points="423.4,80.9 419.9,79.4 418.4,80.7 422.0,82.1" fill="#3153ab" stroke="#3153ab"/><polygon points="475.8,27.7 472.2,27.4 471.0,29.8 474.6,30.0" fill="#ba2228" stroke="#ba2228"/><polygon points="451.0,44.8 448.1,43.9 448.0,45.5 451.0,46.4" fill="#ecbb2d" stroke="#ecbb2d"/><polygon points="471.0,29.8 467.4,29.5 466.2,32.2 469.8,32.3" fill="#ca2229" stroke="#ca2229"/><polygon points="451.0,46.4 448.0,45.5 447.8,47.8 450.9,48.7" fill="#efd22a" stroke="#efd22a"/><polygon points="466.2,32.2 462.5,32.1 461.3,35.0 464.9,35.0" fill="#d0252b" stroke="#d0252b"/><polygon points="450.9,48.7 447.8,47.8 447.7,50.5 450.9,51.6" fill="#eede2c" stroke="#eede2c"/><polygon points="456.0,39.9 452.8,39.3 452.2,40.9 455.4,41.5" fill="#de622b" stroke="#de622b"/><polygon points="450.9,51.6 447.7,50.5 447.6,53.7 450.8,54.9" fill="#e4dd37" stroke="#e4dd37"/><polygon points="395.1,79.9 391.5,78.6 388.7,81.3 392.3,82.4" fill="#3255ac" stroke="#3255ac"/><polygon points="450.8,54.9 447.6,53.7 447.5,57.0 450.8,58.4" fill="#ccd449" stroke="#ccd449"/><polygon points="460.7,36.6 457.2,36.6 456.6,38.2 460.1,38.2" fill="#d4322d" stroke="#d4322d"/><polygon points="450.8,58.4 447.5,57.0 447.4,60.4 450.7,62.0" fill="#a8c968" stroke="#a8c968"/><polygon points="450.7,62.0 447.4,60.4 447.3,63.7 450.7,65.5" fill="#86bf9b" stroke="#86bf9b"/><polygon points="446.7,73.8 443.0,71.6 441.6,75.7 445.3,77.5" fill="#4490d3" stroke="#4490d3"/><polygon points="450.7,65.5 447.3,63.7 447.2,66.7 450.6,68.8" fill="#6eb8cd" stroke="#6eb8cd"/><polygon points="450.6,68.8 447.2,66.7 447.1,69.4 450.6,71.6" fill="#5eb2e2" stroke="#5eb2e2"/><polygon points="450.6,71.6 447.1,69.4 446.9,71.6 450.5,73.9" fill="#53a9e1" stroke="#53a9e1"/><polygon points="455.4,41.5 452.2,40.9 451.7,42.5 454.8,43.0" fill="#e37c2c" stroke="#e37c2c"/><polygon points="418.4,80.7 414.9,79.3 412.1,82.0 415.6,83.2" fill="#3153aa" stroke="#3153aa"/><polygon points="450.5,73.9 446.9,71.6 446.8,73.1 450.5,75.4" fill="#4a9edb" stroke="#4a9edb"/><polygon points="441.6,75.7 438.0,73.6 436.6,78.8 440.2,80.4" fill="#3b77c2" stroke="#3b77c2"/><polygon points="498.8,23.2 495.2,22.6 494.0,24.1 497.6,24.6" fill="#761b1f" stroke="#761b1f"/><polygon points="450.5,75.4 446.8,73.1 446.7,73.8 450.4,76.0" fill="#4594d5" stroke="#4594d5"/><polygon points="494.0,24.1 490.3,23.6 489.1,25.2 492.7,25.7" fill="#831e23" stroke="#831e23"/><polygon points="460.1,38.2 456.6,38.2 456.0,39.9 459.5,39.7" fill="#d8422c" stroke="#d8422c"/><polygon points="436.6,78.8 433.1,76.8 431.7,82.3 435.2,83.7" fill="#335bb0" stroke="#335bb0"/><polygon points="464.9,35.0 461.3,35.0 460.7,36.6 464.3,36.5" fill="#d1282d" stroke="#d1282d"/><polygon points="489.1,25.2 485.5,24.7 484.3,26.5 487.9,27.0" fill="#922026" stroke="#922026"/><polygon points="484.3,26.5 480.7,26.1 479.4,28.1 483.1,28.5" fill="#a42228" stroke="#a42228"/><polygon points="408.6,80.6 405.1,79.3 402.3,82.3 405.8,83.5" fill="#3153aa" stroke="#3153aa"/><polygon points="431.7,82.3 428.2,80.5 426.8,82.2 430.3,83.5" fill="#314fa8" stroke="#314fa8"/><polygon points="479.4,28.1 475.8,27.7 474.6,30.0 478.2,30.3" fill="#b82228" stroke="#b82228"/><polygon points="474.6,30.0 471.0,29.8 469.8,32.3 473.4,32.4" fill="#c92229" stroke="#c92229"/><polygon points="426.8,82.2 423.4,80.9 422.0,82.1 425.5,83.4" fill="#314fa8" stroke="#314fa8"/><polygon points="469.8,32.3 466.2,32.2 464.9,35.0 468.6,35.0" fill="#d0242b" stroke="#d0242b"/><polygon points="454.8,43.0 451.7,42.5 451.1,44.1 454.2,44.6" fill="#e7962f" stroke="#e7962f"/><polygon points="398.7,81.1 395.1,79.9 392.3,82.4 395.9,83.5" fill="#3152aa" stroke="#3152aa"/><polygon points="459.5,39.7 456.0,39.9 455.4,41.5 458.9,41.3" fill="#dc582b" stroke="#dc582b"/><polygon points="464.3,36.5 460.7,36.6 460.1,38.2 463.7,38.0" fill="#d32e2d" stroke="#d32e2d"/><polygon points="450.4,76.0 446.7,73.8 445.3,77.5 449.0,79.3" fill="#3d7fc7" stroke="#3d7fc7"/><polygon points="454.2,44.6 451.1,44.1 451.1,44.7 454.2,45.1" fill="#e8a430" stroke="#e8a430"/><polygon points="454.2,45.1 451.1,44.7 451.0,46.1 454.2,46.5" fill="#e9ae31" stroke="#e9ae31"/><polygon points="454.2,46.5 451.0,46.1 451.0,48.1 454.2,48.6" fill="#e8be2f" stroke="#e8be2f"/><polygon points="454.2,48.6 451.0,48.1 450.9,50.7 454.2,51.3" fill="#e4c830" stroke="#e4c830"/><polygon points="454.2,51.3 450.9,50.7 450.9,53.6 454.2,54.5" fill="#dbc939" stroke="#dbc939"/><polygon points="454.2,54.5 450.9,53.6 450.8,56.9 454.2,57.9" fill="#c8c348" stroke="#c8c348"/><polygon points="454.2,57.9 450.8,56.9 450.8,60.2 454.2,61.5" fill="#abba60" stroke="#abba60"/><polygon points="454.2,61.5 450.8,60.2 450.7,63.5 454.1,65.1" fill="#8bb186" stroke="#8bb186"/><polygon points="454.1,65.1 450.7,63.5 450.7,66.7 454.1,68.5" fill="#71abb5" stroke="#71abb5"/><polygon points="454.1,68.5 450.7,66.7 450.6,69.7 454.1,71.7" fill="#5fa7d0" stroke="#5fa7d0"/><polygon points="454.1,71.7 450.6,69.7 450.6,72.2 454.1,74.4" fill="#52a0d4" stroke="#52a0d4"/><polygon points="388.7,81.3 385.1,80.2 382.3,82.8 385.9,83.8" fill="#3151a9" stroke="#3151a9"/><polygon points="445.3,77.5 441.6,75.7 440.2,80.4 443.9,81.8" fill="#376bba" stroke="#376bba"/><polygon points="454.1,74.4 450.6,72.2 450.5,74.2 454.1,76.5" fill="#4794d0" stroke="#4794d0"/><polygon points="454.1,76.5 450.5,74.2 450.5,75.5 454.1,77.9" fill="#4086c9" stroke="#4086c9"/><polygon points="454.1,77.9 450.5,75.5 450.4,76.0 454.1,78.4" fill="#3c7dc5" stroke="#3c7dc5"/><polygon points="502.4,23.7 498.8,23.2 497.6,24.6 501.2,25.2" fill="#761b1f" stroke="#761b1f"/><polygon points="422.0,82.1 418.4,80.7 415.6,83.2 419.2,84.5" fill="#314fa7" stroke="#314fa7"/><polygon points="497.6,24.6 494.0,24.1 492.7,25.7 496.4,26.2" fill="#831e22" stroke="#831e22"/><polygon points="492.7,25.7 489.1,25.2 487.9,27.0 491.5,27.4" fill="#912026" stroke="#912026"/><polygon points="468.6,35.0 464.9,35.0 464.3,36.5 468.0,36.4" fill="#d1272c" stroke="#d1272c"/><polygon points="458.9,41.3 455.4,41.5 454.8,43.0 458.3,42.8" fill="#e1712b" stroke="#e1712b"/><polygon points="463.7,38.0 460.1,38.2 459.5,39.7 463.1,39.5" fill="#d6382d" stroke="#d6382d"/><polygon points="440.2,80.4 436.6,78.8 435.2,83.7 438.9,84.9" fill="#3254ab" stroke="#3254ab"/><polygon points="487.9,27.0 484.3,26.5 483.1,28.5 486.7,28.9" fill="#a22228" stroke="#a22228"/><polygon points="483.1,28.5 479.4,28.1 478.2,30.3 481.9,30.6" fill="#b52228" stroke="#b52228"/><polygon points="478.2,30.3 474.6,30.0 473.4,32.4 477.0,32.6" fill="#c72228" stroke="#c72228"/><polygon points="412.1,82.0 408.6,80.6 405.8,83.5 409.3,84.6" fill="#314fa8" stroke="#314fa8"/><polygon points="435.2,83.7 431.7,82.3 430.3,83.5 433.9,84.8" fill="#304ba4" stroke="#304ba4"/><polygon points="473.4,32.4 469.8,32.3 468.6,35.0 472.2,35.1" fill="#cf242a" stroke="#cf242a"/><polygon points="430.3,83.5 426.8,82.2 425.5,83.4 428.9,84.6" fill="#304ca5" stroke="#304ca5"/><polygon points="402.3,82.3 398.7,81.1 395.9,83.5 399.4,84.6" fill="#314fa8" stroke="#314fa8"/><polygon points="454.1,78.4 450.4,76.0 449.0,79.3 452.7,81.3" fill="#376ebc" stroke="#376ebc"/><polygon points="468.0,36.4 464.3,36.5 463.7,38.0 467.4,37.9" fill="#d22a2d" stroke="#d22a2d"/><polygon points="458.3,42.8 454.8,43.0 454.2,44.6 457.7,44.3" fill="#e58a2e" stroke="#e58a2e"/><polygon points="463.1,39.5 459.5,39.7 458.9,41.3 462.5,40.9" fill="#da492c" stroke="#da492c"/><polygon points="449.0,79.3 445.3,77.5 443.9,81.8 447.6,83.2" fill="#3461b3" stroke="#3461b3"/><polygon points="457.7,44.3 454.2,44.6 454.2,45.1 457.7,44.7" fill="#e69630" stroke="#e69630"/><polygon points="457.7,44.7 454.2,45.1 454.2,46.3 457.7,46.1" fill="#e59833" stroke="#e59833"/><polygon points="392.3,82.4 388.7,81.3 385.9,83.8 389.5,84.8" fill="#314fa8" stroke="#314fa8"/><polygon points="457.7,46.1 454.2,46.3 454.2,48.2 457.7,48.1" fill="#dfa033" stroke="#dfa033"/><polygon points="457.7,48.1 454.2,48.2 454.2,50.6 457.7,50.7" fill="#d9a833" stroke="#d9a833"/><polygon points="457.7,50.7 454.2,50.6 454.2,53.4 457.7,53.8" fill="#cfa93a" stroke="#cfa93a"/><polygon points="457.7,53.8 454.2,53.4 454.2,56.5 457.7,57.2" fill="#c0a546" stroke="#c0a546"/><polygon points="457.7,57.2 454.2,56.5 454.2,59.8 457.7,60.8" fill="#a99e57" stroke="#a99e57"/><polygon points="457.7,60.8 454.2,59.8 454.2,63.2 457.7,64.4" fill="#8e9871" stroke="#8e9871"/><polygon points="457.7,64.4 454.2,63.2 454.1,66.5 457.7,68.0" fill="#759395" stroke="#759395"/><polygon points="457.7,68.0 454.1,66.5 454.1,69.6 457.6,71.4" fill="#6290b1" stroke="#6290b1"/><polygon points="457.6,71.4 454.1,69.6 454.1,72.4 457.6,74.4" fill="#548dbb" stroke="#548dbb"/><polygon points="506.0,24.3 502.4,23.7 501.2,25.2 504.8,25.7" fill="#761b1f" stroke="#761b1f"/><polygon points="457.6,74.4 454.1,72.4 454.1,74.9 457.6,77.0" fill="#4585bf" stroke="#4585bf"/><polygon points="457.6,77.0 454.1,74.9 454.1,76.7 457.6,79.1" fill="#3d79bb" stroke="#3d79bb"/><polygon points="457.6,79.1 454.1,76.7 454.1,77.9 457.6,80.4" fill="#396fb8" stroke="#396fb8"/><polygon points="457.6,80.4 454.1,77.9 454.1,78.4 457.6,80.9" fill="#3669b7" stroke="#3669b7"/><polygon points="501.2,25.2 497.6,24.6 496.4,26.2 500.0,26.7" fill="#821d22" stroke="#821d22"/><polygon points="496.4,26.2 492.7,25.7 491.5,27.4 495.2,27.9" fill="#912026" stroke="#912026"/><polygon points="472.2,35.1 468.6,35.0 468.0,36.4 471.6,36.4" fill="#d1262c" stroke="#d1262c"/><polygon points="425.5,83.4 422.0,82.1 419.2,84.5 422.7,85.7" fill="#304ca5" stroke="#304ca5"/><polygon points="443.9,81.8 440.2,80.4 438.9,84.9 442.5,86.1" fill="#314fa7" stroke="#314fa7"/><polygon points="491.5,27.4 487.9,27.0 486.7,28.9 490.3,29.3" fill="#a12228" stroke="#a12228"/><polygon points="467.4,37.9 463.7,38.0 463.1,39.5 466.7,39.3" fill="#d4312d" stroke="#d4312d"/><polygon points="462.5,40.9 458.9,41.3 458.3,42.8 461.9,42.4" fill="#de5f2b" stroke="#de5f2b"/><polygon points="486.7,28.9 483.1,28.5 481.9,30.6 485.5,30.9" fill="#b32228" stroke="#b32228"/><polygon points="481.9,30.6 478.2,30.3 477.0,32.6 480.6,32.8" fill="#c52228" stroke="#c52228"/><polygon points="477.0,32.6 473.4,32.4 472.2,35.1 475.8,35.2" fill="#ce232a" stroke="#ce232a"/><polygon points="415.6,83.2 412.1,82.0 409.3,84.6 412.8,85.8" fill="#304ca5" stroke="#304ca5"/><polygon points="438.9,84.9 435.2,83.7 433.9,84.8 437.5,85.9" fill="#3048a2" stroke="#3048a2"/><polygon points="433.9,84.8 430.3,83.5 428.9,84.6 432.5,85.8" fill="#3049a3" stroke="#3049a3"/><polygon points="457.6,80.9 454.1,78.4 452.7,81.3 456.2,83.5" fill="#345fb2" stroke="#345fb2"/><polygon points="471.6,36.4 468.0,36.4 467.4,37.9 471.0,37.9" fill="#d1282d" stroke="#d1282d"/><polygon points="405.8,83.5 402.3,82.3 399.4,84.6 403.0,85.7" fill="#304ca6" stroke="#304ca6"/><polygon points="466.7,39.3 463.1,39.5 462.5,40.9 466.1,40.7" fill="#d73d2c" stroke="#d73d2c"/><polygon points="461.9,42.4 458.3,42.8 457.7,44.3 461.3,43.8" fill="#e2772c" stroke="#e2772c"/><polygon points="452.7,81.3 449.0,79.3 447.6,83.2 451.3,84.7" fill="#3258ae" stroke="#3258ae"/><polygon points="395.9,83.5 392.3,82.4 389.5,84.8 393.1,85.8" fill="#304da6" stroke="#304da6"/><polygon points="509.7,24.8 506.0,24.3 504.8,25.7 508.5,26.2" fill="#761b1f" stroke="#761b1f"/><polygon points="461.3,43.8 457.7,44.3 457.7,44.7 461.3,44.2" fill="#e2812f" stroke="#e2812f"/><polygon points="461.3,44.2 457.7,44.7 457.7,45.9 461.3,45.5" fill="#e07d33" stroke="#e07d33"/><polygon points="461.3,45.5 457.7,45.9 457.7,47.7 461.3,47.4" fill="#d77f34" stroke="#d77f34"/><polygon points="461.3,47.4 457.7,47.7 457.7,50.0 461.3,49.9" fill="#cd8135" stroke="#cd8135"/><polygon points="461.3,49.9 457.7,50.0 457.7,52.8 461.3,52.9" fill="#c2813a" stroke="#c2813a"/><polygon points="461.3,52.9 457.7,52.8 457.7,55.9 461.3,56.2" fill="#b57e44" stroke="#b57e44"/><polygon points="461.3,56.2 457.7,55.9 457.7,59.2 461.3,59.8" fill="#a47a50" stroke="#a47a50"/><polygon points="461.3,59.8 457.7,59.2 457.7,62.6 461.3,63.4" fill="#8f7661" stroke="#8f7661"/><polygon points="461.3,63.4 457.7,62.6 457.7,66.0 461.3,67.1" fill="#7a7478" stroke="#7a7478"/><polygon points="461.3,67.1 457.7,66.0 457.7,69.3 461.3,70.6" fill="#67728e" stroke="#67728e"/><polygon points="461.3,70.6 457.7,69.3 457.6,72.4 461.3,73.9" fill="#58729d" stroke="#58729d"/><polygon points="461.3,73.9 457.6,72.4 457.6,75.1 461.3,76.9" fill="#4a70a6" stroke="#4a70a6"/><polygon points="461.3,76.9 457.6,75.1 457.6,77.5 461.3,79.4" fill="#3d6cad" stroke="#3d6cad"/><polygon points="504.8,25.7 501.2,25.2 500.0,26.7 503.6,27.2" fill="#821d22" stroke="#821d22"/><polygon points="461.3,79.4 457.6,77.5 457.6,79.3 461.3,81.4" fill="#3964ac" stroke="#3964ac"/><polygon points="461.3,81.4 457.6,79.3 457.6,80.4 461.2,82.6" fill="#365fac" stroke="#365fac"/><polygon points="461.2,82.6 457.6,80.4 457.6,80.9 461.2,83.0" fill="#335bae" stroke="#335bae"/><polygon points="447.6,83.2 443.9,81.8 442.5,86.1 446.2,87.0" fill="#304ba5" stroke="#304ba5"/><polygon points="500.0,26.7 496.4,26.2 495.2,27.9 498.8,28.4" fill="#902026" stroke="#902026"/><polygon points="475.8,35.2 472.2,35.1 471.6,36.4 475.2,36.5" fill="#d0262b" stroke="#d0262b"/><polygon points="495.2,27.9 491.5,27.4 490.3,29.3 493.9,29.7" fill="#a02228" stroke="#a02228"/><polygon points="471.0,37.9 467.4,37.9 466.7,39.3 470.4,39.2" fill="#d32d2d" stroke="#d32d2d"/><polygon points="466.1,40.7 462.5,40.9 461.9,42.4 465.5,42.1" fill="#db4e2b" stroke="#db4e2b"/><polygon points="490.3,29.3 486.7,28.9 485.5,30.9 489.1,31.3" fill="#b12228" stroke="#b12228"/><polygon points="428.9,84.6 425.5,83.4 422.7,85.7 426.2,86.8" fill="#3049a3" stroke="#3049a3"/><polygon points="485.5,30.9 481.9,30.6 480.6,32.8 484.3,33.1" fill="#c22228" stroke="#c22228"/><polygon points="480.6,32.8 477.0,32.6 475.8,35.2 479.4,35.3" fill="#cd2329" stroke="#cd2329"/><polygon points="442.5,86.1 438.9,84.9 437.5,85.9 441.1,87.0" fill="#3045a0" stroke="#3045a0"/><polygon points="385.9,83.8 382.3,82.8 379.5,85.3 383.1,86.2" fill="#304ca5" stroke="#304ca5"/><polygon points="419.2,84.5 415.6,83.2 412.8,85.8 416.4,86.9" fill="#3049a3" stroke="#3049a3"/><polygon points="437.5,85.9 433.9,84.8 432.5,85.8 436.1,86.9" fill="#3046a1" stroke="#3046a1"/><polygon points="475.2,36.5 471.6,36.4 471.0,37.9 474.6,37.9" fill="#d1272c" stroke="#d1272c"/><polygon points="461.2,83.0 457.6,80.9 456.2,83.5 459.9,85.4" fill="#3154ab" stroke="#3154ab"/><polygon points="470.4,39.2 466.7,39.3 466.1,40.7 469.8,40.6" fill="#d5352d" stroke="#d5352d"/><polygon points="409.3,84.6 405.8,83.5 403.0,85.7 406.5,86.7" fill="#304aa4" stroke="#304aa4"/><polygon points="465.5,42.1 461.9,42.4 461.3,43.8 464.9,43.5" fill="#df652b" stroke="#df652b"/><polygon points="456.2,83.5 452.7,81.3 451.3,84.7 454.8,86.5" fill="#3150a8" stroke="#3150a8"/><polygon points="513.3,25.3 509.7,24.8 508.5,26.2 512.1,26.8" fill="#761b1f" stroke="#761b1f"/><polygon points="464.9,43.5 461.3,43.8 461.3,44.2 464.9,43.9" fill="#df6d2d" stroke="#df6d2d"/><polygon points="464.9,43.9 461.3,44.2 461.3,45.3 464.9,45.1" fill="#dc6731" stroke="#dc6731"/><polygon points="464.9,45.1 461.3,45.3 461.3,47.0 464.9,46.9" fill="#d26433" stroke="#d26433"/><polygon points="464.9,46.9 461.3,47.0 461.3,49.3 464.9,49.3" fill="#c76234" stroke="#c76234"/><polygon points="464.9,49.3 461.3,49.3 461.3,52.0 464.9,52.2" fill="#bb6037" stroke="#bb6037"/><polygon points="451.3,84.7 447.6,83.2 446.2,87.0 449.9,88.0" fill="#3048a2" stroke="#3048a2"/><polygon points="464.9,52.2 461.3,52.0 461.3,55.0 464.9,55.4" fill="#ad5d40" stroke="#ad5d40"/><polygon points="464.9,55.4 461.3,55.0 461.3,58.3 464.9,58.9" fill="#9f5a4a" stroke="#9f5a4a"/><polygon points="399.4,84.6 395.9,83.5 393.1,85.8 396.6,86.7" fill="#304ba4" stroke="#304ba4"/><polygon points="464.9,58.9 461.3,58.3 461.3,61.7 464.9,62.5" fill="#905856" stroke="#905856"/><polygon points="464.9,62.5 461.3,61.7 461.3,65.2 464.9,66.2" fill="#7f5865" stroke="#7f5865"/><polygon points="464.9,66.2 461.3,65.2 461.3,68.6 464.9,69.8" fill="#6e5874" stroke="#6e5874"/><polygon points="464.9,69.8 461.3,68.6 461.3,71.8 464.9,73.3" fill="#5e5882" stroke="#5e5882"/><polygon points="464.9,73.3 461.3,71.8 461.3,74.9 464.9,76.5" fill="#51598e" stroke="#51598e"/><polygon points="508.5,26.2 504.8,25.7 503.6,27.2 507.2,27.8" fill="#821d22" stroke="#821d22"/><polygon points="464.9,76.5 461.3,74.9 461.3,77.5 464.9,79.3" fill="#445a99" stroke="#445a99"/><polygon points="464.9,79.3 461.3,77.5 461.3,79.8 464.9,81.8" fill="#3a5aa2" stroke="#3a5aa2"/><polygon points="464.9,81.8 461.3,79.8 461.3,81.5 464.9,83.6" fill="#3757a3" stroke="#3757a3"/><polygon points="464.9,83.6 461.3,81.5 461.2,82.7 464.9,84.8" fill="#3554a5" stroke="#3554a5"/><polygon points="464.9,84.8 461.2,82.7 461.2,83.0 464.9,85.2" fill="#3251a7" stroke="#3251a7"/><polygon points="503.6,27.2 500.0,26.7 498.8,28.4 502.4,28.9" fill="#8f2025" stroke="#8f2025"/><polygon points="479.4,35.3 475.8,35.2 475.2,36.5 478.8,36.6" fill="#d0252b" stroke="#d0252b"/><polygon points="498.8,28.4 495.2,27.9 493.9,29.7 497.6,30.1" fill="#9e2228" stroke="#9e2228"/><polygon points="474.6,37.9 471.0,37.9 470.4,39.2 474.0,39.2" fill="#d22a2d" stroke="#d22a2d"/><polygon points="493.9,29.7 490.3,29.3 489.1,31.3 492.7,31.6" fill="#af2228" stroke="#af2228"/><polygon points="469.8,40.6 466.1,40.7 465.5,42.1 469.2,41.9" fill="#d8422c" stroke="#d8422c"/><polygon points="489.1,31.3 485.5,30.9 484.3,33.1 487.9,33.4" fill="#c02228" stroke="#c02228"/><polygon points="446.2,87.0 442.5,86.1 441.1,87.0 444.8,88.0" fill="#2f439e" stroke="#2f439e"/><polygon points="484.3,33.1 480.6,32.8 479.4,35.3 483.1,35.5" fill="#cc2329" stroke="#cc2329"/><polygon points="432.5,85.8 428.9,84.6 426.2,86.8 429.7,87.9" fill="#3046a1" stroke="#3046a1"/><polygon points="389.5,84.8 385.9,83.8 383.1,86.2 386.7,87.1" fill="#304aa4" stroke="#304aa4"/><polygon points="422.7,85.7 419.2,84.5 416.4,86.9 419.9,87.9" fill="#3047a1" stroke="#3047a1"/><polygon points="441.1,87.0 437.5,85.9 436.1,86.9 439.8,88.0" fill="#2f449f" stroke="#2f449f"/><polygon points="478.8,36.6 475.2,36.5 474.6,37.9 478.2,38.0" fill="#d1272c" stroke="#d1272c"/><polygon points="464.9,85.2 461.2,83.0 459.9,85.4 463.5,87.3" fill="#304ca5" stroke="#304ca5"/><polygon points="474.0,39.2 470.4,39.2 469.8,40.6 473.4,40.5" fill="#d4302d" stroke="#d4302d"/><polygon points="469.2,41.9 465.5,42.1 464.9,43.5 468.5,43.2" fill="#dc552b" stroke="#dc552b"/><polygon points="412.8,85.8 409.3,84.6 406.5,86.7 410.0,87.8" fill="#3048a2" stroke="#3048a2"/><polygon points="459.9,85.4 456.2,83.5 454.8,86.5 458.5,88.1" fill="#3049a3" stroke="#3049a3"/><polygon points="516.9,25.9 513.3,25.3 512.1,26.8 515.7,27.3" fill="#761b1f" stroke="#761b1f"/><polygon points="468.5,43.2 464.9,43.5 464.9,43.8 468.5,43.6" fill="#dc5d2c" stroke="#dc5d2c"/><polygon points="468.5,43.6 464.9,43.8 464.9,44.9 468.5,44.8" fill="#d95730" stroke="#d95730"/><polygon points="468.5,44.8 464.9,44.9 464.9,46.6 468.5,46.5" fill="#d15431" stroke="#d15431"/><polygon points="468.5,46.5 464.9,46.6 464.9,48.7 468.5,48.8" fill="#c65232" stroke="#c65232"/><polygon points="468.5,48.8 464.9,48.7 464.9,51.3 468.5,51.6" fill="#bb4f33" stroke="#bb4f33"/><polygon points="468.5,51.6 464.9,51.3 464.9,54.3 468.5,54.7" fill="#ad4d3c" stroke="#ad4d3c"/><polygon points="468.5,54.7 464.9,54.3 464.9,57.5 468.5,58.1" fill="#a04b45" stroke="#a04b45"/><polygon points="468.5,58.1 464.9,57.5 464.9,60.9 468.5,61.6" fill="#93484d" stroke="#93484d"/><polygon points="468.5,61.6 464.9,60.9 464.9,64.3 468.5,65.3" fill="#84495a" stroke="#84495a"/><polygon points="468.5,65.3 464.9,64.3 464.9,67.8 468.5,68.9" fill="#744a68" stroke="#744a68"/><polygon points="454.8,86.5 451.3,84.7 449.9,88.0 453.4,89.4" fill="#2f449f" stroke="#2f449f"/><polygon points="468.5,68.9 464.9,67.8 464.9,71.2 468.5,72.5" fill="#654a75" stroke="#654a75"/><polygon points="512.1,26.8 508.5,26.2 507.2,27.8 510.9,28.3" fill="#821d22" stroke="#821d22"/><polygon points="468.5,72.5 464.9,71.2 464.9,74.4 468.5,75.8" fill="#584c81" stroke="#584c81"/><polygon points="468.5,75.8 464.9,74.4 464.9,77.3 468.5,79.0" fill="#4c4e8b" stroke="#4c4e8b"/><polygon points="468.5,79.0 464.9,77.3 464.9,79.9 468.5,81.7" fill="#405096" stroke="#405096"/><polygon points="468.5,81.7 464.9,79.9 464.9,82.1 468.5,84.0" fill="#38509d" stroke="#38509d"/><polygon points="468.5,84.0 464.9,82.1 464.9,83.8 468.5,85.7" fill="#364e9e" stroke="#364e9e"/><polygon points="468.5,85.7 464.9,83.8 464.9,84.8 468.5,86.9" fill="#334ba0" stroke="#334ba0"/><polygon points="468.5,86.9 464.9,84.8 464.9,85.2 468.5,87.3" fill="#3149a2" stroke="#3149a2"/><polygon points="403.0,85.7 399.4,84.6 396.6,86.7 400.2,87.7" fill="#3048a3" stroke="#3048a3"/><polygon points="507.2,27.8 503.6,27.2 502.4,28.9 506.0,29.4" fill="#8f2025" stroke="#8f2025"/><polygon points="483.1,35.5 479.4,35.3 478.8,36.6 482.4,36.8" fill="#d0242a" stroke="#d0242a"/><polygon points="502.4,28.9 498.8,28.4 497.6,30.1 501.2,30.6" fill="#9e2228" stroke="#9e2228"/><polygon points="478.2,38.0 474.6,37.9 474.0,39.2 477.6,39.2" fill="#d1282d" stroke="#d1282d"/><polygon points="497.6,30.1 493.9,29.7 492.7,31.6 496.4,32.0" fill="#ae2228" stroke="#ae2228"/><polygon points="473.4,40.5 469.8,40.6 469.2,41.9 472.8,41.8" fill="#d6392d" stroke="#d6392d"/><polygon points="449.9,88.0 446.2,87.0 444.8,88.0 448.5,89.1" fill="#2f419c" stroke="#2f419c"/><polygon points="492.7,31.6 489.1,31.3 487.9,33.4 491.5,33.7" fill="#be2228" stroke="#be2228"/><polygon points="487.9,33.4 484.3,33.1 483.1,35.5 486.7,35.7" fill="#cb2229" stroke="#cb2229"/><polygon points="436.1,86.9 432.5,85.8 429.7,87.9 433.3,88.9" fill="#2f449f" stroke="#2f449f"/><polygon points="393.1,85.8 389.5,84.8 386.7,87.1 390.2,88.0" fill="#3048a2" stroke="#3048a2"/><polygon points="444.8,88.0 441.1,87.0 439.8,88.0 443.5,89.0" fill="#2f419d" stroke="#2f419d"/><polygon points="482.4,36.8 478.8,36.6 478.2,38.0 481.8,38.1" fill="#d0262b" stroke="#d0262b"/><polygon points="426.2,86.8 422.7,85.7 419.9,87.9 423.4,89.0" fill="#3045a0" stroke="#3045a0"/><polygon points="468.5,87.3 464.9,85.2 463.5,87.3 467.1,89.2" fill="#3045a0" stroke="#3045a0"/><polygon points="477.6,39.2 474.0,39.2 473.4,40.5 477.0,40.5" fill="#d32c2e" stroke="#d32c2e"/><polygon points="472.8,41.8 469.2,41.9 468.5,43.2 472.2,43.1" fill="#d9472c" stroke="#d9472c"/><polygon points="463.5,87.3 459.9,85.4 458.5,88.1 462.1,89.7" fill="#2f449f" stroke="#2f449f"/><polygon points="416.4,86.9 412.8,85.8 410.0,87.8 413.6,88.8" fill="#3045a0" stroke="#3045a0"/><polygon points="520.5,26.4 516.9,25.9 515.7,27.3 519.3,27.9" fill="#761b1f" stroke="#761b1f"/><polygon points="472.2,43.1 468.5,43.2 468.5,43.6 472.2,43.5" fill="#da4e2d" stroke="#da4e2d"/><polygon points="472.2,43.5 468.5,43.6 468.5,44.6 472.2,44.5" fill="#d74930" stroke="#d74930"/><polygon points="472.2,44.5 468.5,44.6 468.5,46.2 472.2,46.2" fill="#cf4631" stroke="#cf4631"/><polygon points="472.2,46.2 468.5,46.2 468.5,48.3 472.2,48.4" fill="#c54432" stroke="#c54432"/><polygon points="472.2,48.4 468.5,48.3 468.5,50.8 472.1,51.0" fill="#bb4332" stroke="#bb4332"/><polygon points="472.1,51.0 468.5,50.8 468.5,53.7 472.1,54.0" fill="#af4138" stroke="#af4138"/><polygon points="472.1,54.0 468.5,53.7 468.5,56.8 472.1,57.3" fill="#a33f40" stroke="#a33f40"/><polygon points="472.1,57.3 468.5,56.8 468.5,60.1 472.1,60.7" fill="#963d48" stroke="#963d48"/><polygon points="472.1,60.7 468.5,60.1 468.5,63.5 472.1,64.3" fill="#893d53" stroke="#893d53"/><polygon points="472.1,64.3 468.5,63.5 468.5,67.0 472.1,68.0" fill="#7a3e5f" stroke="#7a3e5f"/><polygon points="472.1,68.0 468.5,67.0 468.5,70.4 472.1,71.6" fill="#6c406b" stroke="#6c406b"/><polygon points="515.7,27.3 512.1,26.8 510.9,28.3 514.5,28.8" fill="#811d22" stroke="#811d22"/><polygon points="472.1,71.6 468.5,70.4 468.5,73.7 472.1,75.0" fill="#5e4177" stroke="#5e4177"/><polygon points="472.1,75.0 468.5,73.7 468.5,76.9 472.1,78.3" fill="#524381" stroke="#524381"/><polygon points="472.1,78.3 468.5,76.9 468.5,79.7 472.1,81.3" fill="#47468b" stroke="#47468b"/><polygon points="472.1,81.3 468.5,79.7 468.5,82.2 472.1,83.9" fill="#3c4895" stroke="#3c4895"/><polygon points="472.1,83.9 468.5,82.2 468.5,84.3 472.1,86.1" fill="#374899" stroke="#374899"/><polygon points="472.1,86.1 468.5,84.3 468.5,85.9 472.1,87.7" fill="#35469a" stroke="#35469a"/><polygon points="472.1,87.7 468.5,85.9 468.5,86.9 472.1,88.8" fill="#32449c" stroke="#32449c"/><polygon points="472.1,88.8 468.5,86.9 468.5,87.3 472.1,89.2" fill="#30439d" stroke="#30439d"/><polygon points="458.5,88.1 454.8,86.5 453.4,89.4 457.1,90.8" fill="#2f419c" stroke="#2f419c"/><polygon points="510.9,28.3 507.2,27.8 506.0,29.4 509.7,29.9" fill="#8e2025" stroke="#8e2025"/><polygon points="486.7,35.7 483.1,35.5 482.4,36.8 486.1,36.9" fill="#d0242a" stroke="#d0242a"/><polygon points="406.5,86.7 403.0,85.7 400.2,87.7 403.7,88.7" fill="#3046a1" stroke="#3046a1"/><polygon points="506.0,29.4 502.4,28.9 501.2,30.6 504.8,31.1" fill="#9d2227" stroke="#9d2227"/><polygon points="481.8,38.1 478.2,38.0 477.6,39.2 481.2,39.3" fill="#d1282c" stroke="#d1282c"/><polygon points="501.2,30.6 497.6,30.1 496.4,32.0 500.0,32.4" fill="#ac2228" stroke="#ac2228"/><polygon points="477.0,40.5 473.4,40.5 472.8,41.8 476.4,41.7" fill="#d5332d" stroke="#d5332d"/><polygon points="453.4,89.4 449.9,88.0 448.5,89.1 452.1,90.3" fill="#2f3f9a" stroke="#2f3f9a"/><polygon points="496.4,32.0 492.7,31.6 491.5,33.7 495.1,34.0" fill="#bd2228" stroke="#bd2228"/><polygon points="491.5,33.7 487.9,33.4 486.7,35.7 490.3,35.9" fill="#ca2229" stroke="#ca2229"/><polygon points="439.8,88.0 436.1,86.9 433.3,88.9 437.0,89.9" fill="#2f429d" stroke="#2f429d"/><polygon points="448.5,89.1 444.8,88.0 443.5,89.0 447.1,90.0" fill="#2f409b" stroke="#2f409b"/><polygon points="396.6,86.7 393.1,85.8 390.2,88.0 393.8,88.9" fill="#3047a1" stroke="#3047a1"/><polygon points="486.1,36.9 482.4,36.8 481.8,38.1 485.5,38.2" fill="#d0252b" stroke="#d0252b"/><polygon points="472.1,89.2 468.5,87.3 467.1,89.2 470.7,90.9" fill="#2f409c" stroke="#2f409c"/><polygon points="481.2,39.3 477.6,39.2 477.0,40.5 480.6,40.5" fill="#d22a2d" stroke="#d22a2d"/><polygon points="476.4,41.7 472.8,41.8 472.2,43.1 475.8,43.0" fill="#d73e2c" stroke="#d73e2c"/><polygon points="429.7,87.9 426.2,86.8 423.4,89.0 426.9,89.9" fill="#2f439e" stroke="#2f439e"/><polygon points="467.1,89.2 463.5,87.3 462.1,89.7 465.7,91.4" fill="#2f409b" stroke="#2f409b"/><polygon points="419.9,87.9 416.4,86.9 413.6,88.8 417.1,89.8" fill="#2f439f" stroke="#2f439f"/><polygon points="524.2,27.0 520.5,26.4 519.3,27.9 523.0,28.4" fill="#761b1f" stroke="#761b1f"/><polygon points="475.8,43.0 472.2,43.1 472.2,43.4 475.8,43.4" fill="#d7422d" stroke="#d7422d"/><polygon points="475.8,43.4 472.2,43.4 472.2,44.4 475.8,44.4" fill="#d53d30" stroke="#d53d30"/><polygon points="475.8,44.4 472.2,44.4 472.2,45.9 475.8,45.9" fill="#cf3b31" stroke="#cf3b31"/><polygon points="475.8,45.9 472.2,45.9 472.2,47.9 475.8,48.0" fill="#c53a31" stroke="#c53a31"/><polygon points="475.8,48.0 472.2,47.9 472.1,50.3 475.8,50.5" fill="#bb3832" stroke="#bb3832"/><polygon points="475.8,50.5 472.1,50.3 472.1,53.1 475.8,53.4" fill="#b03736" stroke="#b03736"/><polygon points="475.8,53.4 472.1,53.1 472.1,56.1 475.8,56.5" fill="#a5363d" stroke="#a5363d"/><polygon points="475.8,56.5 472.1,56.1 472.1,59.3 475.8,59.9" fill="#993544" stroke="#993544"/><polygon points="475.8,59.9 472.1,59.3 472.1,62.7 475.8,63.4" fill="#8e344c" stroke="#8e344c"/><polygon points="475.8,63.4 472.1,62.7 472.1,66.1 475.8,67.0" fill="#803558" stroke="#803558"/><polygon points="519.3,27.9 515.7,27.3 514.5,28.8 518.1,29.3" fill="#811d22" stroke="#811d22"/><polygon points="475.8,67.0 472.1,66.1 472.1,69.6 475.8,70.6" fill="#723763" stroke="#723763"/><polygon points="475.8,70.6 472.1,69.6 472.1,73.0 475.7,74.1" fill="#64386e" stroke="#64386e"/><polygon points="475.7,74.1 472.1,73.0 472.1,76.2 475.7,77.4" fill="#583a79" stroke="#583a79"/><polygon points="475.7,77.4 472.1,76.2 472.1,79.2 475.7,80.6" fill="#4e3d82" stroke="#4e3d82"/><polygon points="475.7,80.6 472.1,79.2 472.1,82.0 475.7,83.4" fill="#43408b" stroke="#43408b"/><polygon points="475.7,83.4 472.1,82.0 472.1,84.4 475.7,85.9" fill="#384294" stroke="#384294"/><polygon points="475.7,85.9 472.1,84.4 472.1,86.4 475.7,88.0" fill="#354296" stroke="#354296"/><polygon points="475.7,88.0 472.1,86.4 472.1,87.9 475.7,89.6" fill="#344197" stroke="#344197"/><polygon points="475.7,89.6 472.1,87.9 472.1,88.8 475.7,90.6" fill="#324098" stroke="#324098"/><polygon points="475.7,90.6 472.1,88.8 472.1,89.2 475.7,90.9" fill="#303e99" stroke="#303e99"/><polygon points="462.1,89.7 458.5,88.1 457.1,90.8 460.7,92.2" fill="#2f3e99" stroke="#2f3e99"/><polygon points="514.5,28.8 510.9,28.3 509.7,29.9 513.3,30.4" fill="#8e2025" stroke="#8e2025"/><polygon points="490.3,35.9 486.7,35.7 486.1,36.9 489.7,37.1" fill="#cf232a" stroke="#cf232a"/><polygon points="509.7,29.9 506.0,29.4 504.8,31.1 508.4,31.5" fill="#9c2227" stroke="#9c2227"/><polygon points="485.5,38.2 481.8,38.1 481.2,39.3 484.9,39.4" fill="#d1272c" stroke="#d1272c"/><polygon points="504.8,31.1 501.2,30.6 500.0,32.4 503.6,32.8" fill="#ab2228" stroke="#ab2228"/><polygon points="480.6,40.5 477.0,40.5 476.4,41.7 480.0,41.7" fill="#d32f2d" stroke="#d32f2d"/><polygon points="410.0,87.8 406.5,86.7 403.7,88.7 407.2,89.7" fill="#3045a0" stroke="#3045a0"/><polygon points="500.0,32.4 496.4,32.0 495.1,34.0 498.8,34.4" fill="#bb2228" stroke="#bb2228"/><polygon points="457.1,90.8 453.4,89.4 452.1,90.3 455.7,91.6" fill="#2f3d98" stroke="#2f3d98"/><polygon points="443.5,89.0 439.8,88.0 437.0,89.9 440.7,90.8" fill="#2f409c" stroke="#2f409c"/><polygon points="495.1,34.0 491.5,33.7 490.3,35.9 493.9,36.2" fill="#c92229" stroke="#c92229"/><polygon points="452.1,90.3 448.5,89.1 447.1,90.0 450.7,91.2" fill="#2f3e9a" stroke="#2f3e9a"/><polygon points="400.2,87.7 396.6,86.7 393.8,88.9 397.4,89.8" fill="#3045a0" stroke="#3045a0"/><polygon points="489.7,37.1 486.1,36.9 485.5,38.2 489.1,38.3" fill="#d0252b" stroke="#d0252b"/><polygon points="383.1,86.2 379.5,85.3 372.4,90.3 376.0,91.1" fill="#3045a0" stroke="#3045a0"/><polygon points="475.7,90.9 472.1,89.2 470.7,90.9 474.3,92.4" fill="#2f3d98" stroke="#2f3d98"/><polygon points="484.9,39.4 481.2,39.3 480.6,40.5 484.2,40.6" fill="#d1282d" stroke="#d1282d"/><polygon points="480.0,41.7 476.4,41.7 475.8,43.0 479.4,42.9" fill="#d6372d" stroke="#d6372d"/><polygon points="433.3,88.9 429.7,87.9 426.9,89.9 430.5,90.9" fill="#2f419c" stroke="#2f419c"/><polygon points="470.7,90.9 467.1,89.2 465.7,91.4 469.3,92.8" fill="#2f3d98" stroke="#2f3d98"/><polygon points="527.8,27.5 524.2,27.0 523.0,28.4 526.6,28.9" fill="#751b1f" stroke="#751b1f"/><polygon points="479.4,42.9 475.8,43.0 475.8,43.4 479.4,43.3" fill="#d5392e" stroke="#d5392e"/><polygon points="479.4,43.3 475.8,43.4 475.8,44.4 479.4,44.3" fill="#d33530" stroke="#d33530"/><polygon points="479.4,44.3 475.8,44.4 475.8,45.9 479.4,46.0" fill="#cd3331" stroke="#cd3331"/><polygon points="479.4,46.0 475.8,45.9 475.8,48.0 479.4,48.1" fill="#c33231" stroke="#c33231"/><polygon points="479.4,48.1 475.8,48.0 475.8,50.5 479.4,50.7" fill="#ba3131" stroke="#ba3131"/><polygon points="479.4,50.7 475.8,50.5 475.8,53.4 479.4,53.7" fill="#af3035" stroke="#af3035"/><polygon points="479.4,53.7 475.8,53.4 475.8,56.5 479.4,57.0" fill="#a42f3c" stroke="#a42f3c"/><polygon points="479.4,57.0 475.8,56.5 475.8,59.9 479.4,60.4" fill="#982e43" stroke="#982e43"/><polygon points="479.4,60.4 475.8,59.9 475.8,63.4 479.4,64.1" fill="#8c2e4b" stroke="#8c2e4b"/><polygon points="523.0,28.4 519.3,27.9 518.1,29.3 521.7,29.8" fill="#811d22" stroke="#811d22"/><polygon points="479.4,64.1 475.8,63.4 475.8,67.0 479.4,67.8" fill="#7f2f56" stroke="#7f2f56"/><polygon points="479.4,67.8 475.8,67.0 475.8,70.6 479.4,71.5" fill="#713161" stroke="#713161"/><polygon points="479.4,71.5 475.8,70.6 475.7,74.1 479.4,75.1" fill="#63336d" stroke="#63336d"/><polygon points="479.4,75.1 475.7,74.1 475.7,77.4 479.4,78.6" fill="#573677" stroke="#573677"/><polygon points="479.4,78.6 475.7,77.4 475.7,80.6 479.4,81.9" fill="#4d3880" stroke="#4d3880"/><polygon points="479.4,81.9 475.7,80.6 475.7,83.4 479.4,84.9" fill="#423b89" stroke="#423b89"/><polygon points="479.4,84.9 475.7,83.4 475.7,85.9 479.4,87.5" fill="#383e92" stroke="#383e92"/><polygon points="479.4,87.5 475.7,85.9 475.7,88.0 479.4,89.6" fill="#353e93" stroke="#353e93"/><polygon points="479.4,89.6 475.7,88.0 475.7,89.6 479.4,91.2" fill="#333d94" stroke="#333d94"/><polygon points="479.4,91.2 475.7,89.6 475.7,90.6 479.3,92.3" fill="#313c95" stroke="#313c95"/><polygon points="479.3,92.3 475.7,90.6 475.7,90.9 479.3,92.6" fill="#2f3c95" stroke="#2f3c95"/><polygon points="423.4,89.0 419.9,87.9 417.1,89.8 420.6,90.7" fill="#2f429d" stroke="#2f429d"/><polygon points="465.7,91.4 462.1,89.7 460.7,92.2 464.3,93.6" fill="#2f3b96" stroke="#2f3b96"/><polygon points="518.1,29.3 514.5,28.8 513.3,30.4 516.9,30.9" fill="#8e2025" stroke="#8e2025"/><polygon points="493.9,36.2 490.3,35.9 489.7,37.1 493.3,37.3" fill="#cf2329" stroke="#cf2329"/><polygon points="513.3,30.4 509.7,29.9 508.4,31.5 512.1,32.0" fill="#9b2127" stroke="#9b2127"/><polygon points="489.1,38.3 485.5,38.2 484.9,39.4 488.5,39.5" fill="#d1262c" stroke="#d1262c"/><polygon points="508.4,31.5 504.8,31.1 503.6,32.8 507.2,33.3" fill="#aa2228" stroke="#aa2228"/><polygon points="484.2,40.6 480.6,40.5 480.0,41.7 483.6,41.7" fill="#d22b2e" stroke="#d22b2e"/><polygon points="447.1,90.0 443.5,89.0 440.7,90.8 444.3,91.8" fill="#2f3f9a" stroke="#2f3f9a"/><polygon points="503.6,32.8 500.0,32.4 498.8,34.4 502.4,34.7" fill="#ba2228" stroke="#ba2228"/><polygon points="460.7,92.2 457.1,90.8 455.7,91.6 459.3,92.9" fill="#2f3b96" stroke="#2f3b96"/><polygon points="413.6,88.8 410.0,87.8 407.2,89.7 410.8,90.6" fill="#2f439e" stroke="#2f439e"/><polygon points="498.8,34.4 495.1,34.0 493.9,36.2 497.5,36.5" fill="#c72228" stroke="#c72228"/><polygon points="455.7,91.6 452.1,90.3 450.7,91.2 454.3,92.3" fill="#2f3d98" stroke="#2f3d98"/><polygon points="403.7,88.7 400.2,87.7 397.4,89.8 400.9,90.7" fill="#2f439f" stroke="#2f439f"/><polygon points="493.3,37.3 489.7,37.1 489.1,38.3 492.7,38.5" fill="#d0242a" stroke="#d0242a"/><polygon points="479.3,92.6 475.7,90.9 474.3,92.4 478.0,94.0" fill="#2e3a95" stroke="#2e3a95"/><polygon points="386.7,87.1 383.1,86.2 376.0,91.1 379.6,91.9" fill="#2f449f" stroke="#2f449f"/><polygon points="488.5,39.5 484.9,39.4 484.2,40.6 487.9,40.6" fill="#d1282c" stroke="#d1282c"/><polygon points="483.6,41.7 480.0,41.7 479.4,42.9 483.0,42.9" fill="#d4322d" stroke="#d4322d"/><polygon points="437.0,89.9 433.3,88.9 430.5,90.9 434.2,91.8" fill="#2f3f9b" stroke="#2f3f9b"/><polygon points="474.3,92.4 470.7,90.9 469.3,92.8 472.9,94.2" fill="#2e3a95" stroke="#2e3a95"/><polygon points="531.4,28.1 527.8,27.5 526.6,28.9 530.2,29.4" fill="#751b1f" stroke="#751b1f"/><polygon points="483.0,42.9 479.4,42.9 479.4,43.3 483.0,43.2" fill="#d4342e" stroke="#d4342e"/><polygon points="483.0,43.2 479.4,43.3 479.4,44.2 483.0,44.2" fill="#d23030" stroke="#d23030"/><polygon points="483.0,44.2 479.4,44.2 479.4,45.7 483.0,45.8" fill="#cd2e31" stroke="#cd2e31"/><polygon points="483.0,45.8 479.4,45.7 479.4,47.7 483.0,47.8" fill="#c42d31" stroke="#c42d31"/><polygon points="483.0,47.8 479.4,47.7 479.4,50.1 483.0,50.3" fill="#ba2c31" stroke="#ba2c31"/><polygon points="483.0,50.3 479.4,50.1 479.4,52.8 483.0,53.1" fill="#b12c33" stroke="#b12c33"/><polygon points="483.0,53.1 479.4,52.8 479.4,55.8 483.0,56.2" fill="#a62b39" stroke="#a62b39"/><polygon points="483.0,56.2 479.4,55.8 479.4,59.1 483.0,59.6" fill="#9b2a40" stroke="#9b2a40"/><polygon points="483.0,59.6 479.4,59.1 479.4,62.5 483.0,63.1" fill="#902947" stroke="#902947"/><polygon points="526.6,28.9 523.0,28.4 521.7,29.8 525.4,30.4" fill="#811d22" stroke="#811d22"/><polygon points="483.0,63.1 479.4,62.5 479.4,66.0 483.0,66.8" fill="#842a50" stroke="#842a50"/><polygon points="483.0,66.8 479.4,66.0 479.4,69.6 483.0,70.4" fill="#772c5a" stroke="#772c5a"/><polygon points="483.0,70.4 479.4,69.6 479.4,73.1 483.0,74.1" fill="#6a2e65" stroke="#6a2e65"/><polygon points="483.0,74.1 479.4,73.1 479.4,76.5 483.0,77.6" fill="#5d306f" stroke="#5d306f"/><polygon points="483.0,77.6 479.4,76.5 479.4,79.7 483.0,81.0" fill="#533378" stroke="#533378"/><polygon points="483.0,81.0 479.4,79.7 479.4,82.8 483.0,84.1" fill="#493680" stroke="#493680"/><polygon points="483.0,84.1 479.4,82.8 479.4,85.5 483.0,86.9" fill="#3f3989" stroke="#3f3989"/><polygon points="483.0,86.9 479.4,85.5 479.4,87.9 483.0,89.4" fill="#363b90" stroke="#363b90"/><polygon points="483.0,89.4 479.4,87.9 479.4,89.9 483.0,91.4" fill="#343b91" stroke="#343b91"/><polygon points="483.0,91.4 479.4,89.9 479.4,91.4 483.0,93.0" fill="#323a91" stroke="#323a91"/><polygon points="483.0,93.0 479.4,91.4 479.3,92.3 483.0,93.9" fill="#313992" stroke="#313992"/><polygon points="483.0,93.9 479.3,92.3 479.3,92.6 483.0,94.3" fill="#2f3992" stroke="#2f3992"/><polygon points="469.3,92.8 465.7,91.4 464.3,93.6 467.9,94.8" fill="#2e3993" stroke="#2e3993"/><polygon points="521.7,29.8 518.1,29.3 516.9,30.9 520.5,31.4" fill="#8d2025" stroke="#8d2025"/><polygon points="497.5,36.5 493.9,36.2 493.3,37.3 496.9,37.6" fill="#ce2229" stroke="#ce2229"/><polygon points="516.9,30.9 513.3,30.4 512.1,32.0 515.7,32.5" fill="#9b2127" stroke="#9b2127"/><polygon points="492.7,38.5 489.1,38.3 488.5,39.5 492.1,39.6" fill="#d0252b" stroke="#d0252b"/><polygon points="426.9,89.9 423.4,89.0 420.6,90.7 424.1,91.7" fill="#2f409c" stroke="#2f409c"/><polygon points="512.1,32.0 508.4,31.5 507.2,33.3 510.8,33.7" fill="#a92228" stroke="#a92228"/><polygon points="487.9,40.6 484.2,40.6 483.6,41.7 487.3,41.8" fill="#d2292d" stroke="#d2292d"/><polygon points="507.2,33.3 503.6,32.8 502.4,34.7 506.0,35.1" fill="#b92228" stroke="#b92228"/><polygon points="450.7,91.2 447.1,90.0 444.3,91.8 447.9,92.9" fill="#2f3d99" stroke="#2f3d99"/><polygon points="464.3,93.6 460.7,92.2 459.3,92.9 462.9,94.2" fill="#2e3994" stroke="#2e3994"/><polygon points="502.4,34.7 498.8,34.4 497.5,36.5 501.2,36.8" fill="#c62228" stroke="#c62228"/><polygon points="417.1,89.8 413.6,88.8 410.8,90.6 414.3,91.6" fill="#2f419d" stroke="#2f419d"/><polygon points="459.3,92.9 455.7,91.6 454.3,92.3 457.9,93.6" fill="#2f3b96" stroke="#2f3b96"/><polygon points="496.9,37.6 493.3,37.3 492.7,38.5 496.3,38.7" fill="#d0232a" stroke="#d0232a"/><polygon points="407.2,89.7 403.7,88.7 400.9,90.7 404.4,91.6" fill="#2f429d" stroke="#2f429d"/><polygon points="483.0,94.3 479.3,92.6 478.0,94.0 481.6,95.4" fill="#2e3892" stroke="#2e3892"/><polygon points="492.1,39.6 488.5,39.5 487.9,40.6 491.5,40.7" fill="#d1272c" stroke="#d1272c"/><polygon points="390.2,88.0 386.7,87.1 379.6,91.9 383.2,92.6" fill="#2f439e" stroke="#2f439e"/><polygon points="440.7,90.8 437.0,89.9 434.2,91.8 437.9,92.7" fill="#2f3e9a" stroke="#2f3e9a"/><polygon points="487.3,41.8 483.6,41.7 483.0,42.9 486.7,42.9" fill="#d32d2e" stroke="#d32d2e"/><polygon points="478.0,94.0 474.3,92.4 472.9,94.2 476.6,95.5" fill="#2e3892" stroke="#2e3892"/><polygon points="535.0,28.6 531.4,28.1 530.2,29.4 533.8,30.0" fill="#751b1f" stroke="#751b1f"/><polygon points="486.7,42.9 483.0,42.9 483.0,43.2 486.7,43.2" fill="#d32f2e" stroke="#d32f2e"/><polygon points="486.7,43.2 483.0,43.2 483.0,44.1 486.6,44.1" fill="#d12c30" stroke="#d12c30"/><polygon points="486.6,44.1 483.0,44.1 483.0,45.5 486.6,45.6" fill="#cc2931" stroke="#cc2931"/><polygon points="486.6,45.6 483.0,45.5 483.0,47.4 486.6,47.5" fill="#c42931" stroke="#c42931"/><polygon points="486.6,47.5 483.0,47.4 483.0,49.7 486.6,49.9" fill="#bb2831" stroke="#bb2831"/><polygon points="486.6,49.9 483.0,49.7 483.0,52.3 486.6,52.6" fill="#b22731" stroke="#b22731"/><polygon points="486.6,52.6 483.0,52.3 483.0,55.2 486.6,55.6" fill="#a82737" stroke="#a82737"/><polygon points="486.6,55.6 483.0,55.2 483.0,58.4 486.6,58.8" fill="#9e263d" stroke="#9e263d"/><polygon points="486.6,58.8 483.0,58.4 483.0,61.7 486.6,62.2" fill="#932643" stroke="#932643"/><polygon points="530.2,29.4 526.6,28.9 525.4,30.4 529.0,30.9" fill="#801d22" stroke="#801d22"/><polygon points="486.6,62.2 483.0,61.7 483.0,65.1 486.6,65.8" fill="#89264a" stroke="#89264a"/><polygon points="486.6,65.8 483.0,65.1 483.0,68.6 486.6,69.4" fill="#7c2854" stroke="#7c2854"/><polygon points="486.6,69.4 483.0,68.6 483.0,72.1 486.6,73.0" fill="#702a5e" stroke="#702a5e"/><polygon points="486.6,73.0 483.0,72.1 483.0,75.5 486.6,76.5" fill="#642b68" stroke="#642b68"/><polygon points="486.6,76.5 483.0,75.5 483.0,78.8 486.6,79.9" fill="#582e71" stroke="#582e71"/><polygon points="486.6,79.9 483.0,78.8 483.0,82.0 486.6,83.1" fill="#4f3179" stroke="#4f3179"/><polygon points="486.6,83.1 483.0,82.0 483.0,84.9 486.6,86.1" fill="#453481" stroke="#453481"/><polygon points="486.6,86.1 483.0,84.9 483.0,87.5 486.6,88.8" fill="#3c3689" stroke="#3c3689"/><polygon points="486.6,88.8 483.0,87.5 483.0,89.8 486.6,91.2" fill="#35388e" stroke="#35388e"/><polygon points="486.6,91.2 483.0,89.8 483.0,91.7 486.6,93.1" fill="#33388e" stroke="#33388e"/><polygon points="486.6,93.1 483.0,91.7 483.0,93.1 486.6,94.6" fill="#32378f" stroke="#32378f"/><polygon points="486.6,94.6 483.0,93.1 483.0,94.0 486.6,95.5" fill="#30378f" stroke="#30378f"/><polygon points="486.6,95.5 483.0,94.0 483.0,94.3 486.6,95.8" fill="#2f368f" stroke="#2f368f"/><polygon points="472.9,94.2 469.3,92.8 467.9,94.8 471.5,95.9" fill="#2e3891" stroke="#2e3891"/><polygon points="525.4,30.4 521.7,29.8 520.5,31.4 524.1,31.9" fill="#8d1f25" stroke="#8d1f25"/><polygon points="501.2,36.8 497.5,36.5 496.9,37.6 500.6,37.8" fill="#cd2229" stroke="#cd2229"/><polygon points="520.5,31.4 516.9,30.9 515.7,32.5 519.3,32.9" fill="#9a2127" stroke="#9a2127"/><polygon points="496.3,38.7 492.7,38.5 492.1,39.6 495.7,39.8" fill="#d0252b" stroke="#d0252b"/><polygon points="515.7,32.5 512.1,32.0 510.8,33.7 514.5,34.1" fill="#a82228" stroke="#a82228"/><polygon points="430.5,90.9 426.9,89.9 424.1,91.7 427.7,92.6" fill="#2f3f9b" stroke="#2f3f9b"/><polygon points="491.5,40.7 487.9,40.6 487.3,41.8 490.9,41.8" fill="#d1282d" stroke="#d1282d"/><polygon points="510.8,33.7 507.2,33.3 506.0,35.1 509.6,35.5" fill="#b72228" stroke="#b72228"/><polygon points="467.9,94.8 464.3,93.6 462.9,94.2 466.5,95.4" fill="#2e3891" stroke="#2e3891"/><polygon points="454.3,92.3 450.7,91.2 447.9,92.9 451.5,93.9" fill="#2f3c97" stroke="#2f3c97"/><polygon points="506.0,35.1 502.4,34.7 501.2,36.8 504.8,37.1" fill="#c52228" stroke="#c52228"/><polygon points="420.6,90.7 417.1,89.8 414.3,91.6 417.8,92.5" fill="#2f409c" stroke="#2f409c"/><polygon points="462.9,94.2 459.3,92.9 457.9,93.6 461.5,94.8" fill="#2e3994" stroke="#2e3994"/><polygon points="500.6,37.8 496.9,37.6 496.3,38.7 500.0,38.9" fill="#cf232a" stroke="#cf232a"/><polygon points="486.6,95.8 483.0,94.3 481.6,95.4 485.2,96.8" fill="#2e368f" stroke="#2e368f"/><polygon points="444.3,91.8 440.7,90.8 437.9,92.7 441.5,93.6" fill="#2f3d99" stroke="#2f3d99"/><polygon points="495.7,39.8 492.1,39.6 491.5,40.7 495.1,40.9" fill="#d1262c" stroke="#d1262c"/><polygon points="490.9,41.8 487.3,41.8 486.7,42.9 490.3,42.9" fill="#d22b2e" stroke="#d22b2e"/><polygon points="410.8,90.6 407.2,89.7 404.4,91.6 408.0,92.5" fill="#2f409c" stroke="#2f409c"/><polygon points="393.8,88.9 390.2,88.0 383.2,92.6 386.8,93.4" fill="#2f429d" stroke="#2f429d"/><polygon points="481.6,95.4 478.0,94.0 476.6,95.5 480.2,96.7" fill="#2e3690" stroke="#2e3690"/><polygon points="538.7,29.1 535.0,28.6 533.8,30.0 537.5,30.5" fill="#751b1f" stroke="#751b1f"/><polygon points="490.3,42.9 486.7,42.9 486.7,43.2 490.3,43.3" fill="#d12a2f" stroke="#d12a2f"/><polygon points="490.3,43.3 486.7,43.2 486.6,44.1 490.3,44.2" fill="#cf2730" stroke="#cf2730"/><polygon points="490.3,44.2 486.6,44.1 486.6,45.6 490.3,45.7" fill="#cb2531" stroke="#cb2531"/><polygon points="490.3,45.7 486.6,45.6 486.6,47.5 490.3,47.7" fill="#c32431" stroke="#c32431"/><polygon points="490.3,47.7 486.6,47.5 486.6,49.9 490.3,50.1" fill="#ba2431" stroke="#ba2431"/><polygon points="490.3,50.1 486.6,49.9 486.6,52.6 490.3,52.9" fill="#b22430" stroke="#b22430"/><polygon points="490.3,52.9 486.6,52.6 486.6,55.6 490.3,55.9" fill="#a72336" stroke="#a72336"/><polygon points="490.3,55.9 486.6,55.6 486.6,58.8 490.3,59.2" fill="#9d233c" stroke="#9d233c"/><polygon points="490.3,59.2 486.6,58.8 486.6,62.2 490.3,62.8" fill="#932242" stroke="#932242"/><polygon points="533.8,30.0 530.2,29.4 529.0,30.9 532.6,31.4" fill="#801d22" stroke="#801d22"/><polygon points="490.3,62.8 486.6,62.2 486.6,65.8 490.2,66.4" fill="#882249" stroke="#882249"/><polygon points="490.2,66.4 486.6,65.8 486.6,69.4 490.2,70.1" fill="#7c2453" stroke="#7c2453"/><polygon points="490.2,70.1 486.6,69.4 486.6,73.0 490.2,73.7" fill="#70265d" stroke="#70265d"/><polygon points="490.2,73.7 486.6,73.0 486.6,76.5 490.2,77.4" fill="#632967" stroke="#632967"/><polygon points="490.2,77.4 486.6,76.5 486.6,79.9 490.2,80.9" fill="#582b70" stroke="#582b70"/><polygon points="490.2,80.9 486.6,79.9 486.6,83.1 490.2,84.2" fill="#4e2e77" stroke="#4e2e77"/><polygon points="490.2,84.2 486.6,83.1 486.6,86.1 490.2,87.3" fill="#45317f" stroke="#45317f"/><polygon points="490.2,87.3 486.6,86.1 486.6,88.8 490.2,90.0" fill="#3c3487" stroke="#3c3487"/><polygon points="490.2,90.0 486.6,88.8 486.6,91.2 490.2,92.4" fill="#35368c" stroke="#35368c"/><polygon points="490.2,92.4 486.6,91.2 486.6,93.1 490.2,94.4" fill="#33368c" stroke="#33368c"/><polygon points="490.2,94.4 486.6,93.1 486.6,94.6 490.2,95.9" fill="#32358c" stroke="#32358c"/><polygon points="490.2,95.9 486.6,94.6 486.6,95.5 490.2,96.8" fill="#30358c" stroke="#30358c"/><polygon points="490.2,96.8 486.6,95.5 486.6,95.8 490.2,97.2" fill="#2f358d" stroke="#2f358d"/><polygon points="476.6,95.5 472.9,94.2 471.5,95.9 475.2,97.0" fill="#2e368f" stroke="#2e368f"/><polygon points="529.0,30.9 525.4,30.4 524.1,31.9 527.8,32.3" fill="#8c1f25" stroke="#8c1f25"/><polygon points="504.8,37.1 501.2,36.8 500.6,37.8 504.2,38.1" fill="#cc2229" stroke="#cc2229"/><polygon points="524.1,31.9 520.5,31.4 519.3,32.9 522.9,33.4" fill="#992127" stroke="#992127"/><polygon points="500.0,38.9 496.3,38.7 495.7,39.8 499.3,40.0" fill="#d0242a" stroke="#d0242a"/><polygon points="434.2,91.8 430.5,90.9 427.7,92.6 431.4,93.5" fill="#2f3e9a" stroke="#2f3e9a"/><polygon points="519.3,32.9 515.7,32.5 514.5,34.1 518.1,34.6" fill="#a72228" stroke="#a72228"/><polygon points="495.1,40.9 491.5,40.7 490.9,41.8 494.5,41.9" fill="#d1272c" stroke="#d1272c"/><polygon points="514.5,34.1 510.8,33.7 509.6,35.5 513.3,35.9" fill="#b62228" stroke="#b62228"/><polygon points="471.5,95.9 467.9,94.8 466.5,95.4 470.2,96.5" fill="#2e3690" stroke="#2e3690"/><polygon points="457.9,93.6 454.3,92.3 451.5,93.9 455.1,95.0" fill="#2f3b95" stroke="#2f3b95"/><polygon points="509.6,35.5 506.0,35.1 504.8,37.1 508.4,37.4" fill="#c32228" stroke="#c32228"/><polygon points="466.5,95.4 462.9,94.2 461.5,94.8 465.1,96.0" fill="#2e3892" stroke="#2e3892"/><polygon points="424.1,91.7 420.6,90.7 417.8,92.5 421.3,93.4" fill="#2f3f9a" stroke="#2f3f9a"/><polygon points="504.2,38.1 500.6,37.8 500.0,38.9 503.6,39.2" fill="#cf2329" stroke="#cf2329"/><polygon points="490.2,97.2 486.6,95.8 485.2,96.8 488.8,98.1" fill="#2e348c" stroke="#2e348c"/><polygon points="499.3,40.0 495.7,39.8 495.1,40.9 498.7,41.0" fill="#d0262b" stroke="#d0262b"/><polygon points="447.9,92.9 444.3,91.8 441.5,93.6 445.1,94.6" fill="#2f3c97" stroke="#2f3c97"/><polygon points="494.5,41.9 490.9,41.8 490.3,42.9 493.9,43.0" fill="#d2292d" stroke="#d2292d"/><polygon points="397.4,89.8 393.8,88.9 386.8,93.4 390.3,94.3" fill="#2f419d" stroke="#2f419d"/><polygon points="414.3,91.6 410.8,90.6 408.0,92.5 411.5,93.4" fill="#2f3f9b" stroke="#2f3f9b"/><polygon points="485.2,96.8 481.6,95.4 480.2,96.7 483.8,97.9" fill="#2e358d" stroke="#2e358d"/><polygon points="542.3,29.7 538.7,29.1 537.5,30.5 541.1,31.0" fill="#751b1f" stroke="#751b1f"/><polygon points="493.9,43.0 490.3,42.9 490.3,43.2 493.9,43.3" fill="#d1282e" stroke="#d1282e"/><polygon points="493.9,43.3 490.3,43.2 490.3,44.1 493.9,44.2" fill="#cf2530" stroke="#cf2530"/><polygon points="493.9,44.2 490.3,44.1 490.3,45.5 493.9,45.6" fill="#cc2331" stroke="#cc2331"/><polygon points="493.9,45.6 490.3,45.5 490.3,47.3 493.9,47.4" fill="#c32231" stroke="#c32231"/><polygon points="493.9,47.4 490.3,47.3 490.3,49.5 493.9,49.7" fill="#bb2230" stroke="#bb2230"/><polygon points="493.9,49.7 490.3,49.5 490.3,52.1 493.9,52.3" fill="#b32230" stroke="#b32230"/><polygon points="493.9,52.3 490.3,52.1 490.3,55.0 493.9,55.3" fill="#aa2134" stroke="#aa2134"/><polygon points="493.9,55.3 490.3,55.0 490.3,58.1 493.9,58.4" fill="#a02139" stroke="#a02139"/><polygon points="493.9,58.4 490.3,58.1 490.3,61.4 493.9,61.8" fill="#96203f" stroke="#96203f"/><polygon points="537.5,30.5 533.8,30.0 532.6,31.4 536.2,31.9" fill="#801d22" stroke="#801d22"/><polygon points="493.9,61.8 490.3,61.4 490.2,64.8 493.9,65.3" fill="#8c2045" stroke="#8c2045"/><polygon points="493.9,65.3 490.2,64.8 490.2,68.3 493.9,68.9" fill="#81224d" stroke="#81224d"/><polygon points="493.9,68.9 490.2,68.3 490.2,71.8 493.9,72.5" fill="#752457" stroke="#752457"/><polygon points="493.9,72.5 490.2,71.8 490.2,75.3 493.9,76.0" fill="#6a2660" stroke="#6a2660"/><polygon points="493.9,76.0 490.2,75.3 490.2,78.8 493.9,79.5" fill="#5e2869" stroke="#5e2869"/><polygon points="493.9,79.5 490.2,78.8 490.2,82.0 493.9,82.9" fill="#542b71" stroke="#542b71"/><polygon points="493.9,82.9 490.2,82.0 490.2,85.1 493.9,86.1" fill="#4b2e78" stroke="#4b2e78"/><polygon points="493.9,86.1 490.2,85.1 490.2,88.0 493.9,89.0" fill="#42317f" stroke="#42317f"/><polygon points="493.9,89.0 490.2,88.0 490.2,90.6 493.8,91.6" fill="#393487" stroke="#393487"/><polygon points="493.8,91.6 490.2,90.6 490.2,92.8 493.8,93.9" fill="#35358a" stroke="#35358a"/><polygon points="493.8,93.9 490.2,92.8 490.2,94.6 493.8,95.7" fill="#33358a" stroke="#33358a"/><polygon points="493.8,95.7 490.2,94.6 490.2,96.0 493.8,97.1" fill="#32348a" stroke="#32348a"/><polygon points="493.8,97.1 490.2,96.0 490.2,96.9 493.8,98.0" fill="#31348a" stroke="#31348a"/><polygon points="493.8,98.0 490.2,96.9 490.2,97.2 493.8,98.3" fill="#2f348a" stroke="#2f348a"/><polygon points="480.2,96.7 476.6,95.5 475.2,97.0 478.8,98.0" fill="#2e358d" stroke="#2e358d"/><polygon points="532.6,31.4 529.0,30.9 527.8,32.3 531.4,32.8" fill="#8b1f25" stroke="#8b1f25"/><polygon points="508.4,37.4 504.8,37.1 504.2,38.1 507.8,38.4" fill="#ca2229" stroke="#ca2229"/><polygon points="437.9,92.7 434.2,91.8 431.4,93.5 435.1,94.3" fill="#2f3d99" stroke="#2f3d99"/><polygon points="527.8,32.3 524.1,31.9 522.9,33.4 526.6,33.9" fill="#982127" stroke="#982127"/><polygon points="503.6,39.2 500.0,38.9 499.3,40.0 503.0,40.2" fill="#d0242a" stroke="#d0242a"/><polygon points="522.9,33.4 519.3,32.9 518.1,34.6 521.7,35.0" fill="#a62228" stroke="#a62228"/><polygon points="498.7,41.0 495.1,40.9 494.5,41.9 498.1,42.0" fill="#d1272c" stroke="#d1272c"/><polygon points="518.1,34.6 514.5,34.1 513.3,35.9 516.9,36.3" fill="#b42228" stroke="#b42228"/><polygon points="475.2,97.0 471.5,95.9 470.2,96.5 473.8,97.6" fill="#2e358e" stroke="#2e358e"/><polygon points="461.5,94.8 457.9,93.6 455.1,95.0 458.7,96.1" fill="#2e3993" stroke="#2e3993"/><polygon points="513.3,35.9 509.6,35.5 508.4,37.4 512.0,37.8" fill="#c22228" stroke="#c22228"/><polygon points="470.2,96.5 466.5,95.4 465.1,96.0 468.8,97.1" fill="#2e3690" stroke="#2e3690"/><polygon points="427.7,92.6 424.1,91.7 421.3,93.4 424.9,94.3" fill="#2f3e99" stroke="#2f3e99"/><polygon points="507.8,38.4 504.2,38.1 503.6,39.2 507.2,39.4" fill="#ce2229" stroke="#ce2229"/><polygon points="493.8,98.3 490.2,97.2 488.8,98.1 492.4,99.2" fill="#2f348a" stroke="#2f348a"/><polygon points="503.0,40.2 499.3,40.0 498.7,41.0 502.4,41.2" fill="#d0252b" stroke="#d0252b"/><polygon points="451.5,93.9 447.9,92.9 445.1,94.6 448.7,95.5" fill="#2f3b96" stroke="#2f3b96"/><polygon points="498.1,42.0 494.5,41.9 493.9,43.0 497.5,43.1" fill="#d1282d" stroke="#d1282d"/><polygon points="400.9,90.7 397.4,89.8 390.3,94.3 393.9,95.1" fill="#2f409c" stroke="#2f409c"/><polygon points="488.8,98.1 485.2,96.8 483.8,97.9 487.4,99.0" fill="#2e348b" stroke="#2e348b"/><polygon points="417.8,92.5 414.3,91.6 411.5,93.4 415.0,94.3" fill="#2f3f9a" stroke="#2f3f9a"/><polygon points="545.9,30.2 542.3,29.7 541.1,31.0 544.7,31.5" fill="#751b1f" stroke="#751b1f"/><polygon points="497.5,43.1 493.9,43.0 493.9,43.3 497.5,43.4" fill="#d1272e" stroke="#d1272e"/><polygon points="497.5,43.4 493.9,43.3 493.9,44.2 497.5,44.3" fill="#cf242f" stroke="#cf242f"/><polygon points="497.5,44.3 493.9,44.2 493.9,45.6 497.5,45.7" fill="#cb2230" stroke="#cb2230"/><polygon points="497.5,45.7 493.9,45.6 493.9,47.4 497.5,47.6" fill="#c32130" stroke="#c32130"/><polygon points="497.5,47.6 493.9,47.4 493.9,49.7 497.5,49.9" fill="#bb212f" stroke="#bb212f"/><polygon points="497.5,49.9 493.9,49.7 493.9,52.3 497.5,52.6" fill="#b3212f" stroke="#b3212f"/><polygon points="497.5,52.6 493.9,52.3 493.9,55.3 497.5,55.6" fill="#aa2033" stroke="#aa2033"/><polygon points="497.5,55.6 493.9,55.3 493.9,58.4 497.5,58.8" fill="#a02039" stroke="#a02039"/><polygon points="541.1,31.0 537.5,30.5 536.2,31.9 539.9,32.3" fill="#7f1d22" stroke="#7f1d22"/><polygon points="497.5,58.8 493.9,58.4 493.9,61.8 497.5,62.2" fill="#96203e" stroke="#96203e"/><polygon points="497.5,62.2 493.9,61.8 493.9,65.3 497.5,65.8" fill="#8c1f44" stroke="#8c1f44"/><polygon points="497.5,65.8 493.9,65.3 493.9,68.9 497.5,69.4" fill="#81214c" stroke="#81214c"/><polygon points="497.5,69.4 493.9,68.9 493.9,72.5 497.5,73.1" fill="#752356" stroke="#752356"/><polygon points="497.5,73.1 493.9,72.5 493.9,76.0 497.5,76.7" fill="#6a255f" stroke="#6a255f"/><polygon points="497.5,76.7 493.9,76.0 493.9,79.5 497.5,80.3" fill="#5e2768" stroke="#5e2768"/><polygon points="497.5,80.3 493.9,79.5 493.9,82.9 497.5,83.7" fill="#542a70" stroke="#542a70"/><polygon points="497.5,83.7 493.9,82.9 493.9,86.1 497.5,86.9" fill="#4b2d77" stroke="#4b2d77"/><polygon points="497.5,86.9 493.9,86.1 493.9,89.0 497.5,89.9" fill="#42307e" stroke="#42307e"/><polygon points="497.5,89.9 493.9,89.0 493.8,91.6 497.5,92.5" fill="#393385" stroke="#393385"/><polygon points="497.5,92.5 493.8,91.6 493.8,93.9 497.5,94.8" fill="#353488" stroke="#353488"/><polygon points="497.5,94.8 493.8,93.9 493.8,95.7 497.5,96.7" fill="#333488" stroke="#333488"/><polygon points="497.5,96.7 493.8,95.7 493.8,97.1 497.5,98.1" fill="#323488" stroke="#323488"/><polygon points="497.5,98.1 493.8,97.1 493.8,98.0 497.5,99.0" fill="#313488" stroke="#313488"/><polygon points="497.5,99.0 493.8,98.0 493.8,98.3 497.5,99.3" fill="#2f3388" stroke="#2f3388"/><polygon points="483.8,97.9 480.2,96.7 478.8,98.0 482.4,99.0" fill="#2e348b" stroke="#2e348b"/><polygon points="536.2,31.9 532.6,31.4 531.4,32.8 535.0,33.3" fill="#8b1f24" stroke="#8b1f24"/><polygon points="441.5,93.6 437.9,92.7 435.1,94.3 438.8,95.2" fill="#2f3c97" stroke="#2f3c97"/><polygon points="512.0,37.8 508.4,37.4 507.8,38.4 511.4,38.7" fill="#c92229" stroke="#c92229"/><polygon points="531.4,32.8 527.8,32.3 526.6,33.9 530.2,34.3" fill="#982127" stroke="#982127"/><polygon points="507.2,39.4 503.6,39.2 503.0,40.2 506.6,40.4" fill="#cf232a" stroke="#cf232a"/><polygon points="526.6,33.9 522.9,33.4 521.7,35.0 525.3,35.5" fill="#a52228" stroke="#a52228"/><polygon points="502.4,41.2 498.7,41.0 498.1,42.0 501.8,42.2" fill="#d1262c" stroke="#d1262c"/><polygon points="521.7,35.0 518.1,34.6 516.9,36.3 520.5,36.7" fill="#b32228" stroke="#b32228"/><polygon points="478.8,98.0 475.2,97.0 473.8,97.6 477.4,98.6" fill="#2e348c" stroke="#2e348c"/><polygon points="465.1,96.0 461.5,94.8 458.7,96.1 462.4,97.2" fill="#2e3892" stroke="#2e3892"/><polygon points="516.9,36.3 513.3,35.9 512.0,37.8 515.7,38.1" fill="#c02228" stroke="#c02228"/><polygon points="473.8,97.6 470.2,96.5 468.8,97.1 472.4,98.1" fill="#2e358e" stroke="#2e358e"/><polygon points="431.4,93.5 427.7,92.6 424.9,94.3 428.6,95.2" fill="#2f3d98" stroke="#2f3d98"/><polygon points="511.4,38.7 507.8,38.4 507.2,39.4 510.8,39.7" fill="#cd2229" stroke="#cd2229"/><polygon points="497.5,99.3 493.8,98.3 492.4,99.2 496.1,100.2" fill="#2f3388" stroke="#2f3388"/><polygon points="506.6,40.4 503.0,40.2 502.4,41.2 506.0,41.4" fill="#d0242a" stroke="#d0242a"/><polygon points="455.1,95.0 451.5,93.9 448.7,95.5 452.3,96.5" fill="#2e3a95" stroke="#2e3a95"/><polygon points="501.8,42.2 498.1,42.0 497.5,43.1 501.1,43.2" fill="#d1272c" stroke="#d1272c"/><polygon points="376.0,91.1 372.4,90.3 365.3,95.2 368.9,95.9" fill="#2f409b" stroke="#2f409b"/><polygon points="492.4,99.2 488.8,98.1 487.4,99.0 491.1,100.0" fill="#2f3389" stroke="#2f3389"/><polygon points="404.4,91.6 400.9,90.7 393.9,95.1 397.4,96.0" fill="#2f3f9b" stroke="#2f3f9b"/><polygon points="549.5,30.8 545.9,30.2 544.7,31.5 548.3,32.0" fill="#741b1f" stroke="#741b1f"/><polygon points="421.3,93.4 417.8,92.5 415.0,94.3 418.6,95.2" fill="#2f3e99" stroke="#2f3e99"/><polygon points="501.1,43.2 497.5,43.1 497.5,43.4 501.1,43.5" fill="#d0262d" stroke="#d0262d"/><polygon points="501.1,43.5 497.5,43.4 497.5,44.3 501.1,44.4" fill="#ce242f" stroke="#ce242f"/><polygon points="501.1,44.4 497.5,44.3 497.5,45.7 501.1,45.9" fill="#cb2130" stroke="#cb2130"/><polygon points="501.1,45.9 497.5,45.7 497.5,47.6 501.1,47.8" fill="#c3212f" stroke="#c3212f"/><polygon points="501.1,47.8 497.5,47.6 497.5,49.9 501.1,50.1" fill="#bb202f" stroke="#bb202f"/><polygon points="501.1,50.1 497.5,49.9 497.5,52.6 501.1,52.8" fill="#b3202e" stroke="#b3202e"/><polygon points="501.1,52.8 497.5,52.6 497.5,55.6 501.1,55.9" fill="#a92032" stroke="#a92032"/><polygon points="544.7,31.5 541.1,31.0 539.9,32.3 543.5,32.8" fill="#7e1d21" stroke="#7e1d21"/><polygon points="501.1,55.9 497.5,55.6 497.5,58.8 501.1,59.1" fill="#a01f38" stroke="#a01f38"/><polygon points="501.1,59.1 497.5,58.8 497.5,62.2 501.1,62.6" fill="#961f3d" stroke="#961f3d"/><polygon points="501.1,62.6 497.5,62.2 497.5,65.8 501.1,66.2" fill="#8c1f43" stroke="#8c1f43"/><polygon points="501.1,66.2 497.5,65.8 497.5,69.4 501.1,69.9" fill="#81204b" stroke="#81204b"/><polygon points="501.1,69.9 497.5,69.4 497.5,73.1 501.1,73.6" fill="#752254" stroke="#752254"/><polygon points="501.1,73.6 497.5,73.1 497.5,76.7 501.1,77.3" fill="#6a255e" stroke="#6a255e"/><polygon points="501.1,77.3 497.5,76.7 497.5,80.3 501.1,80.9" fill="#5e2767" stroke="#5e2767"/><polygon points="501.1,80.9 497.5,80.3 497.5,83.7 501.1,84.4" fill="#54296e" stroke="#54296e"/><polygon points="501.1,84.4 497.5,83.7 497.5,86.9 501.1,87.7" fill="#4b2c76" stroke="#4b2c76"/><polygon points="501.1,87.7 497.5,86.9 497.5,89.9 501.1,90.7" fill="#422f7d" stroke="#422f7d"/><polygon points="501.1,90.7 497.5,89.9 497.5,92.5 501.1,93.4" fill="#3a3284" stroke="#3a3284"/><polygon points="501.1,93.4 497.5,92.5 497.5,94.8 501.1,95.7" fill="#353487" stroke="#353487"/><polygon points="501.1,95.7 497.5,94.8 497.5,96.7 501.1,97.7" fill="#343487" stroke="#343487"/><polygon points="501.1,97.7 497.5,96.7 497.5,98.1 501.1,99.1" fill="#323387" stroke="#323387"/><polygon points="501.1,99.1 497.5,98.1 497.5,99.0 501.1,100.0" fill="#313387" stroke="#313387"/><polygon points="501.1,100.0 497.5,99.0 497.5,99.3 501.1,100.3" fill="#303387" stroke="#303387"/><polygon points="487.4,99.0 483.8,97.9 482.4,99.0 486.0,100.0" fill="#2f348a" stroke="#2f348a"/><polygon points="539.9,32.3 536.2,31.9 535.0,33.3 538.6,33.8" fill="#8a1f24" stroke="#8a1f24"/><polygon points="515.7,38.1 512.0,37.8 511.4,38.7 515.0,39.1" fill="#c72228" stroke="#c72228"/><polygon points="445.1,94.6 441.5,93.6 438.8,95.2 442.3,96.2" fill="#2f3c96" stroke="#2f3c96"/><polygon points="535.0,33.3 531.4,32.8 530.2,34.3 533.8,34.8" fill="#972127" stroke="#972127"/><polygon points="510.8,39.7 507.2,39.4 506.6,40.4 510.2,40.7" fill="#cf2329" stroke="#cf2329"/><polygon points="530.2,34.3 526.6,33.9 525.3,35.5 529.0,35.9" fill="#a42228" stroke="#a42228"/><polygon points="506.0,41.4 502.4,41.2 501.8,42.2 505.4,42.4" fill="#d0262b" stroke="#d0262b"/><polygon points="525.3,35.5 521.7,35.0 520.5,36.7 524.1,37.1" fill="#b12228" stroke="#b12228"/><polygon points="482.4,99.0 478.8,98.0 477.4,98.6 481.0,99.6" fill="#2e348b" stroke="#2e348b"/><polygon points="468.8,97.1 465.1,96.0 462.4,97.2 466.0,98.2" fill="#2e3790" stroke="#2e3790"/><polygon points="520.5,36.7 516.9,36.3 515.7,38.1 519.3,38.5" fill="#bf2228" stroke="#bf2228"/><polygon points="477.4,98.6 473.8,97.6 472.4,98.1 476.0,99.2" fill="#2e358d" stroke="#2e358d"/><polygon points="435.1,94.3 431.4,93.5 428.6,95.2 432.3,96.0" fill="#2f3c97" stroke="#2f3c97"/><polygon points="515.0,39.1 511.4,38.7 510.8,39.7 514.4,40.0" fill="#cc2229" stroke="#cc2229"/><polygon points="501.1,100.3 497.5,99.3 496.1,100.2 499.7,101.1" fill="#2f3387" stroke="#2f3387"/><polygon points="510.2,40.7 506.6,40.4 506.0,41.4 509.6,41.6" fill="#d0242a" stroke="#d0242a"/><polygon points="458.7,96.1 455.1,95.0 452.3,96.5 456.0,97.4" fill="#2e3993" stroke="#2e3993"/><polygon points="505.4,42.4 501.8,42.2 501.1,43.2 504.8,43.3" fill="#d1272c" stroke="#d1272c"/><polygon points="379.6,91.9 376.0,91.1 368.9,95.9 372.5,96.5" fill="#2f3f9b" stroke="#2f3f9b"/><polygon points="496.1,100.2 492.4,99.2 491.1,100.0 494.7,101.0" fill="#2f3388" stroke="#2f3388"/><polygon points="553.2,31.3 549.5,30.8 548.3,32.0 552.0,32.5" fill="#741b1f" stroke="#741b1f"/><polygon points="408.0,92.5 404.4,91.6 397.4,96.0 401.0,96.8" fill="#2f3e9a" stroke="#2f3e9a"/><polygon points="504.8,43.3 501.1,43.2 501.1,43.5 504.8,43.6" fill="#d0262d" stroke="#d0262d"/><polygon points="504.8,43.6 501.1,43.5 501.1,44.3 504.8,44.5" fill="#ce232e" stroke="#ce232e"/><polygon points="504.8,44.5 501.1,44.3 501.1,45.7 504.8,45.8" fill="#cc202f" stroke="#cc202f"/><polygon points="504.8,45.8 501.1,45.7 501.1,47.4 504.8,47.6" fill="#c4202f" stroke="#c4202f"/><polygon points="504.8,47.6 501.1,47.4 501.1,49.6 504.8,49.8" fill="#bc202e" stroke="#bc202e"/><polygon points="504.8,49.8 501.1,49.6 501.1,52.1 504.7,52.4" fill="#b4202e" stroke="#b4202e"/><polygon points="548.3,32.0 544.7,31.5 543.5,32.8 547.1,33.3" fill="#7e1d21" stroke="#7e1d21"/><polygon points="504.7,52.4 501.1,52.1 501.1,55.0 504.7,55.3" fill="#ac1f30" stroke="#ac1f30"/><polygon points="504.7,55.3 501.1,55.0 501.1,58.0 504.7,58.4" fill="#a31f35" stroke="#a31f35"/><polygon points="504.7,58.4 501.1,58.0 501.1,61.3 504.7,61.7" fill="#991f3b" stroke="#991f3b"/><polygon points="504.7,61.7 501.1,61.3 501.1,64.7 504.7,65.1" fill="#901e40" stroke="#901e40"/><polygon points="504.7,65.1 501.1,64.7 501.1,68.2 504.7,68.7" fill="#861f47" stroke="#861f47"/><polygon points="424.9,94.3 421.3,93.4 418.6,95.2 422.2,96.0" fill="#2f3d98" stroke="#2f3d98"/><polygon points="504.7,68.7 501.1,68.2 501.1,71.8 504.7,72.3" fill="#7b214f" stroke="#7b214f"/><polygon points="504.7,72.3 501.1,71.8 501.1,75.3 504.7,75.9" fill="#702358" stroke="#702358"/><polygon points="504.7,75.9 501.1,75.3 501.1,78.8 504.7,79.5" fill="#652561" stroke="#652561"/><polygon points="504.7,79.5 501.1,78.8 501.1,82.3 504.7,82.9" fill="#5a2769" stroke="#5a2769"/><polygon points="504.7,82.9 501.1,82.3 501.1,85.5 504.7,86.2" fill="#512a70" stroke="#512a70"/><polygon points="504.7,86.2 501.1,85.5 501.1,88.6 504.7,89.3" fill="#492d77" stroke="#492d77"/><polygon points="504.7,89.3 501.1,88.6 501.1,91.4 504.7,92.2" fill="#40307e" stroke="#40307e"/><polygon points="504.7,92.2 501.1,91.4 501.1,93.9 504.7,94.7" fill="#383384" stroke="#383384"/><polygon points="504.7,94.7 501.1,93.9 501.1,96.1 504.7,96.9" fill="#353386" stroke="#353386"/><polygon points="504.7,96.9 501.1,96.1 501.1,97.9 504.7,98.7" fill="#333386" stroke="#333386"/><polygon points="504.7,98.7 501.1,97.9 501.1,99.2 504.7,100.1" fill="#323386" stroke="#323386"/><polygon points="504.7,100.1 501.1,99.2 501.1,100.0 504.7,100.9" fill="#313386" stroke="#313386"/><polygon points="504.7,100.9 501.1,100.0 501.1,100.3 504.7,101.2" fill="#303286" stroke="#303286"/><polygon points="491.1,100.0 487.4,99.0 486.0,100.0 489.7,100.9" fill="#2f3388" stroke="#2f3388"/><polygon points="543.5,32.8 539.9,32.3 538.6,33.8 542.3,34.2" fill="#891f24" stroke="#891f24"/><polygon points="519.3,38.5 515.7,38.1 515.0,39.1 518.7,39.4" fill="#c62228" stroke="#c62228"/><polygon points="448.7,95.5 445.1,94.6 442.3,96.2 445.9,97.1" fill="#2f3b95" stroke="#2f3b95"/><polygon points="538.6,33.8 535.0,33.3 533.8,34.8 537.4,35.2" fill="#952127" stroke="#952127"/><polygon points="514.4,40.0 510.8,39.7 510.2,40.7 513.8,40.9" fill="#cf2229" stroke="#cf2229"/><polygon points="533.8,34.8 530.2,34.3 529.0,35.9 532.6,36.4" fill="#a22228" stroke="#a22228"/><polygon points="509.6,41.6 506.0,41.4 505.4,42.4 509.0,42.5" fill="#d0252b" stroke="#d0252b"/><polygon points="529.0,35.9 525.3,35.5 524.1,37.1 527.7,37.5" fill="#b02228" stroke="#b02228"/><polygon points="486.0,100.0 482.4,99.0 481.0,99.6 484.6,100.5" fill="#2f3489" stroke="#2f3489"/><polygon points="472.4,98.1 468.8,97.1 466.0,98.2 469.6,99.2" fill="#2e368f" stroke="#2e368f"/><polygon points="524.1,37.1 520.5,36.7 519.3,38.5 522.9,38.9" fill="#be2228" stroke="#be2228"/><polygon points="481.0,99.6 477.4,98.6 476.0,99.2 479.6,100.2" fill="#2e348b" stroke="#2e348b"/><polygon points="438.8,95.2 435.1,94.3 432.3,96.0 436.0,96.8" fill="#2f3c96" stroke="#2f3c96"/><polygon points="518.7,39.4 515.0,39.1 514.4,40.0 518.1,40.3" fill="#ca2229" stroke="#ca2229"/><polygon points="504.7,101.2 501.1,100.3 499.7,101.1 503.3,102.1" fill="#2f3285" stroke="#2f3285"/><polygon points="513.8,40.9 510.2,40.7 509.6,41.6 513.2,41.8" fill="#cf232a" stroke="#cf232a"/><polygon points="462.4,97.2 458.7,96.1 456.0,97.4 459.6,98.4" fill="#2e3892" stroke="#2e3892"/><polygon points="509.0,42.5 505.4,42.4 504.8,43.3 508.4,43.5" fill="#d1262c" stroke="#d1262c"/><polygon points="383.2,92.6 379.6,91.9 372.5,96.5 376.1,97.2" fill="#2f3f9a" stroke="#2f3f9a"/><polygon points="499.7,101.1 496.1,100.2 494.7,101.0 498.3,101.9" fill="#2f3386" stroke="#2f3386"/><polygon points="556.8,31.9 553.2,31.3 552.0,32.5 555.6,33.0" fill="#741b1f" stroke="#741b1f"/><polygon points="508.4,43.5 504.8,43.3 504.8,43.6 508.4,43.8" fill="#d0252d" stroke="#d0252d"/><polygon points="508.4,43.8 504.8,43.6 504.8,44.5 508.4,44.7" fill="#ce222e" stroke="#ce222e"/><polygon points="508.4,44.7 504.8,44.5 504.8,45.8 508.4,46.0" fill="#cc202f" stroke="#cc202f"/><polygon points="508.4,46.0 504.8,45.8 504.8,47.6 508.4,47.8" fill="#c4202e" stroke="#c4202e"/><polygon points="508.4,47.8 504.8,47.6 504.8,49.8 508.4,50.1" fill="#bc1f2e" stroke="#bc1f2e"/><polygon points="428.6,95.2 424.9,94.3 422.2,96.0 425.8,96.8" fill="#2f3c97" stroke="#2f3c97"/><polygon points="552.0,32.5 548.3,32.0 547.1,33.3 550.7,33.7" fill="#7d1c21" stroke="#7d1c21"/><polygon points="508.4,50.1 504.8,49.8 504.7,52.4 508.4,52.7" fill="#b41f2d" stroke="#b41f2d"/><polygon points="508.4,52.7 504.7,52.4 504.7,55.3 508.4,55.6" fill="#ac1f2f" stroke="#ac1f2f"/><polygon points="508.4,55.6 504.7,55.3 504.7,58.4 508.4,58.7" fill="#a21e35" stroke="#a21e35"/><polygon points="508.4,58.7 504.7,58.4 504.7,61.7 508.4,62.1" fill="#991e3a" stroke="#991e3a"/><polygon points="508.4,62.1 504.7,61.7 504.7,65.1 508.4,65.6" fill="#901e3f" stroke="#901e3f"/><polygon points="508.4,65.6 504.7,65.1 504.7,68.7 508.4,69.2" fill="#861e46" stroke="#861e46"/><polygon points="508.4,69.2 504.7,68.7 504.7,72.3 508.4,72.8" fill="#7b204e" stroke="#7b204e"/><polygon points="508.4,72.8 504.7,72.3 504.7,75.9 508.4,76.5" fill="#702257" stroke="#702257"/><polygon points="508.4,76.5 504.7,75.9 504.7,79.5 508.3,80.1" fill="#652460" stroke="#652460"/><polygon points="508.3,80.1 504.7,79.5 504.7,82.9 508.3,83.6" fill="#5a2768" stroke="#5a2768"/><polygon points="508.3,83.6 504.7,82.9 504.7,86.2 508.3,86.9" fill="#51296f" stroke="#51296f"/><polygon points="508.3,86.9 504.7,86.2 504.7,89.3 508.3,90.1" fill="#492c76" stroke="#492c76"/><polygon points="508.3,90.1 504.7,89.3 504.7,92.2 508.3,93.0" fill="#402f7d" stroke="#402f7d"/><polygon points="508.3,93.0 504.7,92.2 504.7,94.7 508.3,95.5" fill="#383283" stroke="#383283"/><polygon points="508.3,95.5 504.7,94.7 504.7,96.9 508.3,97.8" fill="#353385" stroke="#353385"/><polygon points="508.3,97.8 504.7,96.9 504.7,98.7 508.3,99.6" fill="#343385" stroke="#343385"/><polygon points="508.3,99.6 504.7,98.7 504.7,100.1 508.3,101.0" fill="#323285" stroke="#323285"/><polygon points="508.3,101.0 504.7,100.1 504.7,100.9 508.3,101.8" fill="#313285" stroke="#313285"/><polygon points="508.3,101.8 504.7,100.9 504.7,101.2 508.3,102.1" fill="#303284" stroke="#303284"/><polygon points="411.5,93.4 408.0,92.5 401.0,96.8 404.5,97.7" fill="#2f3e99" stroke="#2f3e99"/><polygon points="547.1,33.3 543.5,32.8 542.3,34.2 545.9,34.6" fill="#881f24" stroke="#881f24"/><polygon points="494.7,101.0 491.1,100.0 489.7,100.9 493.3,101.7" fill="#2f3387" stroke="#2f3387"/><polygon points="522.9,38.9 519.3,38.5 518.7,39.4 522.3,39.7" fill="#c52228" stroke="#c52228"/><polygon points="452.3,96.5 448.7,95.5 445.9,97.1 449.5,98.1" fill="#2e3a94" stroke="#2e3a94"/><polygon points="542.3,34.2 538.6,33.8 537.4,35.2 541.0,35.7" fill="#942127" stroke="#942127"/><polygon points="518.1,40.3 514.4,40.0 513.8,40.9 517.5,41.2" fill="#ce2229" stroke="#ce2229"/><polygon points="537.4,35.2 533.8,34.8 532.6,36.4 536.2,36.8" fill="#a12228" stroke="#a12228"/><polygon points="513.2,41.8 509.6,41.6 509.0,42.5 512.6,42.8" fill="#d0242a" stroke="#d0242a"/><polygon points="532.6,36.4 529.0,35.9 527.7,37.5 531.4,37.9" fill="#af2228" stroke="#af2228"/><polygon points="489.7,100.9 486.0,100.0 484.6,100.5 488.3,101.4" fill="#2f3388" stroke="#2f3388"/><polygon points="476.0,99.2 472.4,98.1 469.6,99.2 473.2,100.3" fill="#2e358d" stroke="#2e358d"/><polygon points="527.7,37.5 524.1,37.1 522.9,38.9 526.5,39.2" fill="#bc2228" stroke="#bc2228"/><polygon points="484.6,100.5 481.0,99.6 479.6,100.2 483.3,101.1" fill="#2f348a" stroke="#2f348a"/><polygon points="442.3,96.2 438.8,95.2 436.0,96.8 439.5,97.8" fill="#2f3b95" stroke="#2f3b95"/><polygon points="522.3,39.7 518.7,39.4 518.1,40.3 521.7,40.6" fill="#c92229" stroke="#c92229"/><polygon points="508.3,102.1 504.7,101.2 503.3,102.1 506.9,102.9" fill="#2f3284" stroke="#2f3284"/><polygon points="517.5,41.2 513.8,40.9 513.2,41.8 516.8,42.1" fill="#cf232a" stroke="#cf232a"/><polygon points="466.0,98.2 462.4,97.2 459.6,98.4 463.2,99.4" fill="#2e3791" stroke="#2e3791"/><polygon points="512.6,42.8 509.0,42.5 508.4,43.5 512.0,43.7" fill="#d0252b" stroke="#d0252b"/><polygon points="386.8,93.4 383.2,92.6 376.1,97.2 379.7,98.0" fill="#2f3e99" stroke="#2f3e99"/><polygon points="503.3,102.1 499.7,101.1 498.3,101.9 501.9,102.7" fill="#2f3285" stroke="#2f3285"/><polygon points="432.3,96.0 428.6,95.2 425.8,96.8 429.5,97.6" fill="#2f3c96" stroke="#2f3c96"/><polygon points="512.0,43.7 508.4,43.5 508.4,43.8 512.0,44.0" fill="#d0252c" stroke="#d0252c"/><polygon points="512.0,44.0 508.4,43.8 508.4,44.7 512.0,44.8" fill="#ce222d" stroke="#ce222d"/><polygon points="512.0,44.8 508.4,44.7 508.4,46.0 512.0,46.2" fill="#cb1f2e" stroke="#cb1f2e"/><polygon points="512.0,46.2 508.4,46.0 508.4,47.8 512.0,48.1" fill="#c41f2e" stroke="#c41f2e"/><polygon points="555.6,33.0 552.0,32.5 550.7,33.7 554.4,34.2" fill="#7c1c21" stroke="#7c1c21"/><polygon points="512.0,48.1 508.4,47.8 508.4,50.1 512.0,50.3" fill="#bc1f2d" stroke="#bc1f2d"/><polygon points="512.0,50.3 508.4,50.1 508.4,52.7 512.0,53.0" fill="#b41e2c" stroke="#b41e2c"/><polygon points="512.0,53.0 508.4,52.7 508.4,55.6 512.0,55.9" fill="#ac1e2f" stroke="#ac1e2f"/><polygon points="512.0,55.9 508.4,55.6 508.4,58.7 512.0,59.1" fill="#a21e34" stroke="#a21e34"/><polygon points="512.0,59.1 508.4,58.7 508.4,62.1 512.0,62.4" fill="#991e39" stroke="#991e39"/><polygon points="512.0,62.4 508.4,62.1 508.4,65.6 512.0,66.0" fill="#901d3e" stroke="#901d3e"/><polygon points="512.0,66.0 508.4,65.6 508.4,69.2 512.0,69.6" fill="#861e45" stroke="#861e45"/><polygon points="512.0,69.6 508.4,69.2 508.4,72.8 512.0,73.3" fill="#7b204e" stroke="#7b204e"/><polygon points="512.0,73.3 508.4,72.8 508.4,76.5 512.0,77.0" fill="#702256" stroke="#702256"/><polygon points="512.0,77.0 508.4,76.5 508.3,80.1 512.0,80.7" fill="#65245f" stroke="#65245f"/><polygon points="512.0,80.7 508.3,80.1 508.3,83.6 512.0,84.2" fill="#5a2667" stroke="#5a2667"/><polygon points="512.0,84.2 508.3,83.6 508.3,86.9 512.0,87.6" fill="#51296e" stroke="#51296e"/><polygon points="512.0,87.6 508.3,86.9 508.3,90.1 512.0,90.8" fill="#492c75" stroke="#492c75"/><polygon points="512.0,90.8 508.3,90.1 508.3,93.0 512.0,93.7" fill="#402f7c" stroke="#402f7c"/><polygon points="512.0,93.7 508.3,93.0 508.3,95.5 512.0,96.3" fill="#383283" stroke="#383283"/><polygon points="512.0,96.3 508.3,95.5 508.3,97.8 512.0,98.6" fill="#353284" stroke="#353284"/><polygon points="512.0,98.6 508.3,97.8 508.3,99.6 511.9,100.4" fill="#343284" stroke="#343284"/><polygon points="511.9,100.4 508.3,99.6 508.3,101.0 511.9,101.8" fill="#323284" stroke="#323284"/><polygon points="511.9,101.8 508.3,101.0 508.3,101.8 511.9,102.7" fill="#313284" stroke="#313284"/><polygon points="511.9,102.7 508.3,101.8 508.3,102.1 511.9,103.0" fill="#303283" stroke="#303283"/><polygon points="550.7,33.7 547.1,33.3 545.9,34.6 549.5,35.0" fill="#861e23" stroke="#861e23"/><polygon points="498.3,101.9 494.7,101.0 493.3,101.7 496.9,102.6" fill="#2f3286" stroke="#2f3286"/><polygon points="526.5,39.2 522.9,38.9 522.3,39.7 525.9,40.1" fill="#c42228" stroke="#c42228"/><polygon points="545.9,34.6 542.3,34.2 541.0,35.7 544.7,36.1" fill="#932126" stroke="#932126"/><polygon points="456.0,97.4 452.3,96.5 449.5,98.1 453.2,99.0" fill="#2e3993" stroke="#2e3993"/><polygon points="415.0,94.3 411.5,93.4 404.5,97.7 408.0,98.5" fill="#2f3d98" stroke="#2f3d98"/><polygon points="521.7,40.6 518.1,40.3 517.5,41.2 521.1,41.5" fill="#cd2229" stroke="#cd2229"/><polygon points="541.0,35.7 537.4,35.2 536.2,36.8 539.8,37.2" fill="#a02228" stroke="#a02228"/><polygon points="516.8,42.1 513.2,41.8 512.6,42.8 516.2,43.0" fill="#d0242a" stroke="#d0242a"/><polygon points="536.2,36.8 532.6,36.4 531.4,37.9 535.0,38.3" fill="#ad2228" stroke="#ad2228"/><polygon points="493.3,101.7 489.7,100.9 488.3,101.4 491.9,102.3" fill="#2f3387" stroke="#2f3387"/><polygon points="479.6,100.2 476.0,99.2 473.2,100.3 476.8,101.3" fill="#2e348b" stroke="#2e348b"/><polygon points="531.4,37.9 527.7,37.5 526.5,39.2 530.1,39.6" fill="#bb2228" stroke="#bb2228"/><polygon points="488.3,101.4 484.6,100.5 483.3,101.1 486.9,102.0" fill="#2f3388" stroke="#2f3388"/><polygon points="445.9,97.1 442.3,96.2 439.5,97.8 443.1,98.7" fill="#2e3a94" stroke="#2e3a94"/><polygon points="525.9,40.1 522.3,39.7 521.7,40.6 525.3,41.0" fill="#c82229" stroke="#c82229"/><polygon points="511.9,103.0 508.3,102.1 506.9,102.9 510.6,103.8" fill="#2f3283" stroke="#2f3283"/><polygon points="521.1,41.5 517.5,41.2 516.8,42.1 520.5,42.4" fill="#cf2229" stroke="#cf2229"/><polygon points="469.6,99.2 466.0,98.2 463.2,99.4 466.8,100.4" fill="#2e368f" stroke="#2e368f"/><polygon points="516.2,43.0 512.6,42.8 512.0,43.7 515.6,43.9" fill="#d0252b" stroke="#d0252b"/><polygon points="506.9,102.9 503.3,102.1 501.9,102.7 505.5,103.6" fill="#2f3284" stroke="#2f3284"/><polygon points="390.3,94.3 386.8,93.4 379.7,98.0 383.3,98.7" fill="#2f3e99" stroke="#2f3e99"/><polygon points="436.0,96.8 432.3,96.0 429.5,97.6 433.2,98.4" fill="#2f3b96" stroke="#2f3b96"/><polygon points="515.6,43.9 512.0,43.7 512.0,44.0 515.6,44.2" fill="#cf242c" stroke="#cf242c"/><polygon points="515.6,44.2 512.0,44.0 512.0,44.8 515.6,45.0" fill="#ce212d" stroke="#ce212d"/><polygon points="515.6,45.0 512.0,44.8 512.0,46.0 515.6,46.3" fill="#cc1f2e" stroke="#cc1f2e"/><polygon points="515.6,46.3 512.0,46.0 512.0,47.8 515.6,48.0" fill="#c41e2d" stroke="#c41e2d"/><polygon points="515.6,48.0 512.0,47.8 512.0,49.9 515.6,50.1" fill="#bd1e2d" stroke="#bd1e2d"/><polygon points="515.6,50.1 512.0,49.9 512.0,52.3 515.6,52.6" fill="#b61e2c" stroke="#b61e2c"/><polygon points="515.6,52.6 512.0,52.3 512.0,55.0 515.6,55.4" fill="#ae1e2d" stroke="#ae1e2d"/><polygon points="515.6,55.4 512.0,55.0 512.0,58.0 515.6,58.4" fill="#a51d32" stroke="#a51d32"/><polygon points="515.6,58.4 512.0,58.0 512.0,61.2 515.6,61.6" fill="#9c1d37" stroke="#9c1d37"/><polygon points="515.6,61.6 512.0,61.2 512.0,64.6 515.6,65.0" fill="#931d3c" stroke="#931d3c"/><polygon points="515.6,65.0 512.0,64.6 512.0,68.0 515.6,68.5" fill="#8a1d41" stroke="#8a1d41"/><polygon points="515.6,68.5 512.0,68.0 512.0,71.6 515.6,72.1" fill="#801f49" stroke="#801f49"/><polygon points="515.6,72.1 512.0,71.6 512.0,75.1 515.6,75.6" fill="#752051" stroke="#752051"/><polygon points="515.6,75.6 512.0,75.1 512.0,78.6 515.6,79.2" fill="#6b225a" stroke="#6b225a"/><polygon points="515.6,79.2 512.0,78.6 512.0,82.1 515.6,82.7" fill="#602462" stroke="#602462"/><polygon points="515.6,82.7 512.0,82.1 512.0,85.4 515.6,86.1" fill="#572769" stroke="#572769"/><polygon points="515.6,86.1 512.0,85.4 512.0,88.6 515.6,89.3" fill="#4e2a70" stroke="#4e2a70"/><polygon points="515.6,89.3 512.0,88.6 512.0,91.6 515.6,92.3" fill="#462c76" stroke="#462c76"/><polygon points="515.6,92.3 512.0,91.6 512.0,94.4 515.6,95.1" fill="#3e2f7d" stroke="#3e2f7d"/><polygon points="515.6,95.1 512.0,94.4 512.0,96.8 515.6,97.6" fill="#363283" stroke="#363283"/><polygon points="515.6,97.6 512.0,96.8 512.0,98.9 515.6,99.7" fill="#353283" stroke="#353283"/><polygon points="515.6,99.7 512.0,98.9 511.9,100.6 515.6,101.4" fill="#343283" stroke="#343283"/><polygon points="515.6,101.4 511.9,100.6 511.9,101.9 515.6,102.7" fill="#323283" stroke="#323283"/><polygon points="515.6,102.7 511.9,101.9 511.9,102.7 515.6,103.5" fill="#313283" stroke="#313283"/><polygon points="515.6,103.5 511.9,102.7 511.9,103.0 515.6,103.8" fill="#303182" stroke="#303182"/><polygon points="554.4,34.2 550.7,33.7 549.5,35.0 553.1,35.4" fill="#851e23" stroke="#851e23"/><polygon points="501.9,102.7 498.3,101.9 496.9,102.6 500.5,103.4" fill="#2f3285" stroke="#2f3285"/><polygon points="530.1,39.6 526.5,39.2 525.9,40.1 529.5,40.4" fill="#c32228" stroke="#c32228"/><polygon points="549.5,35.0 545.9,34.6 544.7,36.1 548.3,36.5" fill="#912026" stroke="#912026"/><polygon points="459.6,98.4 456.0,97.4 453.2,99.0 456.8,100.0" fill="#2e3892" stroke="#2e3892"/><polygon points="525.3,41.0 521.7,40.6 521.1,41.5 524.7,41.8" fill="#cb2229" stroke="#cb2229"/><polygon points="544.7,36.1 541.0,35.7 539.8,37.2 543.5,37.6" fill="#9e2228" stroke="#9e2228"/><polygon points="520.5,42.4 516.8,42.1 516.2,43.0 519.9,43.2" fill="#d0232a" stroke="#d0232a"/><polygon points="418.6,95.2 415.0,94.3 408.0,98.5 411.6,99.4" fill="#2f3c97" stroke="#2f3c97"/><polygon points="539.8,37.2 536.2,36.8 535.0,38.3 538.6,38.7" fill="#ab2228" stroke="#ab2228"/><polygon points="496.9,102.6 493.3,101.7 491.9,102.3 495.5,103.2" fill="#2f3286" stroke="#2f3286"/><polygon points="483.3,101.1 479.6,100.2 476.8,101.3 480.5,102.3" fill="#2f348a" stroke="#2f348a"/><polygon points="535.0,38.3 531.4,37.9 530.1,39.6 533.8,40.0" fill="#b92228" stroke="#b92228"/><polygon points="491.9,102.3 488.3,101.4 486.9,102.0 490.5,102.9" fill="#2f3387" stroke="#2f3387"/><polygon points="449.5,98.1 445.9,97.1 443.1,98.7 446.8,99.6" fill="#2e3993" stroke="#2e3993"/><polygon points="529.5,40.4 525.9,40.1 525.3,41.0 528.9,41.3" fill="#c62228" stroke="#c62228"/><polygon points="515.6,103.8 511.9,103.0 510.6,103.8 514.2,104.6" fill="#2f3182" stroke="#2f3182"/><polygon points="524.7,41.8 521.1,41.5 520.5,42.4 524.1,42.7" fill="#ce2229" stroke="#ce2229"/><polygon points="473.2,100.3 469.6,99.2 466.8,100.4 470.4,101.4" fill="#2e358e" stroke="#2e358e"/><polygon points="519.9,43.2 516.2,43.0 515.6,43.9 519.2,44.1" fill="#d0242a" stroke="#d0242a"/><polygon points="510.6,103.8 506.9,102.9 505.5,103.6 509.2,104.4" fill="#2f3283" stroke="#2f3283"/><polygon points="439.5,97.8 436.0,96.8 433.2,98.4 436.7,99.4" fill="#2e3a95" stroke="#2e3a95"/><polygon points="393.9,95.1 390.3,94.3 383.3,98.7 386.9,99.5" fill="#2f3d98" stroke="#2f3d98"/><polygon points="519.2,44.1 515.6,43.9 515.6,44.2 519.2,44.4" fill="#cf242b" stroke="#cf242b"/><polygon points="519.2,44.4 515.6,44.2 515.6,45.0 519.2,45.2" fill="#cd212c" stroke="#cd212c"/><polygon points="519.2,45.2 515.6,45.0 515.6,46.3 519.2,46.5" fill="#cc1e2e" stroke="#cc1e2e"/><polygon points="519.2,46.5 515.6,46.3 515.6,48.0 519.2,48.3" fill="#c41e2d" stroke="#c41e2d"/><polygon points="519.2,48.3 515.6,48.0 515.6,50.1 519.2,50.4" fill="#bd1e2c" stroke="#bd1e2c"/><polygon points="519.2,50.4 515.6,50.1 515.6,52.6 519.2,52.9" fill="#b61d2c" stroke="#b61d2c"/><polygon points="519.2,52.9 515.6,52.6 515.6,55.4 519.2,55.7" fill="#ae1d2c" stroke="#ae1d2c"/><polygon points="519.2,55.7 515.6,55.4 515.6,58.4 519.2,58.7" fill="#a51d31" stroke="#a51d31"/><polygon points="519.2,58.7 515.6,58.4 515.6,61.6 519.2,62.0" fill="#9c1d36" stroke="#9c1d36"/><polygon points="519.2,62.0 515.6,61.6 515.6,65.0 519.2,65.4" fill="#931c3b" stroke="#931c3b"/><polygon points="519.2,65.4 515.6,65.0 515.6,68.5 519.2,69.0" fill="#8a1c40" stroke="#8a1c40"/><polygon points="519.2,69.0 515.6,68.5 515.6,72.1 519.2,72.6" fill="#801e49" stroke="#801e49"/><polygon points="519.2,72.6 515.6,72.1 515.6,75.6 519.2,76.2" fill="#752051" stroke="#752051"/><polygon points="519.2,76.2 515.6,75.6 515.6,79.2 519.2,79.8" fill="#6a2259" stroke="#6a2259"/><polygon points="519.2,79.8 515.6,79.2 515.6,82.7 519.2,83.3" fill="#602461" stroke="#602461"/><polygon points="519.2,83.3 515.6,82.7 515.6,86.1 519.2,86.8" fill="#562669" stroke="#562669"/><polygon points="519.2,86.8 515.6,86.1 515.6,89.3 519.2,90.0" fill="#4e296f" stroke="#4e296f"/><polygon points="519.2,90.0 515.6,89.3 515.6,92.3 519.2,93.1" fill="#462c75" stroke="#462c75"/><polygon points="519.2,93.1 515.6,92.3 515.6,95.1 519.2,95.8" fill="#3e2f7c" stroke="#3e2f7c"/><polygon points="519.2,95.8 515.6,95.1 515.6,97.6 519.2,98.3" fill="#363282" stroke="#363282"/><polygon points="519.2,98.3 515.6,97.6 515.6,99.7 519.2,100.5" fill="#353282" stroke="#353282"/><polygon points="519.2,100.5 515.6,99.7 515.6,101.4 519.2,102.2" fill="#343282" stroke="#343282"/><polygon points="519.2,102.2 515.6,101.4 515.6,102.7 519.2,103.5" fill="#323182" stroke="#323182"/><polygon points="519.2,103.5 515.6,102.7 515.6,103.5 519.2,104.3" fill="#313182" stroke="#313182"/><polygon points="519.2,104.3 515.6,103.5 515.6,103.8 519.2,104.6" fill="#303181" stroke="#303181"/><polygon points="505.5,103.6 501.9,102.7 500.5,103.4 504.1,104.2" fill="#2f3284" stroke="#2f3284"/><polygon points="533.8,40.0 530.1,39.6 529.5,40.4 533.2,40.8" fill="#c12228" stroke="#c12228"/><polygon points="553.1,35.4 549.5,35.0 548.3,36.5 551.9,36.8" fill="#8f2025" stroke="#8f2025"/><polygon points="463.2,99.4 459.6,98.4 456.8,100.0 460.4,100.9" fill="#2e3790" stroke="#2e3790"/><polygon points="528.9,41.3 525.3,41.0 524.7,41.8 528.3,42.1" fill="#ca2229" stroke="#ca2229"/><polygon points="548.3,36.5 544.7,36.1 543.5,37.6 547.1,37.9" fill="#9c2228" stroke="#9c2228"/><polygon points="524.1,42.7 520.5,42.4 519.9,43.2 523.5,43.5" fill="#cf232a" stroke="#cf232a"/><polygon points="543.5,37.6 539.8,37.2 538.6,38.7 542.2,39.1" fill="#a92228" stroke="#a92228"/><polygon points="422.2,96.0 418.6,95.2 411.6,99.4 415.2,100.2" fill="#2f3c96" stroke="#2f3c96"/><polygon points="500.5,103.4 496.9,102.6 495.5,103.2 499.1,104.0" fill="#2f3285" stroke="#2f3285"/><polygon points="486.9,102.0 483.3,101.1 480.5,102.3 484.1,103.2" fill="#2f3389" stroke="#2f3389"/><polygon points="538.6,38.7 535.0,38.3 533.8,40.0 537.4,40.3" fill="#b72228" stroke="#b72228"/><polygon points="495.5,103.2 491.9,102.3 490.5,102.9 494.1,103.8" fill="#2f3386" stroke="#2f3386"/><polygon points="453.2,99.0 449.5,98.1 446.8,99.6 450.4,100.6" fill="#2e3892" stroke="#2e3892"/><polygon points="533.2,40.8 529.5,40.4 528.9,41.3 532.5,41.6" fill="#c52228" stroke="#c52228"/><polygon points="519.2,104.6 515.6,103.8 514.2,104.6 517.8,105.4" fill="#303181" stroke="#303181"/><polygon points="528.3,42.1 524.7,41.8 524.1,42.7 527.7,42.9" fill="#cd2229" stroke="#cd2229"/><polygon points="476.8,101.3 473.2,100.3 470.4,101.4 474.1,102.5" fill="#2e348c" stroke="#2e348c"/><polygon points="523.5,43.5 519.9,43.2 519.2,44.1 522.9,44.3" fill="#d0242a" stroke="#d0242a"/><polygon points="514.2,104.6 510.6,103.8 509.2,104.4 512.8,105.2" fill="#303182" stroke="#303182"/><polygon points="368.9,95.9 365.3,95.2 358.3,99.5 361.9,100.2" fill="#2f3c97" stroke="#2f3c97"/><polygon points="443.1,98.7 439.5,97.8 436.7,99.4 440.4,100.3" fill="#2e3994" stroke="#2e3994"/><polygon points="397.4,96.0 393.9,95.1 386.9,99.5 390.4,100.3" fill="#2f3c97" stroke="#2f3c97"/><polygon points="522.9,44.3 519.2,44.1 519.2,44.4 522.9,44.6" fill="#cf232b" stroke="#cf232b"/><polygon points="522.9,44.6 519.2,44.4 519.2,45.2 522.9,45.5" fill="#cd202c" stroke="#cd202c"/><polygon points="522.9,45.5 519.2,45.2 519.2,46.5 522.9,46.8" fill="#cc1e2d" stroke="#cc1e2d"/><polygon points="522.9,46.8 519.2,46.5 519.2,48.3 522.9,48.5" fill="#c41d2d" stroke="#c41d2d"/><polygon points="522.9,48.5 519.2,48.3 519.2,50.4 522.9,50.7" fill="#bd1d2c" stroke="#bd1d2c"/><polygon points="522.9,50.7 519.2,50.4 519.2,52.9 522.9,53.2" fill="#b51d2b" stroke="#b51d2b"/><polygon points="522.9,53.2 519.2,52.9 519.2,55.7 522.9,56.0" fill="#ae1d2c" stroke="#ae1d2c"/><polygon points="522.9,56.0 519.2,55.7 519.2,58.7 522.8,59.1" fill="#a51c31" stroke="#a51c31"/><polygon points="522.8,59.1 519.2,58.7 519.2,62.0 522.8,62.4" fill="#9c1c36" stroke="#9c1c36"/><polygon points="522.8,62.4 519.2,62.0 519.2,65.4 522.8,65.9" fill="#931c3b" stroke="#931c3b"/><polygon points="522.8,65.9 519.2,65.4 519.2,69.0 522.8,69.4" fill="#8a1c40" stroke="#8a1c40"/><polygon points="522.8,69.4 519.2,69.0 519.2,72.6 522.8,73.1" fill="#801e48" stroke="#801e48"/><polygon points="522.8,73.1 519.2,72.6 519.2,76.2 522.8,76.7" fill="#752050" stroke="#752050"/><polygon points="522.8,76.7 519.2,76.2 519.2,79.8 522.8,80.4" fill="#6a2258" stroke="#6a2258"/><polygon points="522.8,80.4 519.2,79.8 519.2,83.3 522.8,83.9" fill="#602461" stroke="#602461"/><polygon points="522.8,83.9 519.2,83.3 519.2,86.8 522.8,87.4" fill="#562668" stroke="#562668"/><polygon points="522.8,87.4 519.2,86.8 519.2,90.0 522.8,90.7" fill="#4e296e" stroke="#4e296e"/><polygon points="522.8,90.7 519.2,90.0 519.2,93.1 522.8,93.8" fill="#462c75" stroke="#462c75"/><polygon points="522.8,93.8 519.2,93.1 519.2,95.8 522.8,96.6" fill="#3e2f7b" stroke="#3e2f7b"/><polygon points="522.8,96.6 519.2,95.8 519.2,98.3 522.8,99.1" fill="#363182" stroke="#363182"/><polygon points="522.8,99.1 519.2,98.3 519.2,100.5 522.8,101.3" fill="#353181" stroke="#353181"/><polygon points="522.8,101.3 519.2,100.5 519.2,102.2 522.8,103.0" fill="#343181" stroke="#343181"/><polygon points="522.8,103.0 519.2,102.2 519.2,103.5 522.8,104.3" fill="#333181" stroke="#333181"/><polygon points="522.8,104.3 519.2,103.5 519.2,104.3 522.8,105.2" fill="#313181" stroke="#313181"/><polygon points="522.8,105.2 519.2,104.3 519.2,104.6 522.8,105.4" fill="#303180" stroke="#303180"/><polygon points="509.2,104.4 505.5,103.6 504.1,104.2 507.8,105.0" fill="#2f3283" stroke="#2f3283"/><polygon points="537.4,40.3 533.8,40.0 533.2,40.8 536.8,41.1" fill="#c02228" stroke="#c02228"/><polygon points="466.8,100.4 463.2,99.4 460.4,100.9 464.0,101.9" fill="#2e368f" stroke="#2e368f"/><polygon points="532.5,41.6 528.9,41.3 528.3,42.1 531.9,42.4" fill="#c82229" stroke="#c82229"/><polygon points="551.9,36.8 548.3,36.5 547.1,37.9 550.7,38.3" fill="#9a2127" stroke="#9a2127"/><polygon points="527.7,42.9 524.1,42.7 523.5,43.5 527.1,43.8" fill="#cf2229" stroke="#cf2229"/><polygon points="425.8,96.8 422.2,96.0 415.2,100.2 418.9,100.9" fill="#2f3b96" stroke="#2f3b96"/><polygon points="547.1,37.9 543.5,37.6 542.2,39.1 545.9,39.4" fill="#a72228" stroke="#a72228"/><polygon points="504.1,104.2 500.5,103.4 499.1,104.0 502.8,104.8" fill="#2f3284" stroke="#2f3284"/><polygon points="490.5,102.9 486.9,102.0 484.1,103.2 487.7,104.1" fill="#2f3387" stroke="#2f3387"/><polygon points="542.2,39.1 538.6,38.7 537.4,40.3 541.0,40.7" fill="#b52228" stroke="#b52228"/><polygon points="499.1,104.0 495.5,103.2 494.1,103.8 497.7,104.6" fill="#2f3285" stroke="#2f3285"/><polygon points="456.8,100.0 453.2,99.0 450.4,100.6 454.0,101.5" fill="#2e3791" stroke="#2e3791"/><polygon points="536.8,41.1 533.2,40.8 532.5,41.6 536.2,41.9" fill="#c42228" stroke="#c42228"/><polygon points="522.8,105.4 519.2,104.6 517.8,105.4 521.4,106.2" fill="#303180" stroke="#303180"/><polygon points="531.9,42.4 528.3,42.1 527.7,42.9 531.3,43.2" fill="#cc2229" stroke="#cc2229"/><polygon points="480.5,102.3 476.8,101.3 474.1,102.5 477.7,103.5" fill="#2e348b" stroke="#2e348b"/><polygon points="527.1,43.8 523.5,43.5 522.9,44.3 526.5,44.6" fill="#d0232a" stroke="#d0232a"/><polygon points="517.8,105.4 514.2,104.6 512.8,105.2 516.4,106.0" fill="#303181" stroke="#303181"/><polygon points="372.5,96.5 368.9,95.9 361.9,100.2 365.5,100.8" fill="#2f3c97" stroke="#2f3c97"/><polygon points="446.8,99.6 443.1,98.7 440.4,100.3 444.0,101.2" fill="#2e3892" stroke="#2e3892"/><polygon points="526.5,44.6 522.9,44.3 522.9,44.6 526.5,44.9" fill="#cf232b" stroke="#cf232b"/><polygon points="526.5,44.9 522.9,44.6 522.9,45.5 526.5,45.7" fill="#cd202c" stroke="#cd202c"/><polygon points="526.5,45.7 522.9,45.5 522.9,46.8 526.5,47.1" fill="#cb1d2d" stroke="#cb1d2d"/><polygon points="526.5,47.1 522.9,46.8 522.9,48.5 526.5,48.8" fill="#c41d2c" stroke="#c41d2c"/><polygon points="526.5,48.8 522.9,48.5 522.9,50.7 526.5,51.0" fill="#bd1d2b" stroke="#bd1d2b"/><polygon points="526.5,51.0 522.9,50.7 522.9,53.2 526.5,53.6" fill="#b51d2b" stroke="#b51d2b"/><polygon points="526.5,53.6 522.9,53.2 522.9,56.0 526.5,56.4" fill="#ae1c2b" stroke="#ae1c2b"/><polygon points="526.5,56.4 522.9,56.0 522.8,59.1 526.5,59.5" fill="#a51c30" stroke="#a51c30"/><polygon points="526.5,59.5 522.8,59.1 522.8,62.4 526.5,62.8" fill="#9c1c35" stroke="#9c1c35"/><polygon points="526.5,62.8 522.8,62.4 522.8,65.9 526.5,66.3" fill="#931c3a" stroke="#931c3a"/><polygon points="526.5,66.3 522.8,65.9 522.8,69.4 526.5,69.9" fill="#8a1b3f" stroke="#8a1b3f"/><polygon points="526.5,69.9 522.8,69.4 522.8,73.1 526.5,73.6" fill="#801d47" stroke="#801d47"/><polygon points="526.5,73.6 522.8,73.1 522.8,76.7 526.5,77.3" fill="#751f50" stroke="#751f50"/><polygon points="526.5,77.3 522.8,76.7 522.8,80.4 526.5,80.9" fill="#6a2158" stroke="#6a2158"/><polygon points="526.5,80.9 522.8,80.4 522.8,83.9 526.5,84.5" fill="#602360" stroke="#602360"/><polygon points="526.5,84.5 522.8,83.9 522.8,87.4 526.4,88.0" fill="#562667" stroke="#562667"/><polygon points="526.4,88.0 522.8,87.4 522.8,90.7 526.4,91.3" fill="#4e296e" stroke="#4e296e"/><polygon points="526.4,91.3 522.8,90.7 522.8,93.8 526.4,94.4" fill="#462b74" stroke="#462b74"/><polygon points="526.4,94.4 522.8,93.8 522.8,96.6 526.4,97.3" fill="#3e2e7a" stroke="#3e2e7a"/><polygon points="526.4,97.3 522.8,96.6 522.8,99.1 526.4,99.8" fill="#363181" stroke="#363181"/><polygon points="526.4,99.8 522.8,99.1 522.8,101.3 526.4,102.0" fill="#353181" stroke="#353181"/><polygon points="526.4,102.0 522.8,101.3 522.8,103.0 526.4,103.8" fill="#343180" stroke="#343180"/><polygon points="526.4,103.8 522.8,103.0 522.8,104.3 526.4,105.1" fill="#333180" stroke="#333180"/><polygon points="526.4,105.1 522.8,104.3 522.8,105.2 526.4,105.9" fill="#313180" stroke="#313180"/><polygon points="401.0,96.8 397.4,96.0 390.4,100.3 394.0,101.1" fill="#2f3c97" stroke="#2f3c97"/><polygon points="526.4,105.9 522.8,105.2 522.8,105.4 526.4,106.2" fill="#303180" stroke="#303180"/><polygon points="512.8,105.2 509.2,104.4 507.8,105.0 511.4,105.8" fill="#2f3182" stroke="#2f3182"/><polygon points="541.0,40.7 537.4,40.3 536.8,41.1 540.4,41.5" fill="#be2228" stroke="#be2228"/><polygon points="470.4,101.4 466.8,100.4 464.0,101.9 467.7,102.9" fill="#2e358e" stroke="#2e358e"/><polygon points="536.2,41.9 532.5,41.6 531.9,42.4 535.6,42.8" fill="#c72228" stroke="#c72228"/><polygon points="429.5,97.6 425.8,96.8 418.9,100.9 422.6,101.7" fill="#2e3a95" stroke="#2e3a95"/><polygon points="531.3,43.2 527.7,42.9 527.1,43.8 530.7,44.1" fill="#ce2229" stroke="#ce2229"/><polygon points="550.7,38.3 547.1,37.9 545.9,39.4 549.5,39.8" fill="#a52228" stroke="#a52228"/><polygon points="507.8,105.0 504.1,104.2 502.8,104.8 506.4,105.7" fill="#2f3283" stroke="#2f3283"/><polygon points="494.1,103.8 490.5,102.9 487.7,104.1 491.3,105.0" fill="#2f3386" stroke="#2f3386"/><polygon points="545.9,39.4 542.2,39.1 541.0,40.7 544.6,41.0" fill="#b32228" stroke="#b32228"/><polygon points="502.8,104.8 499.1,104.0 497.7,104.6 501.4,105.5" fill="#2f3284" stroke="#2f3284"/><polygon points="460.4,100.9 456.8,100.0 454.0,101.5 457.6,102.5" fill="#2e3690" stroke="#2e3690"/><polygon points="540.4,41.5 536.8,41.1 536.2,41.9 539.8,42.3" fill="#c22228" stroke="#c22228"/><polygon points="526.4,106.2 522.8,105.4 521.4,106.2 525.0,106.9" fill="#30307f" stroke="#30307f"/><polygon points="535.6,42.8 531.9,42.4 531.3,43.2 535.0,43.6" fill="#ca2229" stroke="#ca2229"/><polygon points="484.1,103.2 480.5,102.3 477.7,103.5 481.3,104.4" fill="#2f3389" stroke="#2f3389"/><polygon points="530.7,44.1 527.1,43.8 526.5,44.6 530.1,44.9" fill="#cf232a" stroke="#cf232a"/><polygon points="521.4,106.2 517.8,105.4 516.4,106.0 520.0,106.7" fill="#303180" stroke="#303180"/><polygon points="376.1,97.2 372.5,96.5 365.5,100.8 369.1,101.5" fill="#2f3c97" stroke="#2f3c97"/><polygon points="450.4,100.6 446.8,99.6 444.0,101.2 447.6,102.2" fill="#2e3891" stroke="#2e3891"/><polygon points="530.1,44.9 526.5,44.6 526.5,44.9 530.1,45.2" fill="#cf222a" stroke="#cf222a"/><polygon points="530.1,45.2 526.5,44.9 526.5,45.7 530.1,46.0" fill="#cd1f2b" stroke="#cd1f2b"/><polygon points="530.1,46.0 526.5,45.7 526.5,47.1 530.1,47.3" fill="#cb1d2d" stroke="#cb1d2d"/><polygon points="530.1,47.3 526.5,47.1 526.5,48.8 530.1,49.1" fill="#c41d2c" stroke="#c41d2c"/><polygon points="530.1,49.1 526.5,48.8 526.5,51.0 530.1,51.3" fill="#bd1c2b" stroke="#bd1c2b"/><polygon points="530.1,51.3 526.5,51.0 526.5,53.6 530.1,53.9" fill="#b51c2a" stroke="#b51c2a"/><polygon points="530.1,53.9 526.5,53.6 526.5,56.4 530.1,56.8" fill="#ad1c2b" stroke="#ad1c2b"/><polygon points="530.1,56.8 526.5,56.4 526.5,59.5 530.1,59.9" fill="#a51c30" stroke="#a51c30"/><polygon points="530.1,59.9 526.5,59.5 526.5,62.8 530.1,63.2" fill="#9c1b35" stroke="#9c1b35"/><polygon points="530.1,63.2 526.5,62.8 526.5,66.3 530.1,66.7" fill="#931b3a" stroke="#931b3a"/><polygon points="530.1,66.7 526.5,66.3 526.5,69.9 530.1,70.3" fill="#8a1b3f" stroke="#8a1b3f"/><polygon points="530.1,70.3 526.5,69.9 526.5,73.6 530.1,74.0" fill="#801d47" stroke="#801d47"/><polygon points="530.1,74.0 526.5,73.6 526.5,77.3 530.1,77.8" fill="#751f4f" stroke="#751f4f"/><polygon points="530.1,77.8 526.5,77.3 526.5,80.9 530.1,81.5" fill="#6a2157" stroke="#6a2157"/><polygon points="530.1,81.5 526.5,80.9 526.5,84.5 530.1,85.1" fill="#60235f" stroke="#60235f"/><polygon points="530.1,85.1 526.5,84.5 526.4,88.0 530.1,88.6" fill="#562567" stroke="#562567"/><polygon points="530.1,88.6 526.4,88.0 526.4,91.3 530.1,91.9" fill="#4e286d" stroke="#4e286d"/><polygon points="530.1,91.9 526.4,91.3 526.4,94.4 530.1,95.0" fill="#462b73" stroke="#462b73"/><polygon points="530.1,95.0 526.4,94.4 526.4,97.3 530.1,97.9" fill="#3e2e7a" stroke="#3e2e7a"/><polygon points="530.1,97.9 526.4,97.3 526.4,99.8 530.1,100.5" fill="#363180" stroke="#363180"/><polygon points="530.1,100.5 526.4,99.8 526.4,102.0 530.1,102.7" fill="#353180" stroke="#353180"/><polygon points="530.1,102.7 526.4,102.0 526.4,103.8 530.1,104.4" fill="#343180" stroke="#343180"/><polygon points="530.1,104.4 526.4,103.8 526.4,105.1 530.1,105.8" fill="#333180" stroke="#333180"/><polygon points="530.1,105.8 526.4,105.1 526.4,105.9 530.0,106.6" fill="#32307f" stroke="#32307f"/><polygon points="530.0,106.6 526.4,105.9 526.4,106.2 530.0,106.9" fill="#30307f" stroke="#30307f"/><polygon points="516.4,106.0 512.8,105.2 511.4,105.8 515.0,106.5" fill="#303181" stroke="#303181"/><polygon points="544.6,41.0 541.0,40.7 540.4,41.5 544.0,41.8" fill="#bc2228" stroke="#bc2228"/><polygon points="404.5,97.7 401.0,96.8 394.0,101.1 397.5,101.9" fill="#2f3b96" stroke="#2f3b96"/><polygon points="474.1,102.5 470.4,101.4 467.7,102.9 471.3,103.8" fill="#2e348c" stroke="#2e348c"/><polygon points="433.2,98.4 429.5,97.6 422.6,101.7 426.2,102.5" fill="#2e3a94" stroke="#2e3a94"/><polygon points="539.8,42.3 536.2,41.9 535.6,42.8 539.2,43.1" fill="#c62228" stroke="#c62228"/><polygon points="535.0,43.6 531.3,43.2 530.7,44.1 534.3,44.4" fill="#cd2229" stroke="#cd2229"/><polygon points="511.4,105.8 507.8,105.0 506.4,105.7 510.0,106.5" fill="#2f3182" stroke="#2f3182"/><polygon points="497.7,104.6 494.1,103.8 491.3,105.0 495.0,105.9" fill="#2f3285" stroke="#2f3285"/><polygon points="549.5,39.8 545.9,39.4 544.6,41.0 548.3,41.3" fill="#b02228" stroke="#b02228"/><polygon points="506.4,105.7 502.8,104.8 501.4,105.5 505.0,106.3" fill="#2f3283" stroke="#2f3283"/><polygon points="464.0,101.9 460.4,100.9 457.6,102.5 461.2,103.4" fill="#2e358e" stroke="#2e358e"/><polygon points="544.0,41.8 540.4,41.5 539.8,42.3 543.4,42.6" fill="#c12228" stroke="#c12228"/><polygon points="530.0,106.9 526.4,106.2 525.0,106.9 528.7,107.6" fill="#30307f" stroke="#30307f"/><polygon points="539.2,43.1 535.6,42.8 535.0,43.6 538.6,43.9" fill="#c92229" stroke="#c92229"/><polygon points="487.7,104.1 484.1,103.2 481.3,104.4 484.9,105.3" fill="#2f3388" stroke="#2f3388"/><polygon points="534.3,44.4 530.7,44.1 530.1,44.9 533.7,45.2" fill="#cf2329" stroke="#cf2329"/><polygon points="525.0,106.9 521.4,106.2 520.0,106.7 523.6,107.4" fill="#303080" stroke="#303080"/><polygon points="454.0,101.5 450.4,100.6 447.6,102.2 451.2,103.1" fill="#2e3790" stroke="#2e3790"/><polygon points="379.7,98.0 376.1,97.2 369.1,101.5 372.7,102.2" fill="#2f3c96" stroke="#2f3c96"/><polygon points="533.7,45.2 530.1,44.9 530.1,45.1 533.7,45.4" fill="#cf222a" stroke="#cf222a"/><polygon points="533.7,45.4 530.1,45.1 530.1,45.9 533.7,46.2" fill="#cd1f2b" stroke="#cd1f2b"/><polygon points="533.7,46.2 530.1,45.9 530.1,47.2 533.7,47.5" fill="#cb1d2c" stroke="#cb1d2c"/><polygon points="533.7,47.5 530.1,47.2 530.1,48.8 533.7,49.1" fill="#c51c2c" stroke="#c51c2c"/><polygon points="533.7,49.1 530.1,48.8 530.1,50.9 533.7,51.2" fill="#be1c2b" stroke="#be1c2b"/><polygon points="533.7,51.2 530.1,50.9 530.1,53.3 533.7,53.6" fill="#b71c2a" stroke="#b71c2a"/><polygon points="533.7,53.6 530.1,53.3 530.1,56.0 533.7,56.3" fill="#b01c2a" stroke="#b01c2a"/><polygon points="533.7,56.3 530.1,56.0 530.1,58.9 533.7,59.3" fill="#a71b2e" stroke="#a71b2e"/><polygon points="533.7,59.3 530.1,58.9 530.1,62.0 533.7,62.4" fill="#9f1b33" stroke="#9f1b33"/><polygon points="533.7,62.4 530.1,62.0 530.1,65.4 533.7,65.8" fill="#961b38" stroke="#961b38"/><polygon points="533.7,65.8 530.1,65.4 530.1,68.8 533.7,69.2" fill="#8e1b3c" stroke="#8e1b3c"/><polygon points="533.7,69.2 530.1,68.8 530.1,72.3 533.7,72.8" fill="#841c43" stroke="#841c43"/><polygon points="533.7,72.8 530.1,72.3 530.1,75.9 533.7,76.4" fill="#7a1e4b" stroke="#7a1e4b"/><polygon points="533.7,76.4 530.1,75.9 530.1,79.5 533.7,79.9" fill="#702053" stroke="#702053"/><polygon points="533.7,79.9 530.1,79.5 530.1,83.0 533.7,83.5" fill="#66225b" stroke="#66225b"/><polygon points="533.7,83.5 530.1,83.0 530.1,86.4 533.7,87.0" fill="#5c2362" stroke="#5c2362"/><polygon points="533.7,87.0 530.1,86.4 530.1,89.8 533.7,90.3" fill="#532669" stroke="#532669"/><polygon points="533.7,90.3 530.1,89.8 530.1,92.9 533.7,93.5" fill="#4c296f" stroke="#4c296f"/><polygon points="533.7,93.5 530.1,92.9 530.1,95.8 533.7,96.4" fill="#442c75" stroke="#442c75"/><polygon points="533.7,96.4 530.1,95.8 530.1,98.5 533.7,99.1" fill="#3c2f7b" stroke="#3c2f7b"/><polygon points="533.7,99.1 530.1,98.5 530.1,100.9 533.7,101.5" fill="#363180" stroke="#363180"/><polygon points="533.7,101.5 530.1,100.9 530.1,103.0 533.7,103.6" fill="#353180" stroke="#353180"/><polygon points="533.7,103.6 530.1,103.0 530.1,104.6 533.7,105.2" fill="#34307f" stroke="#34307f"/><polygon points="533.7,105.2 530.1,104.6 530.1,105.9 533.7,106.5" fill="#33307f" stroke="#33307f"/><polygon points="533.7,106.5 530.1,105.9 530.0,106.6 533.7,107.3" fill="#32307f" stroke="#32307f"/><polygon points="533.7,107.3 530.0,106.6 530.0,106.9 533.7,107.5" fill="#30307f" stroke="#30307f"/><polygon points="520.0,106.7 516.4,106.0 515.0,106.5 518.6,107.3" fill="#303181" stroke="#303181"/><polygon points="548.3,41.3 544.6,41.0 544.0,41.8 547.6,42.1" fill="#b92228" stroke="#b92228"/><polygon points="477.7,103.5 474.1,102.5 471.3,103.8 474.9,104.8" fill="#2e348b" stroke="#2e348b"/><polygon points="543.4,42.6 539.8,42.3 539.2,43.1 542.8,43.4" fill="#c42228" stroke="#c42228"/><polygon points="436.7,99.4 433.2,98.4 426.2,102.5 429.8,103.3" fill="#2e3993" stroke="#2e3993"/><polygon points="408.0,98.5 404.5,97.7 397.5,101.9 401.1,102.7" fill="#2f3b95" stroke="#2f3b95"/><polygon points="538.6,43.9 535.0,43.6 534.3,44.4 538.0,44.7" fill="#cc2229" stroke="#cc2229"/><polygon points="515.0,106.5 511.4,105.8 510.0,106.5 513.6,107.2" fill="#303181" stroke="#303181"/><polygon points="501.4,105.5 497.7,104.6 495.0,105.9 498.6,106.8" fill="#2f3284" stroke="#2f3284"/><polygon points="510.0,106.5 506.4,105.7 505.0,106.3 508.6,107.1" fill="#2f3182" stroke="#2f3182"/><polygon points="467.7,102.9 464.0,101.9 461.2,103.4 464.9,104.3" fill="#2e358d" stroke="#2e358d"/><polygon points="547.6,42.1 544.0,41.8 543.4,42.6 547.0,42.9" fill="#bf2228" stroke="#bf2228"/><polygon points="533.7,107.5 530.0,106.9 528.7,107.6 532.3,108.2" fill="#30307f" stroke="#30307f"/><polygon points="542.8,43.4 539.2,43.1 538.6,43.9 542.2,44.2" fill="#c72228" stroke="#c72228"/><polygon points="491.3,105.0 487.7,104.1 484.9,105.3 488.6,106.2" fill="#2f3387" stroke="#2f3387"/><polygon points="538.0,44.7 534.3,44.4 533.7,45.2 537.4,45.4" fill="#ce2229" stroke="#ce2229"/><polygon points="528.7,107.6 525.0,106.9 523.6,107.4 527.3,108.1" fill="#30307f" stroke="#30307f"/><polygon points="457.6,102.5 454.0,101.5 451.2,103.1 454.8,104.0" fill="#2e368f" stroke="#2e368f"/><polygon points="383.3,98.7 379.7,98.0 372.7,102.2 376.3,102.9" fill="#2f3b96" stroke="#2f3b96"/><polygon points="537.4,45.4 533.7,45.2 533.7,45.4 537.4,45.7" fill="#ce212a" stroke="#ce212a"/><polygon points="537.4,45.7 533.7,45.4 533.7,46.2 537.3,46.5" fill="#cd1f2b" stroke="#cd1f2b"/><polygon points="537.3,46.5 533.7,46.2 533.7,47.5 537.3,47.8" fill="#cb1c2c" stroke="#cb1c2c"/><polygon points="537.3,47.8 533.7,47.5 533.7,49.1 537.3,49.5" fill="#c51c2b" stroke="#c51c2b"/><polygon points="537.3,49.5 533.7,49.1 533.7,51.2 537.3,51.5" fill="#be1c2b" stroke="#be1c2b"/><polygon points="537.3,51.5 533.7,51.2 533.7,53.6 537.3,53.9" fill="#b61b2a" stroke="#b61b2a"/><polygon points="537.3,53.9 533.7,53.6 533.7,56.3 537.3,56.6" fill="#af1b29" stroke="#af1b29"/><polygon points="537.3,56.6 533.7,56.3 533.7,59.3 537.3,59.6" fill="#a71b2e" stroke="#a71b2e"/><polygon points="537.3,59.6 533.7,59.3 533.7,62.4 537.3,62.8" fill="#9e1b33" stroke="#9e1b33"/><polygon points="537.3,62.8 533.7,62.4 533.7,65.8 537.3,66.2" fill="#961b37" stroke="#961b37"/><polygon points="537.3,66.2 533.7,65.8 533.7,69.2 537.3,69.6" fill="#8d1a3c" stroke="#8d1a3c"/><polygon points="537.3,69.6 533.7,69.2 533.7,72.8 537.3,73.2" fill="#841b43" stroke="#841b43"/><polygon points="537.3,73.2 533.7,72.8 533.7,76.4 537.3,76.8" fill="#7a1d4b" stroke="#7a1d4b"/><polygon points="537.3,76.8 533.7,76.4 533.7,79.9 537.3,80.4" fill="#701f52" stroke="#701f52"/><polygon points="537.3,80.4 533.7,79.9 533.7,83.5 537.3,84.0" fill="#66215a" stroke="#66215a"/><polygon points="537.3,84.0 533.7,83.5 533.7,87.0 537.3,87.5" fill="#5b2362" stroke="#5b2362"/><polygon points="537.3,87.5 533.7,87.0 533.7,90.3 537.3,90.8" fill="#532668" stroke="#532668"/><polygon points="537.3,90.8 533.7,90.3 533.7,93.5 537.3,94.0" fill="#4c296f" stroke="#4c296f"/><polygon points="537.3,94.0 533.7,93.5 533.7,96.4 537.3,97.0" fill="#442c75" stroke="#442c75"/><polygon points="537.3,97.0 533.7,96.4 533.7,99.1 537.3,99.7" fill="#3c2e7b" stroke="#3c2e7b"/><polygon points="537.3,99.7 533.7,99.1 533.7,101.5 537.3,102.1" fill="#363180" stroke="#363180"/><polygon points="537.3,102.1 533.7,101.5 533.7,103.6 537.3,104.1" fill="#35307f" stroke="#35307f"/><polygon points="537.3,104.1 533.7,103.6 533.7,105.2 537.3,105.8" fill="#34307f" stroke="#34307f"/><polygon points="537.3,105.8 533.7,105.2 533.7,106.5 537.3,107.1" fill="#33307f" stroke="#33307f"/><polygon points="537.3,107.1 533.7,106.5 533.7,107.3 537.3,107.9" fill="#32307f" stroke="#32307f"/><polygon points="537.3,107.9 533.7,107.3 533.7,107.5 537.3,108.1" fill="#30307e" stroke="#30307e"/><polygon points="523.6,107.4 520.0,106.7 518.6,107.3 522.3,108.0" fill="#303180" stroke="#303180"/><polygon points="481.3,104.4 477.7,103.5 474.9,104.8 478.5,105.7" fill="#2f3489" stroke="#2f3489"/><polygon points="547.0,42.9 543.4,42.6 542.8,43.4 546.4,43.7" fill="#c32228" stroke="#c32228"/><polygon points="440.4,100.3 436.7,99.4 429.8,103.3 433.4,104.2" fill="#2e3892" stroke="#2e3892"/><polygon points="542.2,44.2 538.6,43.9 538.0,44.7 541.6,45.0" fill="#cb2229" stroke="#cb2229"/><polygon points="411.6,99.4 408.0,98.5 401.1,102.7 404.6,103.5" fill="#2e3a95" stroke="#2e3a95"/><polygon points="518.6,107.3 515.0,106.5 513.6,107.2 517.2,108.0" fill="#303181" stroke="#303181"/><polygon points="505.0,106.3 501.4,105.5 498.6,106.8 502.2,107.6" fill="#2f3283" stroke="#2f3283"/><polygon points="513.6,107.2 510.0,106.5 508.6,107.1 512.2,107.9" fill="#303181" stroke="#303181"/><polygon points="471.3,103.8 467.7,102.9 464.9,104.3 468.5,105.2" fill="#2e348c" stroke="#2e348c"/><polygon points="537.3,108.1 533.7,107.5 532.3,108.2 535.9,108.8" fill="#30307e" stroke="#30307e"/><polygon points="546.4,43.7 542.8,43.4 542.2,44.2 545.8,44.5" fill="#c62228" stroke="#c62228"/><polygon points="495.0,105.9 491.3,105.0 488.6,106.2 492.2,107.1" fill="#2f3285" stroke="#2f3285"/><polygon points="541.6,45.0 538.0,44.7 537.4,45.4 541.0,45.8" fill="#cd2229" stroke="#cd2229"/><polygon points="532.3,108.2 528.7,107.6 527.3,108.1 530.9,108.8" fill="#30307f" stroke="#30307f"/><polygon points="461.2,103.4 457.6,102.5 454.8,104.0 458.5,104.9" fill="#2e358e" stroke="#2e358e"/><polygon points="541.0,45.8 537.4,45.4 537.4,45.7 541.0,46.0" fill="#ce212a" stroke="#ce212a"/><polygon points="541.0,46.0 537.4,45.7 537.3,46.5 541.0,46.8" fill="#cc1e2b" stroke="#cc1e2b"/><polygon points="541.0,46.8 537.3,46.5 537.3,47.8 541.0,48.1" fill="#cb1c2c" stroke="#cb1c2c"/><polygon points="541.0,48.1 537.3,47.8 537.3,49.5 541.0,49.8" fill="#c41b2b" stroke="#c41b2b"/><polygon points="541.0,49.8 537.3,49.5 537.3,51.5 541.0,51.9" fill="#bd1b2a" stroke="#bd1b2a"/><polygon points="541.0,51.9 537.3,51.5 537.3,53.9 541.0,54.3" fill="#b61b2a" stroke="#b61b2a"/><polygon points="541.0,54.3 537.3,53.9 537.3,56.6 541.0,57.0" fill="#af1b29" stroke="#af1b29"/><polygon points="541.0,57.0 537.3,56.6 537.3,59.6 541.0,60.0" fill="#a71b2e" stroke="#a71b2e"/><polygon points="541.0,60.0 537.3,59.6 537.3,62.8 541.0,63.2" fill="#9e1b33" stroke="#9e1b33"/><polygon points="541.0,63.2 537.3,62.8 537.3,66.2 540.9,66.6" fill="#961a37" stroke="#961a37"/><polygon points="540.9,66.6 537.3,66.2 537.3,69.6 540.9,70.1" fill="#8d1a3c" stroke="#8d1a3c"/><polygon points="540.9,70.1 537.3,69.6 537.3,73.2 540.9,73.6" fill="#841b43" stroke="#841b43"/><polygon points="540.9,73.6 537.3,73.2 537.3,76.8 540.9,77.3" fill="#7a1d4a" stroke="#7a1d4a"/><polygon points="540.9,77.3 537.3,76.8 537.3,80.4 540.9,80.9" fill="#701f52" stroke="#701f52"/><polygon points="540.9,80.9 537.3,80.4 537.3,84.0 540.9,84.5" fill="#65215a" stroke="#65215a"/><polygon points="386.9,99.5 383.3,98.7 376.3,102.9 379.8,103.6" fill="#2f3b95" stroke="#2f3b95"/><polygon points="540.9,84.5 537.3,84.0 537.3,87.5 540.9,88.0" fill="#5b2362" stroke="#5b2362"/><polygon points="540.9,88.0 537.3,87.5 537.3,90.8 540.9,91.3" fill="#532668" stroke="#532668"/><polygon points="540.9,91.3 537.3,90.8 537.3,94.0 540.9,94.5" fill="#4c296e" stroke="#4c296e"/><polygon points="540.9,94.5 537.3,94.0 537.3,97.0 540.9,97.5" fill="#442b74" stroke="#442b74"/><polygon points="540.9,97.5 537.3,97.0 537.3,99.7 540.9,100.2" fill="#3c2e7b" stroke="#3c2e7b"/><polygon points="540.9,100.2 537.3,99.7 537.3,102.1 540.9,102.6" fill="#36307f" stroke="#36307f"/><polygon points="540.9,102.6 537.3,102.1 537.3,104.1 540.9,104.7" fill="#35307f" stroke="#35307f"/><polygon points="540.9,104.7 537.3,104.1 537.3,105.8 540.9,106.4" fill="#34307f" stroke="#34307f"/><polygon points="540.9,106.4 537.3,105.8 537.3,107.1 540.9,107.7" fill="#33307f" stroke="#33307f"/><polygon points="540.9,107.7 537.3,107.1 537.3,107.9 540.9,108.5" fill="#32307e" stroke="#32307e"/><polygon points="540.9,108.5 537.3,107.9 537.3,108.1 540.9,108.7" fill="#31307e" stroke="#31307e"/><polygon points="527.3,108.1 523.6,107.4 522.3,108.0 525.9,108.7" fill="#30307f" stroke="#30307f"/><polygon points="484.9,105.3 481.3,104.4 478.5,105.7 482.1,106.6" fill="#2f3388" stroke="#2f3388"/><polygon points="444.0,101.2 440.4,100.3 433.4,104.2 437.0,105.1" fill="#2e3791" stroke="#2e3791"/><polygon points="545.8,44.5 542.2,44.2 541.6,45.0 545.2,45.3" fill="#c92229" stroke="#c92229"/><polygon points="415.2,100.2 411.6,99.4 404.6,103.5 408.3,104.3" fill="#2e3a94" stroke="#2e3a94"/><polygon points="522.3,108.0 518.6,107.3 517.2,108.0 520.9,108.7" fill="#303180" stroke="#303180"/><polygon points="508.6,107.1 505.0,106.3 502.2,107.6 505.8,108.5" fill="#2f3182" stroke="#2f3182"/><polygon points="517.2,108.0 513.6,107.2 512.2,107.9 515.8,108.7" fill="#303181" stroke="#303181"/><polygon points="474.9,104.8 471.3,103.8 468.5,105.2 472.1,106.1" fill="#2e348b" stroke="#2e348b"/><polygon points="540.9,108.7 537.3,108.1 535.9,108.8 539.5,109.4" fill="#30307e" stroke="#30307e"/><polygon points="498.6,106.8 495.0,105.9 492.2,107.1 495.8,108.0" fill="#2f3284" stroke="#2f3284"/><polygon points="545.2,45.3 541.6,45.0 541.0,45.8 544.6,46.1" fill="#cc2229" stroke="#cc2229"/><polygon points="535.9,108.8 532.3,108.2 530.9,108.8 534.5,109.4" fill="#30307e" stroke="#30307e"/><polygon points="464.9,104.3 461.2,103.4 458.5,104.9 462.1,105.8" fill="#2e358d" stroke="#2e358d"/><polygon points="544.6,46.1 541.0,45.8 541.0,46.0 544.6,46.3" fill="#cd2129" stroke="#cd2129"/><polygon points="544.6,46.3 541.0,46.0 541.0,46.8 544.6,47.1" fill="#cb1e2a" stroke="#cb1e2a"/><polygon points="544.6,47.1 541.0,46.8 541.0,48.1 544.6,48.4" fill="#ca1c2c" stroke="#ca1c2c"/><polygon points="544.6,48.4 541.0,48.1 541.0,49.8 544.6,50.1" fill="#c31b2b" stroke="#c31b2b"/><polygon points="544.6,50.1 541.0,49.8 541.0,51.9 544.6,52.2" fill="#bc1b2a" stroke="#bc1b2a"/><polygon points="544.6,52.2 541.0,51.9 541.0,54.3 544.6,54.6" fill="#b51b2a" stroke="#b51b2a"/><polygon points="544.6,54.6 541.0,54.3 541.0,57.0 544.6,57.4" fill="#ae1b29" stroke="#ae1b29"/><polygon points="544.6,57.4 541.0,57.0 541.0,60.0 544.6,60.4" fill="#a61b2e" stroke="#a61b2e"/><polygon points="544.6,60.4 541.0,60.0 541.0,63.2 544.6,63.6" fill="#9e1a32" stroke="#9e1a32"/><polygon points="544.6,63.6 541.0,63.2 540.9,66.6 544.6,67.0" fill="#951a37" stroke="#951a37"/><polygon points="544.6,67.0 540.9,66.6 540.9,70.1 544.6,70.5" fill="#8d1a3c" stroke="#8d1a3c"/><polygon points="544.6,70.5 540.9,70.1 540.9,73.6 544.6,74.1" fill="#831b42" stroke="#831b42"/><polygon points="361.9,100.2 358.3,99.5 351.2,103.6 354.8,104.2" fill="#2e3a95" stroke="#2e3a95"/><polygon points="544.6,74.1 540.9,73.6 540.9,77.3 544.6,77.7" fill="#791d4a" stroke="#791d4a"/><polygon points="544.6,77.7 540.9,77.3 540.9,80.9 544.6,81.4" fill="#6f1f52" stroke="#6f1f52"/><polygon points="544.6,81.4 540.9,80.9 540.9,84.5 544.6,85.0" fill="#65215a" stroke="#65215a"/><polygon points="544.6,85.0 540.9,84.5 540.9,88.0 544.6,88.5" fill="#5b2362" stroke="#5b2362"/><polygon points="544.6,88.5 540.9,88.0 540.9,91.3 544.6,91.9" fill="#532668" stroke="#532668"/><polygon points="544.6,91.9 540.9,91.3 540.9,94.5 544.6,95.1" fill="#4b296e" stroke="#4b296e"/><polygon points="544.6,95.1 540.9,94.5 540.9,97.5 544.5,98.1" fill="#432b74" stroke="#432b74"/><polygon points="544.5,98.1 540.9,97.5 540.9,100.2 544.5,100.8" fill="#3c2e7b" stroke="#3c2e7b"/><polygon points="544.5,100.8 540.9,100.2 540.9,102.6 544.5,103.2" fill="#35307f" stroke="#35307f"/><polygon points="544.5,103.2 540.9,102.6 540.9,104.7 544.5,105.3" fill="#34307f" stroke="#34307f"/><polygon points="544.5,105.3 540.9,104.7 540.9,106.4 544.5,107.0" fill="#33307f" stroke="#33307f"/><polygon points="544.5,107.0 540.9,106.4 540.9,107.7 544.5,108.3" fill="#32307f" stroke="#32307f"/><polygon points="544.5,108.3 540.9,107.7 540.9,108.5 544.5,109.1" fill="#31307e" stroke="#31307e"/><polygon points="544.5,109.1 540.9,108.5 540.9,108.7 544.5,109.3" fill="#30307e" stroke="#30307e"/><polygon points="530.9,108.8 527.3,108.1 525.9,108.7 529.5,109.4" fill="#30307f" stroke="#30307f"/><polygon points="390.4,100.3 386.9,99.5 379.8,103.6 383.4,104.4" fill="#2e3a95" stroke="#2e3a95"/><polygon points="488.6,106.2 484.9,105.3 482.1,106.6 485.8,107.5" fill="#2f3387" stroke="#2f3387"/><polygon points="447.6,102.2 444.0,101.2 437.0,105.1 440.6,106.0" fill="#2e3790" stroke="#2e3790"/><polygon points="418.9,100.9 415.2,100.2 408.3,104.3 411.9,105.0" fill="#2e3993" stroke="#2e3993"/><polygon points="525.9,108.7 522.3,108.0 520.9,108.7 524.5,109.4" fill="#303080" stroke="#303080"/><polygon points="512.2,107.9 508.6,107.1 505.8,108.5 509.4,109.3" fill="#303181" stroke="#303181"/><polygon points="520.9,108.7 517.2,108.0 515.8,108.7 519.5,109.4" fill="#303180" stroke="#303180"/><polygon points="478.5,105.7 474.9,104.8 472.1,106.1 475.7,107.0" fill="#2f3489" stroke="#2f3489"/><polygon points="544.5,109.3 540.9,108.7 539.5,109.4 543.1,109.9" fill="#30307e" stroke="#30307e"/><polygon points="502.2,107.6 498.6,106.8 495.8,108.0 499.4,108.9" fill="#2f3283" stroke="#2f3283"/><polygon points="539.5,109.4 535.9,108.8 534.5,109.4 538.1,110.0" fill="#30307e" stroke="#30307e"/><polygon points="468.5,105.2 464.9,104.3 462.1,105.8 465.7,106.6" fill="#2e348b" stroke="#2e348b"/><polygon points="365.5,100.8 361.9,100.2 354.8,104.2 358.4,104.8" fill="#2e3a95" stroke="#2e3a95"/><polygon points="534.5,109.4 530.9,108.8 529.5,109.4 533.1,110.0" fill="#30307f" stroke="#30307f"/><polygon points="492.2,107.1 488.6,106.2 485.8,107.5 489.4,108.4" fill="#2f3286" stroke="#2f3286"/><polygon points="394.0,101.1 390.4,100.3 383.4,104.4 387.0,105.2" fill="#2e3a94" stroke="#2e3a94"/><polygon points="451.2,103.1 447.6,102.2 440.6,106.0 444.3,106.9" fill="#2e368f" stroke="#2e368f"/><polygon points="422.6,101.7 418.9,100.9 411.9,105.0 415.6,105.7" fill="#2e3993" stroke="#2e3993"/><polygon points="529.5,109.4 525.9,108.7 524.5,109.4 528.1,110.0" fill="#30307f" stroke="#30307f"/><polygon points="515.8,108.7 512.2,107.9 509.4,109.3 513.1,110.0" fill="#303180" stroke="#303180"/><polygon points="524.5,109.4 520.9,108.7 519.5,109.4 523.1,110.1" fill="#30307f" stroke="#30307f"/><polygon points="482.1,106.6 478.5,105.7 475.7,107.0 479.4,107.9" fill="#2f3388" stroke="#2f3388"/><polygon points="505.8,108.5 502.2,107.6 499.4,108.9 503.0,109.8" fill="#2f3182" stroke="#2f3182"/><polygon points="543.1,109.9 539.5,109.4 538.1,110.0 541.7,110.6" fill="#30307e" stroke="#30307e"/><polygon points="472.1,106.1 468.5,105.2 465.7,106.6 469.3,107.5" fill="#2e348a" stroke="#2e348a"/><polygon points="369.1,101.5 365.5,100.8 358.4,104.8 362.0,105.5" fill="#2e3a94" stroke="#2e3a94"/><polygon points="538.1,110.0 534.5,109.4 533.1,110.0 536.7,110.6" fill="#30307e" stroke="#30307e"/><polygon points="495.8,108.0 492.2,107.1 489.4,108.4 493.0,109.4" fill="#2f3284" stroke="#2f3284"/><polygon points="397.5,101.9 394.0,101.1 387.0,105.2 390.5,105.9" fill="#2e3993" stroke="#2e3993"/><polygon points="454.8,104.0 451.2,103.1 444.3,106.9 447.9,107.8" fill="#2e358e" stroke="#2e358e"/><polygon points="426.2,102.5 422.6,101.7 415.6,105.7 419.2,106.5" fill="#2e3892" stroke="#2e3892"/><polygon points="533.1,110.0 529.5,109.4 528.1,110.0 531.7,110.7" fill="#30307f" stroke="#30307f"/><polygon points="519.5,109.4 515.8,108.7 513.1,110.0 516.7,110.7" fill="#303180" stroke="#303180"/><polygon points="528.1,110.0 524.5,109.4 523.1,110.1 526.7,110.7" fill="#30307f" stroke="#30307f"/><polygon points="485.8,107.5 482.1,106.6 479.4,107.9 483.0,108.8" fill="#2f3387" stroke="#2f3387"/><polygon points="509.4,109.3 505.8,108.5 503.0,109.8 506.7,110.6" fill="#303181" stroke="#303181"/><polygon points="475.7,107.0 472.1,106.1 469.3,107.5 473.0,108.4" fill="#2f3389" stroke="#2f3389"/><polygon points="541.7,110.6 538.1,110.0 536.7,110.6 540.4,111.3" fill="#30307e" stroke="#30307e"/><polygon points="372.7,102.2 369.1,101.5 362.0,105.5 365.6,106.2" fill="#2e3a94" stroke="#2e3a94"/><polygon points="499.4,108.9 495.8,108.0 493.0,109.4 496.6,110.3" fill="#2f3283" stroke="#2f3283"/><polygon points="458.5,104.9 454.8,104.0 447.9,107.8 451.5,108.6" fill="#2e358d" stroke="#2e358d"/><polygon points="429.8,103.3 426.2,102.5 419.2,106.5 422.8,107.3" fill="#2e3791" stroke="#2e3791"/><polygon points="401.1,102.7 397.5,101.9 390.5,105.9 394.1,106.7" fill="#2e3993" stroke="#2e3993"/><polygon points="536.7,110.6 533.1,110.0 531.7,110.7 535.3,111.3" fill="#30307e" stroke="#30307e"/><polygon points="523.1,110.1 519.5,109.4 516.7,110.7 520.3,111.4" fill="#30307f" stroke="#30307f"/><polygon points="531.7,110.7 528.1,110.0 526.7,110.7 530.3,111.4" fill="#30307f" stroke="#30307f"/><polygon points="489.4,108.4 485.8,107.5 483.0,108.8 486.6,109.7" fill="#2f3286" stroke="#2f3286"/><polygon points="513.1,110.0 509.4,109.3 506.7,110.6 510.3,111.4" fill="#303180" stroke="#303180"/><polygon points="479.4,107.9 475.7,107.0 473.0,108.4 476.6,109.2" fill="#2f3388" stroke="#2f3388"/><polygon points="376.3,102.9 372.7,102.2 365.6,106.2 369.2,106.9" fill="#2e3994" stroke="#2e3994"/><polygon points="503.0,109.8 499.4,108.9 496.6,110.3 500.3,111.1" fill="#2f3182" stroke="#2f3182"/><polygon points="462.1,105.8 458.5,104.9 451.5,108.6 455.1,109.5" fill="#2e348c" stroke="#2e348c"/><polygon points="433.4,104.2 429.8,103.3 422.8,107.3 426.4,108.1" fill="#2e3790" stroke="#2e3790"/><polygon points="540.4,111.3 536.7,110.6 535.3,111.3 539.0,111.9" fill="#30307e" stroke="#30307e"/><polygon points="404.6,103.5 401.1,102.7 394.1,106.7 397.7,107.4" fill="#2e3892" stroke="#2e3892"/><polygon points="526.7,110.7 523.1,110.1 520.3,111.4 523.9,112.1" fill="#30307f" stroke="#30307f"/><polygon points="535.3,111.3 531.7,110.7 530.3,111.4 534.0,112.0" fill="#30307e" stroke="#30307e"/><polygon points="493.0,109.4 489.4,108.4 486.6,109.7 490.2,110.7" fill="#2f3284" stroke="#2f3284"/><polygon points="516.7,110.7 513.1,110.0 510.3,111.4 513.9,112.1" fill="#303180" stroke="#303180"/><polygon points="483.0,108.8 479.4,107.9 476.6,109.2 480.2,110.1" fill="#2f3387" stroke="#2f3387"/><polygon points="506.7,110.6 503.0,109.8 500.3,111.1 503.9,111.9" fill="#303181" stroke="#303181"/><polygon points="379.8,103.6 376.3,102.9 369.2,106.9 372.8,107.6" fill="#2e3993" stroke="#2e3993"/><polygon points="465.7,106.6 462.1,105.8 455.1,109.5 458.8,110.3" fill="#2e348b" stroke="#2e348b"/><polygon points="437.0,105.1 433.4,104.2 426.4,108.1 430.1,109.0" fill="#2e368f" stroke="#2e368f"/><polygon points="530.3,111.4 526.7,110.7 523.9,112.1 527.6,112.7" fill="#30307f" stroke="#30307f"/><polygon points="408.3,104.3 404.6,103.5 397.7,107.4 401.3,108.2" fill="#2e3892" stroke="#2e3892"/><polygon points="539.0,111.9 535.3,111.3 534.0,112.0 537.6,112.6" fill="#30307e" stroke="#30307e"/><polygon points="496.6,110.3 493.0,109.4 490.2,110.7 493.9,111.6" fill="#2f3283" stroke="#2f3283"/><polygon points="520.3,111.4 516.7,110.7 513.9,112.1 517.5,112.8" fill="#30307f" stroke="#30307f"/><polygon points="486.6,109.7 483.0,108.8 480.2,110.1 483.8,111.1" fill="#2f3286" stroke="#2f3286"/><polygon points="510.3,111.4 506.7,110.6 503.9,111.9 507.5,112.7" fill="#303180" stroke="#303180"/><polygon points="354.8,104.2 351.2,103.6 344.1,107.6 347.8,108.2" fill="#2e3993" stroke="#2e3993"/><polygon points="383.4,104.4 379.8,103.6 372.8,107.6 376.4,108.3" fill="#2e3993" stroke="#2e3993"/><polygon points="469.3,107.5 465.7,106.6 458.8,110.3 462.4,111.1" fill="#2f348a" stroke="#2f348a"/><polygon points="440.6,106.0 437.0,105.1 430.1,109.0 433.7,109.8" fill="#2e358e" stroke="#2e358e"/><polygon points="534.0,112.0 530.3,111.4 527.6,112.7 531.2,113.3" fill="#30307e" stroke="#30307e"/><polygon points="411.9,105.0 408.3,104.3 401.3,108.2 405.0,108.9" fill="#2e3791" stroke="#2e3791"/><polygon points="500.3,111.1 496.6,110.3 493.9,111.6 497.5,112.4" fill="#2f3182" stroke="#2f3182"/><polygon points="523.9,112.1 520.3,111.4 517.5,112.8 521.1,113.4" fill="#30307f" stroke="#30307f"/><polygon points="490.2,110.7 486.6,109.7 483.8,111.1 487.4,112.0" fill="#2f3284" stroke="#2f3284"/><polygon points="513.9,112.1 510.3,111.4 507.5,112.7 511.1,113.5" fill="#30307f" stroke="#30307f"/><polygon points="358.4,104.8 354.8,104.2 347.8,108.2 351.4,108.9" fill="#2e3993" stroke="#2e3993"/><polygon points="473.0,108.4 469.3,107.5 462.4,111.1 466.0,112.0" fill="#2f3389" stroke="#2f3389"/><polygon points="387.0,105.2 383.4,104.4 376.4,108.3 380.0,109.1" fill="#2e3892" stroke="#2e3892"/><polygon points="444.3,106.9 440.6,106.0 433.7,109.8 437.3,110.7" fill="#2e358d" stroke="#2e358d"/><polygon points="415.6,105.7 411.9,105.0 405.0,108.9 408.6,109.6" fill="#2e3791" stroke="#2e3791"/><polygon points="537.6,112.6 534.0,112.0 531.2,113.3 534.8,113.9" fill="#30307e" stroke="#30307e"/><polygon points="503.9,111.9 500.3,111.1 497.5,112.4 501.1,113.3" fill="#303181" stroke="#303181"/><polygon points="527.6,112.7 523.9,112.1 521.1,113.4 524.8,114.0" fill="#30307e" stroke="#30307e"/><polygon points="493.9,111.6 490.2,110.7 487.4,112.0 491.1,112.9" fill="#2f3283" stroke="#2f3283"/><polygon points="517.5,112.8 513.9,112.1 511.1,113.5 514.7,114.1" fill="#30307f" stroke="#30307f"/><polygon points="476.6,109.2 473.0,108.4 466.0,112.0 469.6,112.8" fill="#2f3388" stroke="#2f3388"/><polygon points="362.0,105.5 358.4,104.8 351.4,108.9 355.0,109.5" fill="#2e3892" stroke="#2e3892"/><polygon points="447.9,107.8 444.3,106.9 437.3,110.7 440.9,111.5" fill="#2e348c" stroke="#2e348c"/><polygon points="419.2,106.5 415.6,105.7 408.6,109.6 412.3,110.3" fill="#2e3790" stroke="#2e3790"/><polygon points="390.5,105.9 387.0,105.2 380.0,109.1 383.6,109.8" fill="#2e3892" stroke="#2e3892"/><polygon points="507.5,112.7 503.9,111.9 501.1,113.3 504.7,114.1" fill="#303180" stroke="#303180"/><polygon points="531.2,113.3 527.6,112.7 524.8,114.0 528.4,114.6" fill="#30307e" stroke="#30307e"/><polygon points="497.5,112.4 493.9,111.6 491.1,112.9 494.7,113.8" fill="#303182" stroke="#303182"/><polygon points="521.1,113.4 517.5,112.8 514.7,114.1 518.4,114.7" fill="#30307f" stroke="#30307f"/><polygon points="480.2,110.1 476.6,109.2 469.6,112.8 473.2,113.7" fill="#2f3386" stroke="#2f3386"/><polygon points="365.6,106.2 362.0,105.5 355.0,109.5 358.6,110.2" fill="#2e3892" stroke="#2e3892"/><polygon points="451.5,108.6 447.9,107.8 440.9,111.5 444.5,112.4" fill="#2e348b" stroke="#2e348b"/><polygon points="422.8,107.3 419.2,106.5 412.3,110.3 415.8,111.1" fill="#2e368f" stroke="#2e368f"/><polygon points="394.1,106.7 390.5,105.9 383.6,109.8 387.1,110.5" fill="#2e3791" stroke="#2e3791"/><polygon points="511.1,113.5 507.5,112.7 504.7,114.1 508.3,114.8" fill="#30307f" stroke="#30307f"/><polygon points="534.8,113.9 531.2,113.3 528.4,114.6 532.0,115.2" fill="#30307e" stroke="#30307e"/><polygon points="501.1,113.3 497.5,112.4 494.7,113.8 498.3,114.6" fill="#303181" stroke="#303181"/><polygon points="524.8,114.0 521.1,113.4 518.4,114.7 522.0,115.4" fill="#30307e" stroke="#30307e"/><polygon points="483.8,111.1 480.2,110.1 473.2,113.7 476.9,114.6" fill="#2f3285" stroke="#2f3285"/><polygon points="369.2,106.9 365.6,106.2 358.6,110.2 362.2,110.9" fill="#2e3892" stroke="#2e3892"/><polygon points="455.1,109.5 451.5,108.6 444.5,112.4 448.2,113.2" fill="#2e348a" stroke="#2e348a"/><polygon points="426.4,108.1 422.8,107.3 415.8,111.1 419.5,111.9" fill="#2e368f" stroke="#2e368f"/><polygon points="397.7,107.4 394.1,106.7 387.1,110.5 390.7,111.3" fill="#2e3790" stroke="#2e3790"/><polygon points="514.7,114.1 511.1,113.5 508.3,114.8 512.0,115.5" fill="#30307f" stroke="#30307f"/><polygon points="504.7,114.1 501.1,113.3 498.3,114.6 501.9,115.4" fill="#303180" stroke="#303180"/><polygon points="528.4,114.6 524.8,114.0 522.0,115.4 525.6,115.9" fill="#30307e" stroke="#30307e"/><polygon points="487.4,112.0 483.8,111.1 476.9,114.6 480.5,115.5" fill="#2f3284" stroke="#2f3284"/><polygon points="458.8,110.3 455.1,109.5 448.2,113.2 451.8,114.0" fill="#2f3489" stroke="#2f3489"/><polygon points="372.8,107.6 369.2,106.9 362.2,110.9 365.8,111.6" fill="#2e3891" stroke="#2e3891"/><polygon points="430.1,109.0 426.4,108.1 419.5,111.9 423.1,112.7" fill="#2e358e" stroke="#2e358e"/><polygon points="401.3,108.2 397.7,107.4 390.7,111.3 394.4,112.0" fill="#2e3790" stroke="#2e3790"/><polygon points="518.4,114.7 514.7,114.1 512.0,115.5 515.6,116.1" fill="#30307f" stroke="#30307f"/><polygon points="508.3,114.8 504.7,114.1 501.9,115.4 505.6,116.1" fill="#30307f" stroke="#30307f"/><polygon points="532.0,115.2 528.4,114.6 525.6,115.9 529.2,116.5" fill="#30307e" stroke="#30307e"/><polygon points="491.1,112.9 487.4,112.0 480.5,115.5 484.1,116.3" fill="#2f3283" stroke="#2f3283"/><polygon points="462.4,111.1 458.8,110.3 451.8,114.0 455.4,114.8" fill="#2f3388" stroke="#2f3388"/><polygon points="376.4,108.3 372.8,107.6 365.8,111.6 369.4,112.3" fill="#2e3791" stroke="#2e3791"/><polygon points="433.7,109.8 430.1,109.0 423.1,112.7 426.7,113.5" fill="#2e358d" stroke="#2e358d"/><polygon points="347.8,108.2 344.1,107.6 337.1,111.6 340.7,112.2" fill="#2e3791" stroke="#2e3791"/><polygon points="405.0,108.9 401.3,108.2 394.4,112.0 398.0,112.7" fill="#2e368f" stroke="#2e368f"/><polygon points="522.0,115.4 518.4,114.7 515.6,116.1 519.2,116.7" fill="#30307e" stroke="#30307e"/><polygon points="512.0,115.5 508.3,114.8 505.6,116.1 509.2,116.8" fill="#30307f" stroke="#30307f"/><polygon points="494.7,113.8 491.1,112.9 484.1,116.3 487.7,117.2" fill="#303182" stroke="#303182"/><polygon points="466.0,112.0 462.4,111.1 455.4,114.8 459.0,115.6" fill="#2f3387" stroke="#2f3387"/><polygon points="437.3,110.7 433.7,109.8 426.7,113.5 430.3,114.4" fill="#2e348c" stroke="#2e348c"/><polygon points="380.0,109.1 376.4,108.3 369.4,112.3 373.0,113.0" fill="#2e3790" stroke="#2e3790"/><polygon points="351.4,108.9 347.8,108.2 340.7,112.2 344.3,112.9" fill="#2e3791" stroke="#2e3791"/><polygon points="408.6,109.6 405.0,108.9 398.0,112.7 401.7,113.3" fill="#2e368f" stroke="#2e368f"/><polygon points="525.6,115.9 522.0,115.4 519.2,116.7 522.8,117.3" fill="#30307e" stroke="#30307e"/><polygon points="515.6,116.1 512.0,115.5 509.2,116.8 512.8,117.4" fill="#30307e" stroke="#30307e"/><polygon points="498.3,114.6 494.7,113.8 487.7,117.2 491.4,118.0" fill="#303181" stroke="#303181"/><polygon points="469.6,112.8 466.0,112.0 459.0,115.6 462.7,116.4" fill="#2f3386" stroke="#2f3386"/><polygon points="440.9,111.5 437.3,110.7 430.3,114.4 434.0,115.2" fill="#2e348b" stroke="#2e348b"/><polygon points="412.3,110.3 408.6,109.6 401.7,113.3 405.3,114.0" fill="#2e358e" stroke="#2e358e"/><polygon points="355.0,109.5 351.4,108.9 344.3,112.9 347.9,113.5" fill="#2e3790" stroke="#2e3790"/><polygon points="383.6,109.8 380.0,109.1 373.0,113.0 376.6,113.7" fill="#2e3690" stroke="#2e3690"/><polygon points="529.2,116.5 525.6,115.9 522.8,117.3 526.5,117.8" fill="#30307e" stroke="#30307e"/><polygon points="519.2,116.7 515.6,116.1 512.8,117.4 516.4,118.0" fill="#30307e" stroke="#30307e"/><polygon points="501.9,115.4 498.3,114.6 491.4,118.0 495.0,118.8" fill="#303180" stroke="#303180"/><polygon points="473.2,113.7 469.6,112.8 462.7,116.4 466.3,117.3" fill="#2f3285" stroke="#2f3285"/><polygon points="444.5,112.4 440.9,111.5 434.0,115.2 437.6,116.0" fill="#2f348a" stroke="#2f348a"/><polygon points="415.8,111.1 412.3,110.3 405.3,114.0 408.9,114.8" fill="#2e358e" stroke="#2e358e"/><polygon points="358.6,110.2 355.0,109.5 347.9,113.5 351.5,114.2" fill="#2e3790" stroke="#2e3790"/><polygon points="387.1,110.5 383.6,109.8 376.6,113.7 380.2,114.4" fill="#2e368f" stroke="#2e368f"/><polygon points="522.8,117.3 519.2,116.7 516.4,118.0 520.0,118.6" fill="#30307e" stroke="#30307e"/><polygon points="505.6,116.1 501.9,115.4 495.0,118.8 498.6,119.5" fill="#30307f" stroke="#30307f"/><polygon points="476.9,114.6 473.2,113.7 466.3,117.3 469.9,118.1" fill="#2f3284" stroke="#2f3284"/><polygon points="448.2,113.2 444.5,112.4 437.6,116.0 441.2,116.8" fill="#2f3389" stroke="#2f3389"/><polygon points="419.5,111.9 415.8,111.1 408.9,114.8 412.5,115.5" fill="#2e358d" stroke="#2e358d"/><polygon points="362.2,110.9 358.6,110.2 351.5,114.2 355.2,114.8" fill="#2e3690" stroke="#2e3690"/><polygon points="390.7,111.3 387.1,110.5 380.2,114.4 383.8,115.1" fill="#2e368f" stroke="#2e368f"/><polygon points="526.5,117.8 522.8,117.3 520.0,118.6 523.7,119.1" fill="#30307e" stroke="#30307e"/><polygon points="509.2,116.8 505.6,116.1 498.6,119.5 502.2,120.1" fill="#30307f" stroke="#30307f"/><polygon points="480.5,115.5 476.9,114.6 469.9,118.1 473.5,119.0" fill="#2f3283" stroke="#2f3283"/><polygon points="451.8,114.0 448.2,113.2 441.2,116.8 444.8,117.5" fill="#2f3388" stroke="#2f3388"/><polygon points="423.1,112.7 419.5,111.9 412.5,115.5 416.1,116.4" fill="#2e348c" stroke="#2e348c"/><polygon points="365.8,111.6 362.2,110.9 355.2,114.8 358.8,115.5" fill="#2e368f" stroke="#2e368f"/><polygon points="394.4,112.0 390.7,111.3 383.8,115.1 387.4,115.8" fill="#2e358e" stroke="#2e358e"/><polygon points="512.8,117.4 509.2,116.8 502.2,120.1 505.9,120.7" fill="#30307e" stroke="#30307e"/><polygon points="484.1,116.3 480.5,115.5 473.5,119.0 477.2,119.8" fill="#2f3182" stroke="#2f3182"/><polygon points="455.4,114.8 451.8,114.0 444.8,117.5 448.5,118.3" fill="#2f3387" stroke="#2f3387"/><polygon points="426.7,113.5 423.1,112.7 416.1,116.4 419.8,117.2" fill="#2e348b" stroke="#2e348b"/><polygon points="369.4,112.3 365.8,111.6 358.8,115.5 362.4,116.2" fill="#2e368f" stroke="#2e368f"/><polygon points="398.0,112.7 394.4,112.0 387.4,115.8 391.0,116.4" fill="#2e358e" stroke="#2e358e"/><polygon points="340.7,112.2 337.1,111.6 330.0,115.6 333.6,116.3" fill="#2e368f" stroke="#2e368f"/><polygon points="516.4,118.0 512.8,117.4 505.9,120.7 509.5,121.3" fill="#30307e" stroke="#30307e"/><polygon points="487.7,117.2 484.1,116.3 477.2,119.8 480.8,120.6" fill="#303181" stroke="#303181"/><polygon points="459.0,115.6 455.4,114.8 448.5,118.3 452.1,119.1" fill="#2f3386" stroke="#2f3386"/><polygon points="430.3,114.4 426.7,113.5 419.8,117.2 423.4,118.0" fill="#2e348a" stroke="#2e348a"/><polygon points="401.7,113.3 398.0,112.7 391.0,116.4 394.7,117.1" fill="#2e358e" stroke="#2e358e"/><polygon points="373.0,113.0 369.4,112.3 362.4,116.2 366.0,116.9" fill="#2e358e" stroke="#2e358e"/><polygon points="344.3,112.9 340.7,112.2 333.6,116.3 337.2,116.9" fill="#2e368f" stroke="#2e368f"/><polygon points="520.0,118.6 516.4,118.0 509.5,121.3 513.1,121.9" fill="#30307e" stroke="#30307e"/><polygon points="491.4,118.0 487.7,117.2 480.8,120.6 484.4,121.4" fill="#303180" stroke="#303180"/><polygon points="462.7,116.4 459.0,115.6 452.1,119.1 455.7,119.9" fill="#2f3286" stroke="#2f3286"/><polygon points="434.0,115.2 430.3,114.4 423.4,118.0 427.0,118.8" fill="#2f348a" stroke="#2f348a"/><polygon points="405.3,114.0 401.7,113.3 394.7,117.1 398.3,117.8" fill="#2e358d" stroke="#2e358d"/><polygon points="376.6,113.7 373.0,113.0 366.0,116.9 369.6,117.5" fill="#2e358e" stroke="#2e358e"/><polygon points="347.9,113.5 344.3,112.9 337.2,116.9 340.9,117.5" fill="#2e358e" stroke="#2e358e"/><polygon points="523.7,119.1 520.0,118.6 513.1,121.9 516.7,122.4" fill="#30307e" stroke="#30307e"/><polygon points="495.0,118.8 491.4,118.0 484.4,121.4 488.0,122.1" fill="#30307f" stroke="#30307f"/><polygon points="466.3,117.3 462.7,116.4 455.7,119.9 459.3,120.7" fill="#2f3285" stroke="#2f3285"/><polygon points="437.6,116.0 434.0,115.2 427.0,118.8 430.6,119.5" fill="#2f3389" stroke="#2f3389"/><polygon points="408.9,114.8 405.3,114.0 398.3,117.8 401.9,118.5" fill="#2e358d" stroke="#2e358d"/><polygon points="380.2,114.4 376.6,113.7 369.6,117.5 373.2,118.2" fill="#2e358e" stroke="#2e358e"/><polygon points="351.5,114.2 347.9,113.5 340.9,117.5 344.5,118.2" fill="#2e358e" stroke="#2e358e"/><polygon points="498.6,119.5 495.0,118.8 488.0,122.1 491.7,122.8" fill="#30307f" stroke="#30307f"/><polygon points="469.9,118.1 466.3,117.3 459.3,120.7 463.0,121.5" fill="#2f3284" stroke="#2f3284"/><polygon points="441.2,116.8 437.6,116.0 430.6,119.5 434.3,120.3" fill="#2f3388" stroke="#2f3388"/><polygon points="412.5,115.5 408.9,114.8 401.9,118.5 405.5,119.2" fill="#2e348c" stroke="#2e348c"/><polygon points="383.8,115.1 380.2,114.4 373.2,118.2 376.8,118.9" fill="#2e358d" stroke="#2e358d"/><polygon points="355.2,114.8 351.5,114.2 344.5,118.2 348.1,118.8" fill="#2e358e" stroke="#2e358e"/><polygon points="502.2,120.1 498.6,119.5 491.7,122.8 495.3,123.4" fill="#30307e" stroke="#30307e"/><polygon points="473.5,119.0 469.9,118.1 463.0,121.5 466.6,122.4" fill="#2f3183" stroke="#2f3183"/><polygon points="444.8,117.5 441.2,116.8 434.3,120.3 437.9,121.0" fill="#2f3387" stroke="#2f3387"/><polygon points="416.1,116.4 412.5,115.5 405.5,119.2 409.2,120.0" fill="#2e348b" stroke="#2e348b"/><polygon points="387.4,115.8 383.8,115.1 376.8,118.9 380.5,119.5" fill="#2e358d" stroke="#2e358d"/><polygon points="358.8,115.5 355.2,114.8 348.1,118.8 351.7,119.5" fill="#2e358d" stroke="#2e358d"/><polygon points="505.9,120.7 502.2,120.1 495.3,123.4 498.9,124.0" fill="#30307e" stroke="#30307e"/><polygon points="477.2,119.8 473.5,119.0 466.6,122.4 470.2,123.2" fill="#303182" stroke="#303182"/><polygon points="448.5,118.3 444.8,117.5 437.9,121.0 441.5,121.8" fill="#2f3386" stroke="#2f3386"/><polygon points="419.8,117.2 416.1,116.4 409.2,120.0 412.8,120.8" fill="#2e348a" stroke="#2e348a"/><polygon points="391.0,116.4 387.4,115.8 380.5,119.5 384.1,120.2" fill="#2e348c" stroke="#2e348c"/><polygon points="362.4,116.2 358.8,115.5 351.7,119.5 355.4,120.1" fill="#2e358d" stroke="#2e358d"/><polygon points="509.5,121.3 505.9,120.7 498.9,124.0 502.5,124.6" fill="#30307e" stroke="#30307e"/><polygon points="480.8,120.6 477.2,119.8 470.2,123.2 473.8,124.0" fill="#303181" stroke="#303181"/><polygon points="452.1,119.1 448.5,118.3 441.5,121.8 445.1,122.6" fill="#2f3286" stroke="#2f3286"/><polygon points="423.4,118.0 419.8,117.2 412.8,120.8 416.4,121.6" fill="#2f3489" stroke="#2f3489"/><polygon points="394.7,117.1 391.0,116.4 384.1,120.2 387.7,120.8" fill="#2e348c" stroke="#2e348c"/><polygon points="366.0,116.9 362.4,116.2 355.4,120.1 359.0,120.8" fill="#2e358d" stroke="#2e358d"/><polygon points="513.1,121.9 509.5,121.3 502.5,124.6 506.1,125.1" fill="#30307e" stroke="#30307e"/><polygon points="484.4,121.4 480.8,120.6 473.8,124.0 477.4,124.7" fill="#303180" stroke="#303180"/><polygon points="455.7,119.9 452.1,119.1 445.1,122.6 448.7,123.3" fill="#2f3285" stroke="#2f3285"/><polygon points="427.0,118.8 423.4,118.0 416.4,121.6 420.0,122.4" fill="#2f3388" stroke="#2f3388"/><polygon points="398.3,117.8 394.7,117.1 387.7,120.8 391.3,121.5" fill="#2e348c" stroke="#2e348c"/><polygon points="369.6,117.5 366.0,116.9 359.0,120.8 362.6,121.4" fill="#2e348c" stroke="#2e348c"/><polygon points="516.7,122.4 513.1,121.9 506.1,125.1 509.8,125.7" fill="#30307e" stroke="#30307e"/><polygon points="488.0,122.1 484.4,121.4 477.4,124.7 481.1,125.5" fill="#30307f" stroke="#30307f"/><polygon points="459.3,120.7 455.7,119.9 448.7,123.3 452.4,124.1" fill="#2f3284" stroke="#2f3284"/><polygon points="430.6,119.5 427.0,118.8 420.0,122.4 423.7,123.1" fill="#2f3388" stroke="#2f3388"/><polygon points="401.9,118.5 398.3,117.8 391.3,121.5 395.0,122.2" fill="#2e348b" stroke="#2e348b"/><polygon points="373.2,118.2 369.6,117.5 362.6,121.4 366.2,122.0" fill="#2e348c" stroke="#2e348c"/><polygon points="491.7,122.8 488.0,122.1 481.1,125.5 484.7,126.1" fill="#30307f" stroke="#30307f"/><polygon points="463.0,121.5 459.3,120.7 452.4,124.1 456.0,124.9" fill="#2f3283" stroke="#2f3283"/><polygon points="434.3,120.3 430.6,119.5 423.7,123.1 427.3,123.8" fill="#2f3387" stroke="#2f3387"/><polygon points="405.5,119.2 401.9,118.5 395.0,122.2 398.6,122.9" fill="#2e348a" stroke="#2e348a"/><polygon points="376.8,118.9 373.2,118.2 366.2,122.0 369.9,122.7" fill="#2e348b" stroke="#2e348b"/><polygon points="495.3,123.4 491.7,122.8 484.7,126.1 488.3,126.7" fill="#30307e" stroke="#30307e"/><polygon points="466.6,122.4 463.0,121.5 456.0,124.9 459.6,125.7" fill="#2f3182" stroke="#2f3182"/><polygon points="437.9,121.0 434.3,120.3 427.3,123.8 430.9,124.6" fill="#2f3386" stroke="#2f3386"/><polygon points="409.2,120.0 405.5,119.2 398.6,122.9 402.2,123.7" fill="#2f348a" stroke="#2f348a"/><polygon points="380.5,119.5 376.8,118.9 369.9,122.7 373.5,123.3" fill="#2e348b" stroke="#2e348b"/><polygon points="498.9,124.0 495.3,123.4 488.3,126.7 491.9,127.3" fill="#30307e" stroke="#30307e"/><polygon points="470.2,123.2 466.6,122.4 459.6,125.7 463.2,126.5" fill="#303181" stroke="#303181"/><polygon points="441.5,121.8 437.9,121.0 430.9,124.6 434.5,125.3" fill="#2f3286" stroke="#2f3286"/><polygon points="412.8,120.8 409.2,120.0 402.2,123.7 405.8,124.5" fill="#2f3389" stroke="#2f3389"/><polygon points="384.1,120.2 380.5,119.5 373.5,123.3 377.1,124.0" fill="#2e348b" stroke="#2e348b"/><polygon points="502.5,124.6 498.9,124.0 491.9,127.3 495.6,127.9" fill="#30307e" stroke="#30307e"/><polygon points="473.8,124.0 470.2,123.2 463.2,126.5 466.9,127.3" fill="#303181" stroke="#303181"/><polygon points="445.1,122.6 441.5,121.8 434.5,125.3 438.2,126.0" fill="#2f3285" stroke="#2f3285"/><polygon points="416.4,121.6 412.8,120.8 405.8,124.5 409.5,125.2" fill="#2f3388" stroke="#2f3388"/><polygon points="387.7,120.8 384.1,120.2 377.1,124.0 380.7,124.6" fill="#2e348a" stroke="#2e348a"/><polygon points="506.1,125.1 502.5,124.6 495.6,127.9 499.2,128.4" fill="#30307e" stroke="#30307e"/><polygon points="477.4,124.7 473.8,124.0 466.9,127.3 470.5,128.1" fill="#303180" stroke="#303180"/><polygon points="448.7,123.3 445.1,122.6 438.2,126.0 441.8,126.8" fill="#2f3284" stroke="#2f3284"/><polygon points="420.0,122.4 416.4,121.6 409.5,125.2 413.1,126.0" fill="#2f3387" stroke="#2f3387"/><polygon points="391.3,121.5 387.7,120.8 380.7,124.6 384.4,125.2" fill="#2f348a" stroke="#2f348a"/><polygon points="509.8,125.7 506.1,125.1 499.2,128.4 502.8,129.0" fill="#30307e" stroke="#30307e"/><polygon points="481.1,125.5 477.4,124.7 470.5,128.1 474.1,128.8" fill="#30307f" stroke="#30307f"/><polygon points="452.4,124.1 448.7,123.3 441.8,126.8 445.4,127.5" fill="#2f3284" stroke="#2f3284"/><polygon points="423.7,123.1 420.0,122.4 413.1,126.0 416.7,126.7" fill="#2f3387" stroke="#2f3387"/><polygon points="395.0,122.2 391.3,121.5 384.4,125.2 388.0,125.9" fill="#2f348a" stroke="#2f348a"/><polygon points="484.7,126.1 481.1,125.5 474.1,128.8 477.7,129.4" fill="#30307f" stroke="#30307f"/><polygon points="456.0,124.9 452.4,124.1 445.4,127.5 449.0,128.3" fill="#2f3283" stroke="#2f3283"/><polygon points="427.3,123.8 423.7,123.1 416.7,126.7 420.3,127.4" fill="#2f3386" stroke="#2f3386"/><polygon points="398.6,122.9 395.0,122.2 388.0,125.9 391.6,126.6" fill="#2f3389" stroke="#2f3389"/><polygon points="488.3,126.7 484.7,126.1 477.7,129.4 481.4,130.0" fill="#30307e" stroke="#30307e"/><polygon points="459.6,125.7 456.0,124.9 449.0,128.3 452.7,129.1" fill="#303182" stroke="#303182"/><polygon points="430.9,124.6 427.3,123.8 420.3,127.4 424.0,128.1" fill="#2f3286" stroke="#2f3286"/><polygon points="402.2,123.7 398.6,122.9 391.6,126.6 395.2,127.4" fill="#2f3388" stroke="#2f3388"/><polygon points="491.9,127.3 488.3,126.7 481.4,130.0 485.0,130.6" fill="#30307e" stroke="#30307e"/><polygon points="463.2,126.5 459.6,125.7 452.7,129.1 456.3,129.9" fill="#303181" stroke="#303181"/><polygon points="434.5,125.3 430.9,124.6 424.0,128.1 427.6,128.8" fill="#2f3285" stroke="#2f3285"/><polygon points="405.8,124.5 402.2,123.7 395.2,127.4 398.9,128.1" fill="#2f3388" stroke="#2f3388"/><polygon points="495.6,127.9 491.9,127.3 485.0,130.6 488.6,131.2" fill="#30307e" stroke="#30307e"/><polygon points="466.9,127.3 463.2,126.5 456.3,129.9 459.9,130.7" fill="#303180" stroke="#303180"/><polygon points="438.2,126.0 434.5,125.3 427.6,128.8 431.2,129.5" fill="#2f3284" stroke="#2f3284"/><polygon points="409.5,125.2 405.8,124.5 398.9,128.1 402.5,128.9" fill="#2f3387" stroke="#2f3387"/><polygon points="499.2,128.4 495.6,127.9 488.6,131.2 492.2,131.7" fill="#30307e" stroke="#30307e"/><polygon points="470.5,128.1 466.9,127.3 459.9,130.7 463.5,131.4" fill="#303080" stroke="#303080"/><polygon points="441.8,126.8 438.2,126.0 431.2,129.5 434.8,130.2" fill="#2f3284" stroke="#2f3284"/><polygon points="413.1,126.0 409.5,125.2 402.5,128.9 406.1,129.6" fill="#2f3386" stroke="#2f3386"/><polygon points="502.8,129.0 499.2,128.4 492.2,131.7 495.9,132.3" fill="#30307e" stroke="#30307e"/><polygon points="474.1,128.8 470.5,128.1 463.5,131.4 467.2,132.1" fill="#30307f" stroke="#30307f"/><polygon points="445.4,127.5 441.8,126.8 434.8,130.2 438.5,130.9" fill="#2f3283" stroke="#2f3283"/><polygon points="416.7,126.7 413.1,126.0 406.1,129.6 409.7,130.2" fill="#2f3286" stroke="#2f3286"/><polygon points="477.7,129.4 474.1,128.8 467.2,132.1 470.8,132.7" fill="#30307f" stroke="#30307f"/><polygon points="449.0,128.3 445.4,127.5 438.5,130.9 442.1,131.7" fill="#2f3182" stroke="#2f3182"/><polygon points="420.3,127.4 416.7,126.7 409.7,130.2 413.4,130.9" fill="#2f3285" stroke="#2f3285"/><polygon points="481.4,130.0 477.7,129.4 470.8,132.7 474.4,133.3" fill="#30307e" stroke="#30307e"/><polygon points="452.7,129.1 449.0,128.3 442.1,131.7 445.7,132.5" fill="#303182" stroke="#303182"/><polygon points="424.0,128.1 420.3,127.4 413.4,130.9 417.0,131.6" fill="#2f3285" stroke="#2f3285"/><polygon points="485.0,130.6 481.4,130.0 474.4,133.3 478.0,133.9" fill="#30307e" stroke="#30307e"/><polygon points="456.3,129.9 452.7,129.1 445.7,132.5 449.3,133.2" fill="#303181" stroke="#303181"/><polygon points="427.6,128.8 424.0,128.1 417.0,131.6 420.6,132.2" fill="#2f3284" stroke="#2f3284"/><polygon points="488.6,131.2 485.0,130.6 478.0,133.9 481.7,134.4" fill="#30307e" stroke="#30307e"/><polygon points="459.9,130.7 456.3,129.9 449.3,133.2 453.0,134.0" fill="#303180" stroke="#303180"/><polygon points="431.2,129.5 427.6,128.8 420.6,132.2 424.2,132.9" fill="#2f3284" stroke="#2f3284"/><polygon points="492.2,131.7 488.6,131.2 481.7,134.4 485.3,135.0" fill="#30307e" stroke="#30307e"/><polygon points="463.5,131.4 459.9,130.7 453.0,134.0 456.6,134.7" fill="#30307f" stroke="#30307f"/><polygon points="434.8,130.2 431.2,129.5 424.2,132.9 427.9,133.6" fill="#2f3283" stroke="#2f3283"/><polygon points="495.9,132.3 492.2,131.7 485.3,135.0 488.9,135.5" fill="#30307e" stroke="#30307e"/><polygon points="467.2,132.1 463.5,131.4 456.6,134.7 460.2,135.4" fill="#30307f" stroke="#30307f"/><polygon points="438.5,130.9 434.8,130.2 427.9,133.6 431.5,134.3" fill="#2f3183" stroke="#2f3183"/><polygon points="470.8,132.7 467.2,132.1 460.2,135.4 463.8,136.0" fill="#30307e" stroke="#30307e"/><polygon points="442.1,131.7 438.5,130.9 431.5,134.3 435.1,135.1" fill="#2f3182" stroke="#2f3182"/><polygon points="474.4,133.3 470.8,132.7 463.8,136.0 467.5,136.6" fill="#30307e" stroke="#30307e"/><polygon points="445.7,132.5 442.1,131.7 435.1,135.1 438.7,135.9" fill="#303181" stroke="#303181"/><polygon points="478.0,133.9 474.4,133.3 467.5,136.6 471.1,137.2" fill="#30307e" stroke="#30307e"/><polygon points="449.3,133.2 445.7,132.5 438.7,135.9 442.4,136.6" fill="#303181" stroke="#303181"/><polygon points="481.7,134.4 478.0,133.9 471.1,137.2 474.7,137.7" fill="#30307e" stroke="#30307e"/><polygon points="453.0,134.0 449.3,133.2 442.4,136.6 446.0,137.3" fill="#303180" stroke="#303180"/><polygon points="485.3,135.0 481.7,134.4 474.7,137.7 478.3,138.3" fill="#30307e" stroke="#30307e"/><polygon points="456.6,134.7 453.0,134.0 446.0,137.3 449.6,138.0" fill="#30307f" stroke="#30307f"/><polygon points="488.9,135.5 485.3,135.0 478.3,138.3 482.0,138.8" fill="#30307e" stroke="#30307e"/><polygon points="460.2,135.4 456.6,134.7 449.6,138.0 453.2,138.7" fill="#30307f" stroke="#30307f"/><polygon points="463.8,136.0 460.2,135.4 453.2,138.7 456.9,139.4" fill="#30307e" stroke="#30307e"/><polygon points="467.5,136.6 463.8,136.0 456.9,139.4 460.5,139.9" fill="#30307e" stroke="#30307e"/><polygon points="471.1,137.2 467.5,136.6 460.5,139.9 464.1,140.5" fill="#30307e" stroke="#30307e"/><polygon points="474.7,137.7 471.1,137.2 464.1,140.5 467.7,141.0" fill="#30307e" stroke="#30307e"/><polygon points="478.3,138.3 474.7,137.7 467.7,141.0 471.4,141.6" fill="#30307e" stroke="#30307e"/><polygon points="482.0,138.8 478.3,138.3 471.4,141.6 475.0,142.1" fill="#30307e" stroke="#30307e"/></g>
<line x1="330.0" y1="120.4" x2="330.0" y2="48.8" stroke="#222" stroke-width="0.9"/><line x1="330.0" y1="120.4" x2="475.0" y2="142.1" stroke="#222" stroke-width="0.9"/><line x1="475.0" y1="142.1" x2="556.8" y2="103.5" stroke="#222" stroke-width="0.9"/><line x1="330.0" y1="120.4" x2="326.0" y2="120.4" stroke="#222" stroke-width="0.9"/><text x="323.8" y="124.9" text-anchor="end" class="t">0</text><line x1="330.0" y1="96.5" x2="326.0" y2="96.5" stroke="#222" stroke-width="0.9"/><text x="323.8" y="101.0" text-anchor="end" class="t">30</text><line x1="330.0" y1="72.6" x2="326.0" y2="72.6" stroke="#222" stroke-width="0.9"/><text x="323.8" y="77.1" text-anchor="end" class="t">60</text><line x1="330.0" y1="48.8" x2="326.0" y2="48.8" stroke="#222" stroke-width="0.9"/><text x="323.8" y="53.3" text-anchor="end" class="t">90</text><line x1="330.0" y1="120.4" x2="325.9" y2="122.3" stroke="#222" stroke-width="0.9"/><text x="324.6" y="135.8" text-anchor="end" class="t">1</text><line x1="359.0" y1="124.7" x2="354.9" y2="126.7" stroke="#222" stroke-width="0.9"/><text x="353.6" y="140.1" text-anchor="end" class="t">0.8</text><line x1="388.0" y1="129.1" x2="383.9" y2="131.0" stroke="#222" stroke-width="0.9"/><text x="382.6" y="144.5" text-anchor="end" class="t">0.6</text><line x1="417.0" y1="133.4" x2="412.9" y2="135.4" stroke="#222" stroke-width="0.9"/><text x="411.6" y="148.8" text-anchor="end" class="t">0.4</text><line x1="446.0" y1="137.8" x2="441.9" y2="139.7" stroke="#222" stroke-width="0.9"/><text x="440.6" y="153.2" text-anchor="end" class="t">0.2</text><line x1="475.0" y1="142.1" x2="470.9" y2="144.0" stroke="#222" stroke-width="0.9"/><text x="469.6" y="157.5" text-anchor="end" class="t">0</text><line x1="556.8" y1="103.5" x2="561.1" y2="104.2" stroke="#222" stroke-width="0.9"/><text x="565.5" y="116.6" text-anchor="middle" class="t">0</text><line x1="540.4" y1="111.2" x2="544.8" y2="111.9" stroke="#222" stroke-width="0.9"/><text x="549.1" y="124.3" text-anchor="middle" class="t">1</text><line x1="524.1" y1="118.9" x2="528.4" y2="119.6" stroke="#222" stroke-width="0.9"/><text x="532.8" y="132.0" text-anchor="middle" class="t">2</text><line x1="507.7" y1="126.7" x2="512.1" y2="127.3" stroke="#222" stroke-width="0.9"/><text x="516.4" y="139.8" text-anchor="middle" class="t">3</text><line x1="491.4" y1="134.4" x2="495.7" y2="135.0" stroke="#222" stroke-width="0.9"/><text x="500.1" y="147.5" text-anchor="middle" class="t">4</text><line x1="475.0" y1="142.1" x2="479.3" y2="142.8" stroke="#222" stroke-width="0.9"/><text x="483.7" y="155.2" text-anchor="middle" class="t">5</text>
<text x="280.0" y="13.6" class="pl">b</text>
<text transform="translate(297.7,81.2) rotate(-90)" text-anchor="middle" class="lb">Helix angle θ (°)</text>
<text x="359.9" y="165.0" class="lb">σ</text><text x="371.5" y="168.6" class="sb">2</text><text x="382.1" y="165.0" class="lb">/</text><text x="391.2" y="165.0" class="lb">σ</text><text x="401.8" y="168.6" class="sb">1</text>
<text x="534.4" y="149" text-anchor="middle" class="lb">η</text>
</svg></body></html>
